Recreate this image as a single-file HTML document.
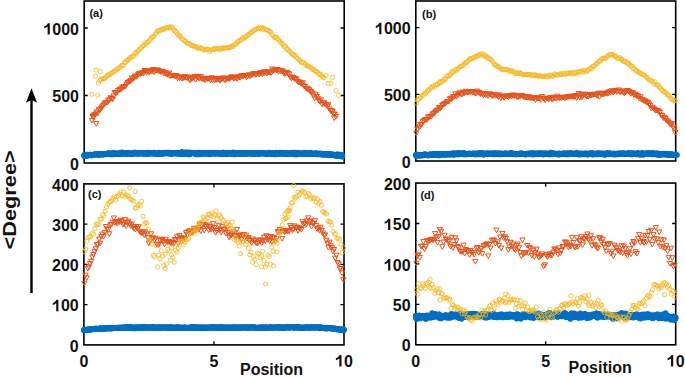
<!DOCTYPE html>
<html><head><meta charset="utf-8"><style>
html,body{margin:0;padding:0;background:#fff;}
body{width:685px;height:377px;overflow:hidden;position:relative;}
svg{position:absolute;left:0;top:0;}
text{font-family:"Liberation Sans",sans-serif;font-weight:bold;fill:#111;}
.tl{font-size:16px;}
.xl{font-size:16px;}
.yl{font-size:19px;}
</style></head><body>
<svg width="685" height="377" viewBox="0 0 685 377">
<defs><clipPath id="clipa"><rect x="83.2" y="0" width="262" height="164"/></clipPath><clipPath id="clipb"><rect x="414.8" y="0" width="261.9" height="162"/></clipPath><clipPath id="clipc"><rect x="82.9" y="182.9" width="262.1" height="163"/></clipPath><clipPath id="clipd"><rect x="414.8" y="182.05" width="261.9" height="163.75"/></clipPath></defs>
<rect x="84.2" y="1" width="260" height="162" fill="none" stroke="#000" stroke-width="1.6"/><path d="M84.2 95.5h3.6M344.2 95.5h-3.6" stroke="#000" stroke-width="1.3"/><path d="M84.2 28h3.6M344.2 28h-3.6" stroke="#000" stroke-width="1.3"/><rect x="415.8" y="1" width="259.9" height="160" fill="none" stroke="#000" stroke-width="1.6"/><path d="M415.8 94.33h3.6M675.7 94.33h-3.6" stroke="#000" stroke-width="1.3"/><path d="M415.8 27.67h3.6M675.7 27.67h-3.6" stroke="#000" stroke-width="1.3"/><rect x="83.9" y="183.9" width="260.1" height="161" fill="none" stroke="#000" stroke-width="1.6"/><path d="M83.9 304.65h3.6M344 304.65h-3.6" stroke="#000" stroke-width="1.3"/><path d="M83.9 264.4h3.6M344 264.4h-3.6" stroke="#000" stroke-width="1.3"/><path d="M83.9 224.15h3.6M344 224.15h-3.6" stroke="#000" stroke-width="1.3"/><path d="M213.95 344.9v-3.6M213.95 183.9v3.6" stroke="#000" stroke-width="1.3"/><rect x="415.8" y="183.05" width="259.9" height="161.75" fill="none" stroke="#000" stroke-width="1.6"/><path d="M415.8 304.36h3.6M675.7 304.36h-3.6" stroke="#000" stroke-width="1.3"/><path d="M415.8 263.93h3.6M675.7 263.93h-3.6" stroke="#000" stroke-width="1.3"/><path d="M415.8 223.49h3.6M675.7 223.49h-3.6" stroke="#000" stroke-width="1.3"/><path d="M545.75 344.8v-3.6M545.75 183.05v3.6" stroke="#000" stroke-width="1.3"/>
<g><g fill="#006FC4"><circle cx="84.2" cy="155.43" r="2.8"/><circle cx="84.52" cy="154.86" r="2.8"/><circle cx="84.85" cy="154.88" r="2.8"/><circle cx="85.17" cy="155.55" r="2.8"/><circle cx="85.49" cy="155.43" r="2.8"/><circle cx="85.82" cy="155.49" r="2.8"/><circle cx="86.14" cy="155.01" r="2.8"/><circle cx="86.46" cy="155.23" r="2.8"/><circle cx="86.79" cy="154.87" r="2.8"/><circle cx="87.11" cy="155.89" r="2.8"/><circle cx="87.43" cy="154.47" r="2.8"/><circle cx="87.75" cy="155.11" r="2.8"/><circle cx="88.08" cy="154.76" r="2.8"/><circle cx="88.4" cy="155.07" r="2.8"/><circle cx="88.72" cy="155.14" r="2.8"/><circle cx="89.05" cy="154.78" r="2.8"/><circle cx="89.37" cy="154.61" r="2.8"/><circle cx="89.69" cy="155" r="2.8"/><circle cx="90.02" cy="154.95" r="2.8"/><circle cx="90.34" cy="154.59" r="2.8"/><circle cx="90.66" cy="155.2" r="2.8"/><circle cx="90.99" cy="155.43" r="2.8"/><circle cx="91.31" cy="154.64" r="2.8"/><circle cx="91.63" cy="155.04" r="2.8"/><circle cx="91.96" cy="155.53" r="2.8"/><circle cx="92.28" cy="155.05" r="2.8"/><circle cx="92.6" cy="154.89" r="2.8"/><circle cx="92.92" cy="155.16" r="2.8"/><circle cx="93.25" cy="155.26" r="2.8"/><circle cx="93.57" cy="154.61" r="2.8"/><circle cx="93.89" cy="154.24" r="2.8"/><circle cx="94.22" cy="154.68" r="2.8"/><circle cx="94.54" cy="154.86" r="2.8"/><circle cx="94.86" cy="154.38" r="2.8"/><circle cx="95.19" cy="154.22" r="2.8"/><circle cx="95.51" cy="154.61" r="2.8"/><circle cx="95.83" cy="154.24" r="2.8"/><circle cx="96.16" cy="154.02" r="2.8"/><circle cx="96.48" cy="154.5" r="2.8"/><circle cx="96.8" cy="154.72" r="2.8"/><circle cx="97.13" cy="154.22" r="2.8"/><circle cx="97.45" cy="154.25" r="2.8"/><circle cx="97.77" cy="153.89" r="2.8"/><circle cx="98.09" cy="154.84" r="2.8"/><circle cx="98.42" cy="154.58" r="2.8"/><circle cx="98.74" cy="154.64" r="2.8"/><circle cx="99.06" cy="154.98" r="2.8"/><circle cx="99.39" cy="154.22" r="2.8"/><circle cx="99.71" cy="154.04" r="2.8"/><circle cx="100.03" cy="154.54" r="2.8"/><circle cx="100.36" cy="153.67" r="2.8"/><circle cx="100.68" cy="153.88" r="2.8"/><circle cx="101" cy="153.95" r="2.8"/><circle cx="101.33" cy="154.03" r="2.8"/><circle cx="101.65" cy="153.79" r="2.8"/><circle cx="101.97" cy="154.7" r="2.8"/><circle cx="102.3" cy="153.9" r="2.8"/><circle cx="102.62" cy="153.89" r="2.8"/><circle cx="102.94" cy="154.84" r="2.8"/><circle cx="103.26" cy="153.97" r="2.8"/><circle cx="103.59" cy="154.2" r="2.8"/><circle cx="103.91" cy="153.76" r="2.8"/><circle cx="104.23" cy="154.25" r="2.8"/><circle cx="104.56" cy="154.06" r="2.8"/><circle cx="104.88" cy="153.9" r="2.8"/><circle cx="105.2" cy="154.38" r="2.8"/><circle cx="105.53" cy="153.77" r="2.8"/><circle cx="105.85" cy="154.04" r="2.8"/><circle cx="106.17" cy="153.79" r="2.8"/><circle cx="106.5" cy="154.19" r="2.8"/><circle cx="106.82" cy="153.52" r="2.8"/><circle cx="107.14" cy="153.7" r="2.8"/><circle cx="107.47" cy="154.01" r="2.8"/><circle cx="107.79" cy="153.66" r="2.8"/><circle cx="108.11" cy="153.4" r="2.8"/><circle cx="108.43" cy="153.17" r="2.8"/><circle cx="108.76" cy="154.52" r="2.8"/><circle cx="109.08" cy="153.51" r="2.8"/><circle cx="109.4" cy="153.66" r="2.8"/><circle cx="109.73" cy="153.88" r="2.8"/><circle cx="110.05" cy="154.23" r="2.8"/><circle cx="110.37" cy="153.31" r="2.8"/><circle cx="110.7" cy="154.32" r="2.8"/><circle cx="111.02" cy="153.56" r="2.8"/><circle cx="111.34" cy="153.26" r="2.8"/><circle cx="111.67" cy="154.42" r="2.8"/><circle cx="111.99" cy="153.89" r="2.8"/><circle cx="112.31" cy="154.28" r="2.8"/><circle cx="112.64" cy="153.65" r="2.8"/><circle cx="112.96" cy="153.12" r="2.8"/><circle cx="113.28" cy="152.9" r="2.8"/><circle cx="113.6" cy="154.43" r="2.8"/><circle cx="113.93" cy="153.94" r="2.8"/><circle cx="114.25" cy="153.41" r="2.8"/><circle cx="114.57" cy="153.04" r="2.8"/><circle cx="114.9" cy="153.5" r="2.8"/><circle cx="115.22" cy="153.97" r="2.8"/><circle cx="115.54" cy="153.53" r="2.8"/><circle cx="115.87" cy="153.65" r="2.8"/><circle cx="116.19" cy="153.72" r="2.8"/><circle cx="116.51" cy="153.92" r="2.8"/><circle cx="116.84" cy="153.46" r="2.8"/><circle cx="117.16" cy="153.48" r="2.8"/><circle cx="117.48" cy="153.63" r="2.8"/><circle cx="117.81" cy="153.67" r="2.8"/><circle cx="118.13" cy="154.09" r="2.8"/><circle cx="118.45" cy="153.76" r="2.8"/><circle cx="118.77" cy="153.06" r="2.8"/><circle cx="119.1" cy="153.62" r="2.8"/><circle cx="119.42" cy="154.12" r="2.8"/><circle cx="119.74" cy="152.98" r="2.8"/><circle cx="120.07" cy="153.3" r="2.8"/><circle cx="120.39" cy="152.65" r="2.8"/><circle cx="120.71" cy="153.47" r="2.8"/><circle cx="121.04" cy="153.67" r="2.8"/><circle cx="121.36" cy="154.06" r="2.8"/><circle cx="121.68" cy="152.93" r="2.8"/><circle cx="122.01" cy="152.41" r="2.8"/><circle cx="122.33" cy="153.77" r="2.8"/><circle cx="122.65" cy="153.69" r="2.8"/><circle cx="122.98" cy="153.18" r="2.8"/><circle cx="123.3" cy="153.75" r="2.8"/><circle cx="123.62" cy="153.52" r="2.8"/><circle cx="123.94" cy="153.55" r="2.8"/><circle cx="124.27" cy="153.33" r="2.8"/><circle cx="124.59" cy="152.97" r="2.8"/><circle cx="124.91" cy="153.4" r="2.8"/><circle cx="125.24" cy="153.04" r="2.8"/><circle cx="125.56" cy="153.58" r="2.8"/><circle cx="125.88" cy="153.27" r="2.8"/><circle cx="126.21" cy="154.27" r="2.8"/><circle cx="126.53" cy="153.99" r="2.8"/><circle cx="126.85" cy="153.08" r="2.8"/><circle cx="127.18" cy="153.64" r="2.8"/><circle cx="127.5" cy="153.17" r="2.8"/><circle cx="127.82" cy="153.18" r="2.8"/><circle cx="128.15" cy="152.86" r="2.8"/><circle cx="128.47" cy="153.07" r="2.8"/><circle cx="128.79" cy="152.98" r="2.8"/><circle cx="129.11" cy="153.44" r="2.8"/><circle cx="129.44" cy="153.68" r="2.8"/><circle cx="129.76" cy="153.69" r="2.8"/><circle cx="130.08" cy="153.59" r="2.8"/><circle cx="130.41" cy="153.85" r="2.8"/><circle cx="130.73" cy="153.61" r="2.8"/><circle cx="131.05" cy="153.43" r="2.8"/><circle cx="131.38" cy="153.28" r="2.8"/><circle cx="131.7" cy="153.52" r="2.8"/><circle cx="132.02" cy="154.16" r="2.8"/><circle cx="132.35" cy="153.41" r="2.8"/><circle cx="132.67" cy="153.29" r="2.8"/><circle cx="132.99" cy="152.94" r="2.8"/><circle cx="133.32" cy="153.15" r="2.8"/><circle cx="133.64" cy="153.64" r="2.8"/><circle cx="133.96" cy="153.67" r="2.8"/><circle cx="134.28" cy="152.56" r="2.8"/><circle cx="134.61" cy="153.07" r="2.8"/><circle cx="134.93" cy="152.63" r="2.8"/><circle cx="135.25" cy="152.51" r="2.8"/><circle cx="135.58" cy="153.7" r="2.8"/><circle cx="135.9" cy="153.22" r="2.8"/><circle cx="136.22" cy="153.18" r="2.8"/><circle cx="136.55" cy="153.14" r="2.8"/><circle cx="136.87" cy="153.15" r="2.8"/><circle cx="137.19" cy="153.28" r="2.8"/><circle cx="137.52" cy="153.29" r="2.8"/><circle cx="137.84" cy="153.97" r="2.8"/><circle cx="138.16" cy="153.43" r="2.8"/><circle cx="138.49" cy="153.66" r="2.8"/><circle cx="138.81" cy="153.31" r="2.8"/><circle cx="139.13" cy="153.55" r="2.8"/><circle cx="139.46" cy="153.11" r="2.8"/><circle cx="139.78" cy="153.03" r="2.8"/><circle cx="140.1" cy="153.23" r="2.8"/><circle cx="140.42" cy="153.23" r="2.8"/><circle cx="140.75" cy="153.32" r="2.8"/><circle cx="141.07" cy="153.53" r="2.8"/><circle cx="141.39" cy="153.42" r="2.8"/><circle cx="141.72" cy="153.55" r="2.8"/><circle cx="142.04" cy="153.19" r="2.8"/><circle cx="142.36" cy="153.34" r="2.8"/><circle cx="142.69" cy="153.11" r="2.8"/><circle cx="143.01" cy="153.88" r="2.8"/><circle cx="143.33" cy="152.99" r="2.8"/><circle cx="143.66" cy="153.65" r="2.8"/><circle cx="143.98" cy="153.64" r="2.8"/><circle cx="144.3" cy="153.42" r="2.8"/><circle cx="144.63" cy="153.57" r="2.8"/><circle cx="144.95" cy="153.22" r="2.8"/><circle cx="145.27" cy="153.57" r="2.8"/><circle cx="145.59" cy="153.77" r="2.8"/><circle cx="145.92" cy="153.68" r="2.8"/><circle cx="146.24" cy="152.8" r="2.8"/><circle cx="146.56" cy="153.32" r="2.8"/><circle cx="146.89" cy="153.81" r="2.8"/><circle cx="147.21" cy="153.33" r="2.8"/><circle cx="147.53" cy="153.96" r="2.8"/><circle cx="147.86" cy="152.6" r="2.8"/><circle cx="148.18" cy="153.95" r="2.8"/><circle cx="148.5" cy="153.13" r="2.8"/><circle cx="148.83" cy="153.11" r="2.8"/><circle cx="149.15" cy="153.91" r="2.8"/><circle cx="149.47" cy="153.2" r="2.8"/><circle cx="149.8" cy="152.92" r="2.8"/><circle cx="150.12" cy="153.13" r="2.8"/><circle cx="150.44" cy="153.21" r="2.8"/><circle cx="150.76" cy="152.94" r="2.8"/><circle cx="151.09" cy="153.25" r="2.8"/><circle cx="151.41" cy="153.18" r="2.8"/><circle cx="151.73" cy="153.37" r="2.8"/><circle cx="152.06" cy="153.06" r="2.8"/><circle cx="152.38" cy="153.7" r="2.8"/><circle cx="152.7" cy="152.99" r="2.8"/><circle cx="153.03" cy="153.52" r="2.8"/><circle cx="153.35" cy="153.75" r="2.8"/><circle cx="153.67" cy="153.16" r="2.8"/><circle cx="154" cy="152.62" r="2.8"/><circle cx="154.32" cy="152.92" r="2.8"/><circle cx="154.64" cy="153.52" r="2.8"/><circle cx="154.97" cy="153.02" r="2.8"/><circle cx="155.29" cy="153.49" r="2.8"/><circle cx="155.61" cy="153.35" r="2.8"/><circle cx="155.93" cy="153.27" r="2.8"/><circle cx="156.26" cy="154.24" r="2.8"/><circle cx="156.58" cy="153.22" r="2.8"/><circle cx="156.9" cy="153.72" r="2.8"/><circle cx="157.23" cy="153.58" r="2.8"/><circle cx="157.55" cy="153.89" r="2.8"/><circle cx="157.87" cy="153.91" r="2.8"/><circle cx="158.2" cy="153.68" r="2.8"/><circle cx="158.52" cy="152.96" r="2.8"/><circle cx="158.84" cy="152.62" r="2.8"/><circle cx="159.17" cy="153.3" r="2.8"/><circle cx="159.49" cy="152.85" r="2.8"/><circle cx="159.81" cy="153.4" r="2.8"/><circle cx="160.14" cy="154.06" r="2.8"/><circle cx="160.46" cy="153.23" r="2.8"/><circle cx="160.78" cy="153.1" r="2.8"/><circle cx="161.1" cy="153.46" r="2.8"/><circle cx="161.43" cy="153.16" r="2.8"/><circle cx="161.75" cy="153.05" r="2.8"/><circle cx="162.07" cy="153.63" r="2.8"/><circle cx="162.4" cy="153.88" r="2.8"/><circle cx="162.72" cy="153.37" r="2.8"/><circle cx="163.04" cy="153.37" r="2.8"/><circle cx="163.37" cy="153.43" r="2.8"/><circle cx="163.69" cy="152.88" r="2.8"/><circle cx="164.01" cy="152.59" r="2.8"/><circle cx="164.34" cy="153.45" r="2.8"/><circle cx="164.66" cy="153" r="2.8"/><circle cx="164.98" cy="152.91" r="2.8"/><circle cx="165.31" cy="153" r="2.8"/><circle cx="165.63" cy="152.86" r="2.8"/><circle cx="165.95" cy="153.45" r="2.8"/><circle cx="166.27" cy="152.99" r="2.8"/><circle cx="166.6" cy="152.47" r="2.8"/><circle cx="166.92" cy="152.97" r="2.8"/><circle cx="167.24" cy="153.54" r="2.8"/><circle cx="167.57" cy="153.05" r="2.8"/><circle cx="167.89" cy="152.78" r="2.8"/><circle cx="168.21" cy="153.15" r="2.8"/><circle cx="168.54" cy="153.52" r="2.8"/><circle cx="168.86" cy="152.67" r="2.8"/><circle cx="169.18" cy="153.8" r="2.8"/><circle cx="169.51" cy="153.1" r="2.8"/><circle cx="169.83" cy="153.31" r="2.8"/><circle cx="170.15" cy="153.78" r="2.8"/><circle cx="170.48" cy="152.81" r="2.8"/><circle cx="170.8" cy="153.16" r="2.8"/><circle cx="171.12" cy="153.78" r="2.8"/><circle cx="171.44" cy="153.06" r="2.8"/><circle cx="171.77" cy="153.48" r="2.8"/><circle cx="172.09" cy="154.08" r="2.8"/><circle cx="172.41" cy="153.59" r="2.8"/><circle cx="172.74" cy="153.2" r="2.8"/><circle cx="173.06" cy="153.05" r="2.8"/><circle cx="173.38" cy="153.24" r="2.8"/><circle cx="173.71" cy="153.29" r="2.8"/><circle cx="174.03" cy="153.12" r="2.8"/><circle cx="174.35" cy="153.4" r="2.8"/><circle cx="174.68" cy="152.84" r="2.8"/><circle cx="175" cy="153.25" r="2.8"/><circle cx="175.32" cy="153.2" r="2.8"/><circle cx="175.65" cy="153.1" r="2.8"/><circle cx="175.97" cy="153.74" r="2.8"/><circle cx="176.29" cy="153.6" r="2.8"/><circle cx="176.61" cy="152.7" r="2.8"/><circle cx="176.94" cy="153.18" r="2.8"/><circle cx="177.26" cy="153.43" r="2.8"/><circle cx="177.58" cy="153.18" r="2.8"/><circle cx="177.91" cy="153.52" r="2.8"/><circle cx="178.23" cy="153.21" r="2.8"/><circle cx="178.55" cy="153.59" r="2.8"/><circle cx="178.88" cy="153.21" r="2.8"/><circle cx="179.2" cy="153.96" r="2.8"/><circle cx="179.52" cy="152.79" r="2.8"/><circle cx="179.85" cy="153.53" r="2.8"/><circle cx="180.17" cy="153.97" r="2.8"/><circle cx="180.49" cy="153.42" r="2.8"/><circle cx="180.82" cy="153.48" r="2.8"/><circle cx="181.14" cy="153.27" r="2.8"/><circle cx="181.46" cy="153.79" r="2.8"/><circle cx="181.78" cy="153.17" r="2.8"/><circle cx="182.11" cy="151.86" r="2.8"/><circle cx="182.43" cy="153.85" r="2.8"/><circle cx="182.75" cy="153.2" r="2.8"/><circle cx="183.08" cy="153.46" r="2.8"/><circle cx="183.4" cy="153.26" r="2.8"/><circle cx="183.72" cy="154.07" r="2.8"/><circle cx="184.05" cy="153.8" r="2.8"/><circle cx="184.37" cy="153.15" r="2.8"/><circle cx="184.69" cy="153.35" r="2.8"/><circle cx="185.02" cy="152.68" r="2.8"/><circle cx="185.34" cy="153.63" r="2.8"/><circle cx="185.66" cy="153.27" r="2.8"/><circle cx="185.99" cy="152.16" r="2.8"/><circle cx="186.31" cy="153.65" r="2.8"/><circle cx="186.63" cy="153.71" r="2.8"/><circle cx="186.95" cy="153.36" r="2.8"/><circle cx="187.28" cy="153.36" r="2.8"/><circle cx="187.6" cy="153" r="2.8"/><circle cx="187.92" cy="153.29" r="2.8"/><circle cx="188.25" cy="153.65" r="2.8"/><circle cx="188.57" cy="153.26" r="2.8"/><circle cx="188.89" cy="152.28" r="2.8"/><circle cx="189.22" cy="152.84" r="2.8"/><circle cx="189.54" cy="154.48" r="2.8"/><circle cx="189.86" cy="153.41" r="2.8"/><circle cx="190.19" cy="153.71" r="2.8"/><circle cx="190.51" cy="153.1" r="2.8"/><circle cx="190.83" cy="153.42" r="2.8"/><circle cx="191.16" cy="152.57" r="2.8"/><circle cx="191.48" cy="152.98" r="2.8"/><circle cx="191.8" cy="153" r="2.8"/><circle cx="192.13" cy="153.28" r="2.8"/><circle cx="192.45" cy="153.37" r="2.8"/><circle cx="192.77" cy="153.22" r="2.8"/><circle cx="193.09" cy="152.84" r="2.8"/><circle cx="193.42" cy="153.14" r="2.8"/><circle cx="193.74" cy="153.5" r="2.8"/><circle cx="194.06" cy="152.85" r="2.8"/><circle cx="194.39" cy="153.29" r="2.8"/><circle cx="194.71" cy="153.4" r="2.8"/><circle cx="195.03" cy="153.69" r="2.8"/><circle cx="195.36" cy="153.6" r="2.8"/><circle cx="195.68" cy="153.62" r="2.8"/><circle cx="196" cy="154.5" r="2.8"/><circle cx="196.33" cy="152.96" r="2.8"/><circle cx="196.65" cy="153.14" r="2.8"/><circle cx="196.97" cy="153.46" r="2.8"/><circle cx="197.3" cy="152.95" r="2.8"/><circle cx="197.62" cy="153.19" r="2.8"/><circle cx="197.94" cy="153.22" r="2.8"/><circle cx="198.26" cy="154.38" r="2.8"/><circle cx="198.59" cy="153.47" r="2.8"/><circle cx="198.91" cy="153.16" r="2.8"/><circle cx="199.23" cy="152.72" r="2.8"/><circle cx="199.56" cy="152.63" r="2.8"/><circle cx="199.88" cy="152.8" r="2.8"/><circle cx="200.2" cy="153.85" r="2.8"/><circle cx="200.53" cy="154.27" r="2.8"/><circle cx="200.85" cy="153.15" r="2.8"/><circle cx="201.17" cy="153.37" r="2.8"/><circle cx="201.5" cy="152.99" r="2.8"/><circle cx="201.82" cy="153.43" r="2.8"/><circle cx="202.14" cy="153.29" r="2.8"/><circle cx="202.47" cy="153.99" r="2.8"/><circle cx="202.79" cy="153.2" r="2.8"/><circle cx="203.11" cy="153.57" r="2.8"/><circle cx="203.43" cy="153.25" r="2.8"/><circle cx="203.76" cy="153.2" r="2.8"/><circle cx="204.08" cy="153.44" r="2.8"/><circle cx="204.4" cy="153.26" r="2.8"/><circle cx="204.73" cy="153.4" r="2.8"/><circle cx="205.05" cy="153.08" r="2.8"/><circle cx="205.37" cy="153.19" r="2.8"/><circle cx="205.7" cy="153.61" r="2.8"/><circle cx="206.02" cy="153.63" r="2.8"/><circle cx="206.34" cy="152.69" r="2.8"/><circle cx="206.67" cy="153.44" r="2.8"/><circle cx="206.99" cy="152.99" r="2.8"/><circle cx="207.31" cy="153.24" r="2.8"/><circle cx="207.64" cy="153.63" r="2.8"/><circle cx="207.96" cy="153.7" r="2.8"/><circle cx="208.28" cy="153.35" r="2.8"/><circle cx="208.6" cy="153.3" r="2.8"/><circle cx="208.93" cy="153.15" r="2.8"/><circle cx="209.25" cy="153.92" r="2.8"/><circle cx="209.57" cy="153.64" r="2.8"/><circle cx="209.9" cy="153.44" r="2.8"/><circle cx="210.22" cy="152.76" r="2.8"/><circle cx="210.54" cy="154.36" r="2.8"/><circle cx="210.87" cy="153.23" r="2.8"/><circle cx="211.19" cy="153.63" r="2.8"/><circle cx="211.51" cy="153.23" r="2.8"/><circle cx="211.84" cy="153.61" r="2.8"/><circle cx="212.16" cy="153.26" r="2.8"/><circle cx="212.48" cy="152.78" r="2.8"/><circle cx="212.81" cy="153.27" r="2.8"/><circle cx="213.13" cy="153.24" r="2.8"/><circle cx="213.45" cy="153.26" r="2.8"/><circle cx="213.77" cy="153.72" r="2.8"/><circle cx="214.1" cy="153.19" r="2.8"/><circle cx="214.42" cy="153.5" r="2.8"/><circle cx="214.74" cy="153.74" r="2.8"/><circle cx="215.07" cy="153.43" r="2.8"/><circle cx="215.39" cy="153.51" r="2.8"/><circle cx="215.71" cy="153.11" r="2.8"/><circle cx="216.04" cy="153.43" r="2.8"/><circle cx="216.36" cy="153.63" r="2.8"/><circle cx="216.68" cy="152.82" r="2.8"/><circle cx="217.01" cy="153.01" r="2.8"/><circle cx="217.33" cy="152.9" r="2.8"/><circle cx="217.65" cy="153.16" r="2.8"/><circle cx="217.98" cy="153.45" r="2.8"/><circle cx="218.3" cy="153.58" r="2.8"/><circle cx="218.62" cy="153.52" r="2.8"/><circle cx="218.94" cy="153.03" r="2.8"/><circle cx="219.27" cy="153.36" r="2.8"/><circle cx="219.59" cy="154.01" r="2.8"/><circle cx="219.91" cy="153.42" r="2.8"/><circle cx="220.24" cy="153.98" r="2.8"/><circle cx="220.56" cy="153.34" r="2.8"/><circle cx="220.88" cy="153.89" r="2.8"/><circle cx="221.21" cy="153.92" r="2.8"/><circle cx="221.53" cy="153.36" r="2.8"/><circle cx="221.85" cy="153.44" r="2.8"/><circle cx="222.18" cy="154.08" r="2.8"/><circle cx="222.5" cy="153.1" r="2.8"/><circle cx="222.82" cy="152.53" r="2.8"/><circle cx="223.15" cy="154" r="2.8"/><circle cx="223.47" cy="152.67" r="2.8"/><circle cx="223.79" cy="153.68" r="2.8"/><circle cx="224.11" cy="153.6" r="2.8"/><circle cx="224.44" cy="153.47" r="2.8"/><circle cx="224.76" cy="153.99" r="2.8"/><circle cx="225.08" cy="152.87" r="2.8"/><circle cx="225.41" cy="153.2" r="2.8"/><circle cx="225.73" cy="153.7" r="2.8"/><circle cx="226.05" cy="153.51" r="2.8"/><circle cx="226.38" cy="154.01" r="2.8"/><circle cx="226.7" cy="153.54" r="2.8"/><circle cx="227.02" cy="153.02" r="2.8"/><circle cx="227.35" cy="154.09" r="2.8"/><circle cx="227.67" cy="153.57" r="2.8"/><circle cx="227.99" cy="153.34" r="2.8"/><circle cx="228.32" cy="152.97" r="2.8"/><circle cx="228.64" cy="152.85" r="2.8"/><circle cx="228.96" cy="153.58" r="2.8"/><circle cx="229.28" cy="153.7" r="2.8"/><circle cx="229.61" cy="153.21" r="2.8"/><circle cx="229.93" cy="153.54" r="2.8"/><circle cx="230.25" cy="153.52" r="2.8"/><circle cx="230.58" cy="152.96" r="2.8"/><circle cx="230.9" cy="152.71" r="2.8"/><circle cx="231.22" cy="153.29" r="2.8"/><circle cx="231.55" cy="153.47" r="2.8"/><circle cx="231.87" cy="153.16" r="2.8"/><circle cx="232.19" cy="154.16" r="2.8"/><circle cx="232.52" cy="153.4" r="2.8"/><circle cx="232.84" cy="153.82" r="2.8"/><circle cx="233.16" cy="152.42" r="2.8"/><circle cx="233.49" cy="153.1" r="2.8"/><circle cx="233.81" cy="153.33" r="2.8"/><circle cx="234.13" cy="153.47" r="2.8"/><circle cx="234.45" cy="154.41" r="2.8"/><circle cx="234.78" cy="153.1" r="2.8"/><circle cx="235.1" cy="152.73" r="2.8"/><circle cx="235.42" cy="153.68" r="2.8"/><circle cx="235.75" cy="153.11" r="2.8"/><circle cx="236.07" cy="153.09" r="2.8"/><circle cx="236.39" cy="154.01" r="2.8"/><circle cx="236.72" cy="153.01" r="2.8"/><circle cx="237.04" cy="152.84" r="2.8"/><circle cx="237.36" cy="153.29" r="2.8"/><circle cx="237.69" cy="153.41" r="2.8"/><circle cx="238.01" cy="153.06" r="2.8"/><circle cx="238.33" cy="154.01" r="2.8"/><circle cx="238.66" cy="153.35" r="2.8"/><circle cx="238.98" cy="152.96" r="2.8"/><circle cx="239.3" cy="153.89" r="2.8"/><circle cx="239.63" cy="152.98" r="2.8"/><circle cx="239.95" cy="153.55" r="2.8"/><circle cx="240.27" cy="154.22" r="2.8"/><circle cx="240.59" cy="153.42" r="2.8"/><circle cx="240.92" cy="153.77" r="2.8"/><circle cx="241.24" cy="153.25" r="2.8"/><circle cx="241.56" cy="153.85" r="2.8"/><circle cx="241.89" cy="152.95" r="2.8"/><circle cx="242.21" cy="153.68" r="2.8"/><circle cx="242.53" cy="153.23" r="2.8"/><circle cx="242.86" cy="153.62" r="2.8"/><circle cx="243.18" cy="153.51" r="2.8"/><circle cx="243.5" cy="152.89" r="2.8"/><circle cx="243.83" cy="153.29" r="2.8"/><circle cx="244.15" cy="153.54" r="2.8"/><circle cx="244.47" cy="153.88" r="2.8"/><circle cx="244.8" cy="152.91" r="2.8"/><circle cx="245.12" cy="153.08" r="2.8"/><circle cx="245.44" cy="153.51" r="2.8"/><circle cx="245.76" cy="153.28" r="2.8"/><circle cx="246.09" cy="153.79" r="2.8"/><circle cx="246.41" cy="153.78" r="2.8"/><circle cx="246.73" cy="153.71" r="2.8"/><circle cx="247.06" cy="153.23" r="2.8"/><circle cx="247.38" cy="153.25" r="2.8"/><circle cx="247.7" cy="153.67" r="2.8"/><circle cx="248.03" cy="153.07" r="2.8"/><circle cx="248.35" cy="153.05" r="2.8"/><circle cx="248.67" cy="153.3" r="2.8"/><circle cx="249" cy="152.95" r="2.8"/><circle cx="249.32" cy="153.49" r="2.8"/><circle cx="249.64" cy="153.41" r="2.8"/><circle cx="249.97" cy="153.18" r="2.8"/><circle cx="250.29" cy="153.38" r="2.8"/><circle cx="250.61" cy="153.05" r="2.8"/><circle cx="250.93" cy="153.87" r="2.8"/><circle cx="251.26" cy="152.79" r="2.8"/><circle cx="251.58" cy="153.68" r="2.8"/><circle cx="251.9" cy="153.43" r="2.8"/><circle cx="252.23" cy="153.92" r="2.8"/><circle cx="252.55" cy="153.12" r="2.8"/><circle cx="252.87" cy="152.85" r="2.8"/><circle cx="253.2" cy="152.93" r="2.8"/><circle cx="253.52" cy="153.03" r="2.8"/><circle cx="253.84" cy="153.99" r="2.8"/><circle cx="254.17" cy="153.68" r="2.8"/><circle cx="254.49" cy="153.55" r="2.8"/><circle cx="254.81" cy="153.74" r="2.8"/><circle cx="255.14" cy="152.91" r="2.8"/><circle cx="255.46" cy="153.29" r="2.8"/><circle cx="255.78" cy="153.37" r="2.8"/><circle cx="256.1" cy="153.16" r="2.8"/><circle cx="256.43" cy="153.75" r="2.8"/><circle cx="256.75" cy="153.73" r="2.8"/><circle cx="257.07" cy="153.72" r="2.8"/><circle cx="257.4" cy="153.16" r="2.8"/><circle cx="257.72" cy="153.22" r="2.8"/><circle cx="258.04" cy="153.12" r="2.8"/><circle cx="258.37" cy="152.92" r="2.8"/><circle cx="258.69" cy="153.91" r="2.8"/><circle cx="259.01" cy="153.58" r="2.8"/><circle cx="259.34" cy="153.3" r="2.8"/><circle cx="259.66" cy="153.9" r="2.8"/><circle cx="259.98" cy="153.57" r="2.8"/><circle cx="260.31" cy="152.94" r="2.8"/><circle cx="260.63" cy="152.91" r="2.8"/><circle cx="260.95" cy="152.92" r="2.8"/><circle cx="261.27" cy="153.34" r="2.8"/><circle cx="261.6" cy="153.44" r="2.8"/><circle cx="261.92" cy="152.92" r="2.8"/><circle cx="262.24" cy="153.5" r="2.8"/><circle cx="262.57" cy="153.22" r="2.8"/><circle cx="262.89" cy="152.82" r="2.8"/><circle cx="263.21" cy="153.5" r="2.8"/><circle cx="263.54" cy="153.6" r="2.8"/><circle cx="263.86" cy="153.35" r="2.8"/><circle cx="264.18" cy="153.11" r="2.8"/><circle cx="264.51" cy="153.15" r="2.8"/><circle cx="264.83" cy="153.29" r="2.8"/><circle cx="265.15" cy="153.12" r="2.8"/><circle cx="265.48" cy="154" r="2.8"/><circle cx="265.8" cy="153.7" r="2.8"/><circle cx="266.12" cy="153.28" r="2.8"/><circle cx="266.44" cy="153.72" r="2.8"/><circle cx="266.77" cy="153.89" r="2.8"/><circle cx="267.09" cy="153.84" r="2.8"/><circle cx="267.41" cy="153.73" r="2.8"/><circle cx="267.74" cy="153.43" r="2.8"/><circle cx="268.06" cy="153.77" r="2.8"/><circle cx="268.38" cy="153.26" r="2.8"/><circle cx="268.71" cy="152.67" r="2.8"/><circle cx="269.03" cy="153.42" r="2.8"/><circle cx="269.35" cy="152.85" r="2.8"/><circle cx="269.68" cy="153.25" r="2.8"/><circle cx="270" cy="153.82" r="2.8"/><circle cx="270.32" cy="153.47" r="2.8"/><circle cx="270.65" cy="153.77" r="2.8"/><circle cx="270.97" cy="153.06" r="2.8"/><circle cx="271.29" cy="153.84" r="2.8"/><circle cx="271.61" cy="152.84" r="2.8"/><circle cx="271.94" cy="153.14" r="2.8"/><circle cx="272.26" cy="154.2" r="2.8"/><circle cx="272.58" cy="153.06" r="2.8"/><circle cx="272.91" cy="152.75" r="2.8"/><circle cx="273.23" cy="153.7" r="2.8"/><circle cx="273.55" cy="152.99" r="2.8"/><circle cx="273.88" cy="154.12" r="2.8"/><circle cx="274.2" cy="153.29" r="2.8"/><circle cx="274.52" cy="154.06" r="2.8"/><circle cx="274.85" cy="153.2" r="2.8"/><circle cx="275.17" cy="154.12" r="2.8"/><circle cx="275.49" cy="154.46" r="2.8"/><circle cx="275.82" cy="153.24" r="2.8"/><circle cx="276.14" cy="152.47" r="2.8"/><circle cx="276.46" cy="153.64" r="2.8"/><circle cx="276.78" cy="153.07" r="2.8"/><circle cx="277.11" cy="153.36" r="2.8"/><circle cx="277.43" cy="153.54" r="2.8"/><circle cx="277.75" cy="153.16" r="2.8"/><circle cx="278.08" cy="152.74" r="2.8"/><circle cx="278.4" cy="153.91" r="2.8"/><circle cx="278.72" cy="153.18" r="2.8"/><circle cx="279.05" cy="153.27" r="2.8"/><circle cx="279.37" cy="153.99" r="2.8"/><circle cx="279.69" cy="152.76" r="2.8"/><circle cx="280.02" cy="152.63" r="2.8"/><circle cx="280.34" cy="153.81" r="2.8"/><circle cx="280.66" cy="152.72" r="2.8"/><circle cx="280.99" cy="153.4" r="2.8"/><circle cx="281.31" cy="153.49" r="2.8"/><circle cx="281.63" cy="152.82" r="2.8"/><circle cx="281.95" cy="153.34" r="2.8"/><circle cx="282.28" cy="153.3" r="2.8"/><circle cx="282.6" cy="152.82" r="2.8"/><circle cx="282.92" cy="152.91" r="2.8"/><circle cx="283.25" cy="153.07" r="2.8"/><circle cx="283.57" cy="154" r="2.8"/><circle cx="283.89" cy="154.08" r="2.8"/><circle cx="284.22" cy="152.98" r="2.8"/><circle cx="284.54" cy="153.82" r="2.8"/><circle cx="284.86" cy="153.38" r="2.8"/><circle cx="285.19" cy="153.88" r="2.8"/><circle cx="285.51" cy="153.52" r="2.8"/><circle cx="285.83" cy="153.97" r="2.8"/><circle cx="286.16" cy="152.79" r="2.8"/><circle cx="286.48" cy="153.87" r="2.8"/><circle cx="286.8" cy="153.5" r="2.8"/><circle cx="287.12" cy="153.53" r="2.8"/><circle cx="287.45" cy="152.97" r="2.8"/><circle cx="287.77" cy="154.03" r="2.8"/><circle cx="288.09" cy="153.47" r="2.8"/><circle cx="288.42" cy="153.55" r="2.8"/><circle cx="288.74" cy="153.25" r="2.8"/><circle cx="289.06" cy="153.28" r="2.8"/><circle cx="289.39" cy="153.66" r="2.8"/><circle cx="289.71" cy="153.37" r="2.8"/><circle cx="290.03" cy="153.62" r="2.8"/><circle cx="290.36" cy="153.28" r="2.8"/><circle cx="290.68" cy="153.52" r="2.8"/><circle cx="291" cy="153.74" r="2.8"/><circle cx="291.33" cy="153.49" r="2.8"/><circle cx="291.65" cy="153.33" r="2.8"/><circle cx="291.97" cy="152.56" r="2.8"/><circle cx="292.3" cy="153.68" r="2.8"/><circle cx="292.62" cy="153.36" r="2.8"/><circle cx="292.94" cy="152.89" r="2.8"/><circle cx="293.26" cy="154.33" r="2.8"/><circle cx="293.59" cy="154.2" r="2.8"/><circle cx="293.91" cy="153.97" r="2.8"/><circle cx="294.23" cy="153.54" r="2.8"/><circle cx="294.56" cy="152.51" r="2.8"/><circle cx="294.88" cy="153.34" r="2.8"/><circle cx="295.2" cy="153.01" r="2.8"/><circle cx="295.53" cy="153.59" r="2.8"/><circle cx="295.85" cy="154.5" r="2.8"/><circle cx="296.17" cy="154.44" r="2.8"/><circle cx="296.5" cy="153.09" r="2.8"/><circle cx="296.82" cy="153.43" r="2.8"/><circle cx="297.14" cy="154.03" r="2.8"/><circle cx="297.47" cy="153.06" r="2.8"/><circle cx="297.79" cy="154.13" r="2.8"/><circle cx="298.11" cy="153.05" r="2.8"/><circle cx="298.43" cy="152.93" r="2.8"/><circle cx="298.76" cy="153.83" r="2.8"/><circle cx="299.08" cy="153.97" r="2.8"/><circle cx="299.4" cy="153.18" r="2.8"/><circle cx="299.73" cy="153.97" r="2.8"/><circle cx="300.05" cy="153.17" r="2.8"/><circle cx="300.37" cy="154.01" r="2.8"/><circle cx="300.7" cy="153.2" r="2.8"/><circle cx="301.02" cy="153.49" r="2.8"/><circle cx="301.34" cy="153.71" r="2.8"/><circle cx="301.67" cy="153.89" r="2.8"/><circle cx="301.99" cy="153.44" r="2.8"/><circle cx="302.31" cy="154.3" r="2.8"/><circle cx="302.64" cy="153.65" r="2.8"/><circle cx="302.96" cy="153.7" r="2.8"/><circle cx="303.28" cy="153.27" r="2.8"/><circle cx="303.6" cy="154.05" r="2.8"/><circle cx="303.93" cy="152.85" r="2.8"/><circle cx="304.25" cy="153.67" r="2.8"/><circle cx="304.57" cy="154.01" r="2.8"/><circle cx="304.9" cy="152.99" r="2.8"/><circle cx="305.22" cy="152.88" r="2.8"/><circle cx="305.54" cy="153.64" r="2.8"/><circle cx="305.87" cy="153.93" r="2.8"/><circle cx="306.19" cy="153.58" r="2.8"/><circle cx="306.51" cy="153.87" r="2.8"/><circle cx="306.84" cy="153.73" r="2.8"/><circle cx="307.16" cy="152.98" r="2.8"/><circle cx="307.48" cy="153.47" r="2.8"/><circle cx="307.81" cy="153.58" r="2.8"/><circle cx="308.13" cy="153.5" r="2.8"/><circle cx="308.45" cy="153.68" r="2.8"/><circle cx="308.77" cy="153.33" r="2.8"/><circle cx="309.1" cy="153.32" r="2.8"/><circle cx="309.42" cy="153.84" r="2.8"/><circle cx="309.74" cy="153.65" r="2.8"/><circle cx="310.07" cy="152.73" r="2.8"/><circle cx="310.39" cy="153.55" r="2.8"/><circle cx="310.71" cy="153.8" r="2.8"/><circle cx="311.04" cy="152.91" r="2.8"/><circle cx="311.36" cy="153.75" r="2.8"/><circle cx="311.68" cy="154.2" r="2.8"/><circle cx="312.01" cy="153.5" r="2.8"/><circle cx="312.33" cy="154.15" r="2.8"/><circle cx="312.65" cy="153.99" r="2.8"/><circle cx="312.98" cy="153.67" r="2.8"/><circle cx="313.3" cy="153.86" r="2.8"/><circle cx="313.62" cy="154.13" r="2.8"/><circle cx="313.94" cy="154.06" r="2.8"/><circle cx="314.27" cy="154.08" r="2.8"/><circle cx="314.59" cy="153.38" r="2.8"/><circle cx="314.91" cy="154.16" r="2.8"/><circle cx="315.24" cy="154.11" r="2.8"/><circle cx="315.56" cy="153.06" r="2.8"/><circle cx="315.88" cy="154.12" r="2.8"/><circle cx="316.21" cy="153.3" r="2.8"/><circle cx="316.53" cy="153.38" r="2.8"/><circle cx="316.85" cy="153.99" r="2.8"/><circle cx="317.18" cy="154.51" r="2.8"/><circle cx="317.5" cy="153.77" r="2.8"/><circle cx="317.82" cy="153.69" r="2.8"/><circle cx="318.15" cy="153.58" r="2.8"/><circle cx="318.47" cy="153.95" r="2.8"/><circle cx="318.79" cy="153.5" r="2.8"/><circle cx="319.11" cy="153.44" r="2.8"/><circle cx="319.44" cy="154.44" r="2.8"/><circle cx="319.76" cy="153.44" r="2.8"/><circle cx="320.08" cy="153.96" r="2.8"/><circle cx="320.41" cy="154.27" r="2.8"/><circle cx="320.73" cy="154.18" r="2.8"/><circle cx="321.05" cy="153.3" r="2.8"/><circle cx="321.38" cy="153.68" r="2.8"/><circle cx="321.7" cy="154.81" r="2.8"/><circle cx="322.02" cy="154.06" r="2.8"/><circle cx="322.35" cy="154.16" r="2.8"/><circle cx="322.67" cy="154.19" r="2.8"/><circle cx="322.99" cy="154.34" r="2.8"/><circle cx="323.32" cy="154.73" r="2.8"/><circle cx="323.64" cy="153.8" r="2.8"/><circle cx="323.96" cy="154.54" r="2.8"/><circle cx="324.28" cy="154.32" r="2.8"/><circle cx="324.61" cy="154.42" r="2.8"/><circle cx="324.93" cy="154.49" r="2.8"/><circle cx="325.25" cy="153.9" r="2.8"/><circle cx="325.58" cy="154.06" r="2.8"/><circle cx="325.9" cy="154.49" r="2.8"/><circle cx="326.22" cy="154.63" r="2.8"/><circle cx="326.55" cy="154.46" r="2.8"/><circle cx="326.87" cy="153.9" r="2.8"/><circle cx="327.19" cy="154.27" r="2.8"/><circle cx="327.52" cy="154.25" r="2.8"/><circle cx="327.84" cy="154.5" r="2.8"/><circle cx="328.16" cy="154.5" r="2.8"/><circle cx="328.49" cy="154.33" r="2.8"/><circle cx="328.81" cy="155.19" r="2.8"/><circle cx="329.13" cy="153.82" r="2.8"/><circle cx="329.45" cy="154.81" r="2.8"/><circle cx="329.78" cy="154.75" r="2.8"/><circle cx="330.1" cy="154" r="2.8"/><circle cx="330.42" cy="154.48" r="2.8"/><circle cx="330.75" cy="154.58" r="2.8"/><circle cx="331.07" cy="154.86" r="2.8"/><circle cx="331.39" cy="155.28" r="2.8"/><circle cx="331.72" cy="154.6" r="2.8"/><circle cx="332.04" cy="154.21" r="2.8"/><circle cx="332.36" cy="155.08" r="2.8"/><circle cx="332.69" cy="154.19" r="2.8"/><circle cx="333.01" cy="155.23" r="2.8"/><circle cx="333.33" cy="155.09" r="2.8"/><circle cx="333.66" cy="154.62" r="2.8"/><circle cx="333.98" cy="154.85" r="2.8"/><circle cx="334.3" cy="154.59" r="2.8"/><circle cx="334.62" cy="155.2" r="2.8"/><circle cx="334.95" cy="155.34" r="2.8"/><circle cx="335.27" cy="155.7" r="2.8"/><circle cx="335.59" cy="155.46" r="2.8"/><circle cx="335.92" cy="155.43" r="2.8"/><circle cx="336.24" cy="155.6" r="2.8"/><circle cx="336.56" cy="154.92" r="2.8"/><circle cx="336.89" cy="155.35" r="2.8"/><circle cx="337.21" cy="155.91" r="2.8"/><circle cx="337.53" cy="154.13" r="2.8"/><circle cx="337.86" cy="155.5" r="2.8"/><circle cx="338.18" cy="155.7" r="2.8"/><circle cx="338.5" cy="154.71" r="2.8"/><circle cx="338.83" cy="154.77" r="2.8"/><circle cx="339.15" cy="155.74" r="2.8"/><circle cx="339.47" cy="155.9" r="2.8"/><circle cx="339.79" cy="155.73" r="2.8"/><circle cx="340.12" cy="154.9" r="2.8"/><circle cx="340.44" cy="155.51" r="2.8"/><circle cx="340.76" cy="155.74" r="2.8"/><circle cx="341.09" cy="155.45" r="2.8"/><circle cx="341.41" cy="154.98" r="2.8"/><circle cx="341.73" cy="156.06" r="2.8"/><circle cx="342.06" cy="155.68" r="2.8"/><circle cx="342.38" cy="156.11" r="2.8"/><circle cx="84.2" cy="155.44" r="2.8"/><circle cx="84.72" cy="154.76" r="2.8"/><circle cx="85.24" cy="156.12" r="2.8"/><circle cx="85.76" cy="155.17" r="2.8"/><circle cx="86.8" cy="154.63" r="2.8"/><circle cx="84.98" cy="156.52" r="2.8"/><circle cx="84.2" cy="155.98" r="2.8"/><circle cx="341.6" cy="155.31" r="2.8"/><circle cx="342.12" cy="156.66" r="2.8"/><circle cx="340.56" cy="154.5" r="2.8"/><circle cx="342.38" cy="155.84" r="2.8"/><circle cx="341.6" cy="156.25" r="2.8"/><circle cx="341.08" cy="154.9" r="2.8"/></g><g fill="none" stroke="#E6531C" stroke-width="1.0" stroke-linejoin="miter"><path d="M89.92 114.5h5.2l-2.6 4.6z"/><path d="M90.98 113.42h5.2l-2.6 4.6z"/><path d="M92.05 112.62h5.2l-2.6 4.6z"/><path d="M93.11 112h5.2l-2.6 4.6z"/><path d="M94.17 109.89h5.2l-2.6 4.6z"/><path d="M95.23 111.01h5.2l-2.6 4.6z"/><path d="M96.3 107.63h5.2l-2.6 4.6z"/><path d="M97.36 107.75h5.2l-2.6 4.6z"/><path d="M98.42 106.44h5.2l-2.6 4.6z"/><path d="M99.48 104.86h5.2l-2.6 4.6z"/><path d="M100.55 103.63h5.2l-2.6 4.6z"/><path d="M101.61 101.9h5.2l-2.6 4.6z"/><path d="M102.67 100.87h5.2l-2.6 4.6z"/><path d="M103.74 100.33h5.2l-2.6 4.6z"/><path d="M104.8 100.47h5.2l-2.6 4.6z"/><path d="M105.86 98.13h5.2l-2.6 4.6z"/><path d="M106.92 97.91h5.2l-2.6 4.6z"/><path d="M107.99 95.76h5.2l-2.6 4.6z"/><path d="M109.05 96.53h5.2l-2.6 4.6z"/><path d="M110.11 97.08h5.2l-2.6 4.6z"/><path d="M111.17 94h5.2l-2.6 4.6z"/><path d="M112.24 90.62h5.2l-2.6 4.6z"/><path d="M113.3 91.03h5.2l-2.6 4.6z"/><path d="M114.36 90.54h5.2l-2.6 4.6z"/><path d="M115.42 88.52h5.2l-2.6 4.6z"/><path d="M116.49 87.9h5.2l-2.6 4.6z"/><path d="M117.55 87.09h5.2l-2.6 4.6z"/><path d="M118.61 87.09h5.2l-2.6 4.6z"/><path d="M119.68 85.72h5.2l-2.6 4.6z"/><path d="M120.74 84.76h5.2l-2.6 4.6z"/><path d="M121.8 84.65h5.2l-2.6 4.6z"/><path d="M122.86 84.21h5.2l-2.6 4.6z"/><path d="M123.93 82.25h5.2l-2.6 4.6z"/><path d="M124.99 80.69h5.2l-2.6 4.6z"/><path d="M126.05 80.14h5.2l-2.6 4.6z"/><path d="M127.11 79.45h5.2l-2.6 4.6z"/><path d="M128.18 78.61h5.2l-2.6 4.6z"/><path d="M129.24 75.96h5.2l-2.6 4.6z"/><path d="M130.3 77.17h5.2l-2.6 4.6z"/><path d="M131.37 75.66h5.2l-2.6 4.6z"/><path d="M132.43 74.02h5.2l-2.6 4.6z"/><path d="M133.49 74.89h5.2l-2.6 4.6z"/><path d="M134.55 74.02h5.2l-2.6 4.6z"/><path d="M135.62 72.65h5.2l-2.6 4.6z"/><path d="M136.68 71.4h5.2l-2.6 4.6z"/><path d="M137.74 71.91h5.2l-2.6 4.6z"/><path d="M138.8 71.18h5.2l-2.6 4.6z"/><path d="M139.87 70.73h5.2l-2.6 4.6z"/><path d="M140.93 71.18h5.2l-2.6 4.6z"/><path d="M141.99 68.48h5.2l-2.6 4.6z"/><path d="M143.06 69.51h5.2l-2.6 4.6z"/><path d="M144.12 70.63h5.2l-2.6 4.6z"/><path d="M145.18 69.07h5.2l-2.6 4.6z"/><path d="M146.24 70.29h5.2l-2.6 4.6z"/><path d="M147.31 69.48h5.2l-2.6 4.6z"/><path d="M148.37 68.41h5.2l-2.6 4.6z"/><path d="M149.43 69.13h5.2l-2.6 4.6z"/><path d="M150.49 67.55h5.2l-2.6 4.6z"/><path d="M151.56 69.94h5.2l-2.6 4.6z"/><path d="M152.62 68.59h5.2l-2.6 4.6z"/><path d="M153.68 68.49h5.2l-2.6 4.6z"/><path d="M154.75 67.87h5.2l-2.6 4.6z"/><path d="M155.81 68.5h5.2l-2.6 4.6z"/><path d="M156.87 69.27h5.2l-2.6 4.6z"/><path d="M157.93 69.57h5.2l-2.6 4.6z"/><path d="M159 69.86h5.2l-2.6 4.6z"/><path d="M160.06 69.23h5.2l-2.6 4.6z"/><path d="M161.12 71.25h5.2l-2.6 4.6z"/><path d="M162.18 70.67h5.2l-2.6 4.6z"/><path d="M163.25 71.65h5.2l-2.6 4.6z"/><path d="M164.31 71.8h5.2l-2.6 4.6z"/><path d="M165.37 72.69h5.2l-2.6 4.6z"/><path d="M166.43 71.03h5.2l-2.6 4.6z"/><path d="M167.5 73.93h5.2l-2.6 4.6z"/><path d="M168.56 73.41h5.2l-2.6 4.6z"/><path d="M169.62 73.56h5.2l-2.6 4.6z"/><path d="M170.69 73.44h5.2l-2.6 4.6z"/><path d="M171.75 73.74h5.2l-2.6 4.6z"/><path d="M172.81 73.93h5.2l-2.6 4.6z"/><path d="M173.87 73.62h5.2l-2.6 4.6z"/><path d="M174.94 75.97h5.2l-2.6 4.6z"/><path d="M176 74.81h5.2l-2.6 4.6z"/><path d="M177.06 76.07h5.2l-2.6 4.6z"/><path d="M178.12 74.95h5.2l-2.6 4.6z"/><path d="M179.19 76.36h5.2l-2.6 4.6z"/><path d="M180.25 76.34h5.2l-2.6 4.6z"/><path d="M181.31 75.72h5.2l-2.6 4.6z"/><path d="M182.38 74.61h5.2l-2.6 4.6z"/><path d="M183.44 75.49h5.2l-2.6 4.6z"/><path d="M184.5 75.91h5.2l-2.6 4.6z"/><path d="M185.56 75.01h5.2l-2.6 4.6z"/><path d="M186.63 77.1h5.2l-2.6 4.6z"/><path d="M187.69 78.14h5.2l-2.6 4.6z"/><path d="M188.75 76.71h5.2l-2.6 4.6z"/><path d="M189.81 76.61h5.2l-2.6 4.6z"/><path d="M190.88 75.32h5.2l-2.6 4.6z"/><path d="M191.94 74.56h5.2l-2.6 4.6z"/><path d="M193 77.64h5.2l-2.6 4.6z"/><path d="M194.07 74.33h5.2l-2.6 4.6z"/><path d="M195.13 75.16h5.2l-2.6 4.6z"/><path d="M196.19 75.83h5.2l-2.6 4.6z"/><path d="M197.25 76.28h5.2l-2.6 4.6z"/><path d="M198.32 74.51h5.2l-2.6 4.6z"/><path d="M199.38 76.6h5.2l-2.6 4.6z"/><path d="M200.44 77.12h5.2l-2.6 4.6z"/><path d="M201.5 76.61h5.2l-2.6 4.6z"/><path d="M202.57 77.97h5.2l-2.6 4.6z"/><path d="M203.63 76.39h5.2l-2.6 4.6z"/><path d="M204.69 76.93h5.2l-2.6 4.6z"/><path d="M205.76 76.58h5.2l-2.6 4.6z"/><path d="M206.82 76.58h5.2l-2.6 4.6z"/><path d="M207.88 77.86h5.2l-2.6 4.6z"/><path d="M208.94 75.81h5.2l-2.6 4.6z"/><path d="M210.01 77.89h5.2l-2.6 4.6z"/><path d="M211.07 76.23h5.2l-2.6 4.6z"/><path d="M212.13 78.34h5.2l-2.6 4.6z"/><path d="M213.19 76.55h5.2l-2.6 4.6z"/><path d="M214.26 77.53h5.2l-2.6 4.6z"/><path d="M215.32 76.7h5.2l-2.6 4.6z"/><path d="M216.38 77.25h5.2l-2.6 4.6z"/><path d="M217.44 78.52h5.2l-2.6 4.6z"/><path d="M218.51 77.52h5.2l-2.6 4.6z"/><path d="M219.57 76.41h5.2l-2.6 4.6z"/><path d="M220.63 75.86h5.2l-2.6 4.6z"/><path d="M221.7 77.63h5.2l-2.6 4.6z"/><path d="M222.76 78.14h5.2l-2.6 4.6z"/><path d="M223.82 76.97h5.2l-2.6 4.6z"/><path d="M224.88 76.32h5.2l-2.6 4.6z"/><path d="M225.95 76.63h5.2l-2.6 4.6z"/><path d="M227.01 76.71h5.2l-2.6 4.6z"/><path d="M228.07 75.19h5.2l-2.6 4.6z"/><path d="M229.13 75.02h5.2l-2.6 4.6z"/><path d="M230.2 75.15h5.2l-2.6 4.6z"/><path d="M231.26 76.56h5.2l-2.6 4.6z"/><path d="M232.32 75.6h5.2l-2.6 4.6z"/><path d="M233.39 75.77h5.2l-2.6 4.6z"/><path d="M234.45 76.79h5.2l-2.6 4.6z"/><path d="M235.51 74.69h5.2l-2.6 4.6z"/><path d="M236.57 75.32h5.2l-2.6 4.6z"/><path d="M237.64 75.61h5.2l-2.6 4.6z"/><path d="M238.7 73.76h5.2l-2.6 4.6z"/><path d="M239.76 74.15h5.2l-2.6 4.6z"/><path d="M240.82 73.89h5.2l-2.6 4.6z"/><path d="M241.89 73.4h5.2l-2.6 4.6z"/><path d="M242.95 73.65h5.2l-2.6 4.6z"/><path d="M244.01 75.2h5.2l-2.6 4.6z"/><path d="M245.08 74.25h5.2l-2.6 4.6z"/><path d="M246.14 72.85h5.2l-2.6 4.6z"/><path d="M247.2 74.22h5.2l-2.6 4.6z"/><path d="M248.26 73.34h5.2l-2.6 4.6z"/><path d="M249.33 72.84h5.2l-2.6 4.6z"/><path d="M250.39 71.74h5.2l-2.6 4.6z"/><path d="M251.45 71.68h5.2l-2.6 4.6z"/><path d="M252.51 71.85h5.2l-2.6 4.6z"/><path d="M253.58 72.62h5.2l-2.6 4.6z"/><path d="M254.64 71.5h5.2l-2.6 4.6z"/><path d="M255.7 71.68h5.2l-2.6 4.6z"/><path d="M256.77 72.12h5.2l-2.6 4.6z"/><path d="M257.83 70.63h5.2l-2.6 4.6z"/><path d="M258.89 71.17h5.2l-2.6 4.6z"/><path d="M259.95 71.97h5.2l-2.6 4.6z"/><path d="M261.02 69.91h5.2l-2.6 4.6z"/><path d="M262.08 70.95h5.2l-2.6 4.6z"/><path d="M263.14 69.92h5.2l-2.6 4.6z"/><path d="M264.2 71.48h5.2l-2.6 4.6z"/><path d="M265.27 69.87h5.2l-2.6 4.6z"/><path d="M266.33 70.41h5.2l-2.6 4.6z"/><path d="M267.39 70.22h5.2l-2.6 4.6z"/><path d="M268.45 70.83h5.2l-2.6 4.6z"/><path d="M269.52 67.06h5.2l-2.6 4.6z"/><path d="M270.58 68.86h5.2l-2.6 4.6z"/><path d="M271.64 68.31h5.2l-2.6 4.6z"/><path d="M272.71 67.33h5.2l-2.6 4.6z"/><path d="M273.77 68.2h5.2l-2.6 4.6z"/><path d="M274.83 67.51h5.2l-2.6 4.6z"/><path d="M275.89 69.46h5.2l-2.6 4.6z"/><path d="M276.96 68.4h5.2l-2.6 4.6z"/><path d="M278.02 69.24h5.2l-2.6 4.6z"/><path d="M279.08 68.74h5.2l-2.6 4.6z"/><path d="M280.14 69.33h5.2l-2.6 4.6z"/><path d="M281.21 71.01h5.2l-2.6 4.6z"/><path d="M282.27 71.73h5.2l-2.6 4.6z"/><path d="M283.33 71.3h5.2l-2.6 4.6z"/><path d="M284.4 70.37h5.2l-2.6 4.6z"/><path d="M285.46 71.36h5.2l-2.6 4.6z"/><path d="M286.52 72.09h5.2l-2.6 4.6z"/><path d="M287.58 74.94h5.2l-2.6 4.6z"/><path d="M288.65 76.24h5.2l-2.6 4.6z"/><path d="M289.71 75.15h5.2l-2.6 4.6z"/><path d="M290.77 75.61h5.2l-2.6 4.6z"/><path d="M291.83 76.57h5.2l-2.6 4.6z"/><path d="M292.9 76.53h5.2l-2.6 4.6z"/><path d="M293.96 77.84h5.2l-2.6 4.6z"/><path d="M295.02 79.58h5.2l-2.6 4.6z"/><path d="M296.09 80.17h5.2l-2.6 4.6z"/><path d="M297.15 80.12h5.2l-2.6 4.6z"/><path d="M298.21 81.03h5.2l-2.6 4.6z"/><path d="M299.27 82.01h5.2l-2.6 4.6z"/><path d="M300.34 80.81h5.2l-2.6 4.6z"/><path d="M301.4 83.93h5.2l-2.6 4.6z"/><path d="M302.46 84.53h5.2l-2.6 4.6z"/><path d="M303.52 86.46h5.2l-2.6 4.6z"/><path d="M304.59 86.85h5.2l-2.6 4.6z"/><path d="M305.65 87.03h5.2l-2.6 4.6z"/><path d="M306.71 87.95h5.2l-2.6 4.6z"/><path d="M307.78 89.54h5.2l-2.6 4.6z"/><path d="M308.84 90.01h5.2l-2.6 4.6z"/><path d="M309.9 91.27h5.2l-2.6 4.6z"/><path d="M310.96 93.93h5.2l-2.6 4.6z"/><path d="M312.03 96.13h5.2l-2.6 4.6z"/><path d="M313.09 92.2h5.2l-2.6 4.6z"/><path d="M314.15 94.46h5.2l-2.6 4.6z"/><path d="M315.21 96.21h5.2l-2.6 4.6z"/><path d="M316.28 98.66h5.2l-2.6 4.6z"/><path d="M317.34 99.22h5.2l-2.6 4.6z"/><path d="M318.4 97.83h5.2l-2.6 4.6z"/><path d="M319.46 102.32h5.2l-2.6 4.6z"/><path d="M320.53 101.01h5.2l-2.6 4.6z"/><path d="M321.59 100.82h5.2l-2.6 4.6z"/><path d="M322.65 102.31h5.2l-2.6 4.6z"/><path d="M323.72 102.62h5.2l-2.6 4.6z"/><path d="M324.78 104.25h5.2l-2.6 4.6z"/><path d="M325.84 102.89h5.2l-2.6 4.6z"/><path d="M326.9 106.97h5.2l-2.6 4.6z"/><path d="M327.97 108.75h5.2l-2.6 4.6z"/><path d="M329.03 108.79h5.2l-2.6 4.6z"/><path d="M330.09 109.26h5.2l-2.6 4.6z"/><path d="M331.15 112.05h5.2l-2.6 4.6z"/><path d="M332.22 112.18h5.2l-2.6 4.6z"/><path d="M333.28 114.51h5.2l-2.6 4.6z"/><path d="M93.56 121.61h5.2l-2.6 4.6z"/><path d="M331.72 115.93h5.2l-2.6 4.6z"/><path d="M89.4 118.37h5.2l-2.6 4.6z"/><path d="M90.96 115.4h5.2l-2.6 4.6z"/></g><g fill="none" stroke="#F2B71E" stroke-width="0.8"><circle cx="98.5" cy="83.02" r="2.1"/><circle cx="99.63" cy="80.55" r="2.1"/><circle cx="100.77" cy="79.55" r="2.1"/><circle cx="101.9" cy="78.68" r="2.1"/><circle cx="103.03" cy="78.98" r="2.1"/><circle cx="104.16" cy="78.55" r="2.1"/><circle cx="105.3" cy="77.82" r="2.1"/><circle cx="106.43" cy="76.5" r="2.1"/><circle cx="107.56" cy="75.27" r="2.1"/><circle cx="108.69" cy="74.57" r="2.1"/><circle cx="109.83" cy="75.01" r="2.1"/><circle cx="110.96" cy="73.29" r="2.1"/><circle cx="112.09" cy="72.67" r="2.1"/><circle cx="113.23" cy="71.89" r="2.1"/><circle cx="114.36" cy="71.23" r="2.1"/><circle cx="115.49" cy="70.61" r="2.1"/><circle cx="116.62" cy="69.39" r="2.1"/><circle cx="117.76" cy="68.95" r="2.1"/><circle cx="118.89" cy="68.05" r="2.1"/><circle cx="120.02" cy="67.55" r="2.1"/><circle cx="121.16" cy="65.84" r="2.1"/><circle cx="122.29" cy="65.1" r="2.1"/><circle cx="123.42" cy="65.26" r="2.1"/><circle cx="124.55" cy="62.62" r="2.1"/><circle cx="125.69" cy="62.08" r="2.1"/><circle cx="126.82" cy="60.38" r="2.1"/><circle cx="127.95" cy="60.06" r="2.1"/><circle cx="129.08" cy="59.04" r="2.1"/><circle cx="130.22" cy="57.87" r="2.1"/><circle cx="131.35" cy="57.03" r="2.1"/><circle cx="132.48" cy="56.31" r="2.1"/><circle cx="133.62" cy="56.15" r="2.1"/><circle cx="134.75" cy="52.96" r="2.1"/><circle cx="135.88" cy="54" r="2.1"/><circle cx="137.01" cy="52.22" r="2.1"/><circle cx="138.15" cy="50.58" r="2.1"/><circle cx="139.28" cy="49.71" r="2.1"/><circle cx="140.41" cy="48.56" r="2.1"/><circle cx="141.55" cy="47.4" r="2.1"/><circle cx="142.68" cy="46.06" r="2.1"/><circle cx="143.81" cy="45.62" r="2.1"/><circle cx="144.94" cy="43" r="2.1"/><circle cx="146.08" cy="44.27" r="2.1"/><circle cx="147.21" cy="42.37" r="2.1"/><circle cx="148.34" cy="41.58" r="2.1"/><circle cx="149.47" cy="40.55" r="2.1"/><circle cx="150.61" cy="38.9" r="2.1"/><circle cx="151.74" cy="37.04" r="2.1"/><circle cx="152.87" cy="37.24" r="2.1"/><circle cx="154.01" cy="36.14" r="2.1"/><circle cx="155.14" cy="34.17" r="2.1"/><circle cx="156.27" cy="33.17" r="2.1"/><circle cx="157.4" cy="31.21" r="2.1"/><circle cx="158.54" cy="30.68" r="2.1"/><circle cx="159.67" cy="30.35" r="2.1"/><circle cx="160.8" cy="30.16" r="2.1"/><circle cx="161.93" cy="29.29" r="2.1"/><circle cx="163.07" cy="29.02" r="2.1"/><circle cx="164.2" cy="29.24" r="2.1"/><circle cx="165.33" cy="27.9" r="2.1"/><circle cx="166.47" cy="27.69" r="2.1"/><circle cx="167.6" cy="27.77" r="2.1"/><circle cx="168.73" cy="27.93" r="2.1"/><circle cx="169.86" cy="26.69" r="2.1"/><circle cx="171" cy="27.27" r="2.1"/><circle cx="172.13" cy="27.1" r="2.1"/><circle cx="173.26" cy="28.84" r="2.1"/><circle cx="174.4" cy="30.48" r="2.1"/><circle cx="175.53" cy="31.42" r="2.1"/><circle cx="176.66" cy="32.5" r="2.1"/><circle cx="177.79" cy="34.25" r="2.1"/><circle cx="178.93" cy="35.53" r="2.1"/><circle cx="180.06" cy="35.84" r="2.1"/><circle cx="181.19" cy="37.25" r="2.1"/><circle cx="182.32" cy="39.04" r="2.1"/><circle cx="183.46" cy="39.7" r="2.1"/><circle cx="184.59" cy="40.85" r="2.1"/><circle cx="185.72" cy="41.35" r="2.1"/><circle cx="186.86" cy="43.17" r="2.1"/><circle cx="187.99" cy="43.36" r="2.1"/><circle cx="189.12" cy="43.39" r="2.1"/><circle cx="190.25" cy="44.35" r="2.1"/><circle cx="191.39" cy="45.49" r="2.1"/><circle cx="192.52" cy="45.87" r="2.1"/><circle cx="193.65" cy="45.98" r="2.1"/><circle cx="194.78" cy="46.32" r="2.1"/><circle cx="195.92" cy="46.67" r="2.1"/><circle cx="197.05" cy="47.58" r="2.1"/><circle cx="198.18" cy="48.58" r="2.1"/><circle cx="199.32" cy="47.21" r="2.1"/><circle cx="200.45" cy="48.19" r="2.1"/><circle cx="201.58" cy="48.42" r="2.1"/><circle cx="202.71" cy="48.77" r="2.1"/><circle cx="203.85" cy="49.88" r="2.1"/><circle cx="204.98" cy="49.66" r="2.1"/><circle cx="206.11" cy="49.39" r="2.1"/><circle cx="207.25" cy="48.99" r="2.1"/><circle cx="208.38" cy="49.66" r="2.1"/><circle cx="209.51" cy="51.67" r="2.1"/><circle cx="210.64" cy="50" r="2.1"/><circle cx="211.78" cy="49.72" r="2.1"/><circle cx="212.91" cy="49.22" r="2.1"/><circle cx="214.04" cy="49.5" r="2.1"/><circle cx="215.17" cy="48.24" r="2.1"/><circle cx="216.31" cy="48.7" r="2.1"/><circle cx="217.44" cy="48.56" r="2.1"/><circle cx="218.57" cy="48.63" r="2.1"/><circle cx="219.71" cy="49.85" r="2.1"/><circle cx="220.84" cy="48.32" r="2.1"/><circle cx="221.97" cy="48.28" r="2.1"/><circle cx="223.1" cy="48.75" r="2.1"/><circle cx="224.24" cy="47.87" r="2.1"/><circle cx="225.37" cy="47.77" r="2.1"/><circle cx="226.5" cy="48.09" r="2.1"/><circle cx="227.64" cy="47.68" r="2.1"/><circle cx="228.77" cy="47.56" r="2.1"/><circle cx="229.9" cy="47.05" r="2.1"/><circle cx="231.03" cy="47" r="2.1"/><circle cx="232.17" cy="45.61" r="2.1"/><circle cx="233.3" cy="46.3" r="2.1"/><circle cx="234.43" cy="44.51" r="2.1"/><circle cx="235.56" cy="44.56" r="2.1"/><circle cx="236.7" cy="43.03" r="2.1"/><circle cx="237.83" cy="41.62" r="2.1"/><circle cx="238.96" cy="41.12" r="2.1"/><circle cx="240.1" cy="40.41" r="2.1"/><circle cx="241.23" cy="39.52" r="2.1"/><circle cx="242.36" cy="37.82" r="2.1"/><circle cx="243.49" cy="38.66" r="2.1"/><circle cx="244.63" cy="36.67" r="2.1"/><circle cx="245.76" cy="37.34" r="2.1"/><circle cx="246.89" cy="35.92" r="2.1"/><circle cx="248.02" cy="34.73" r="2.1"/><circle cx="249.16" cy="34.45" r="2.1"/><circle cx="250.29" cy="32.92" r="2.1"/><circle cx="251.42" cy="31.71" r="2.1"/><circle cx="252.56" cy="31.99" r="2.1"/><circle cx="253.69" cy="30.42" r="2.1"/><circle cx="254.82" cy="29.71" r="2.1"/><circle cx="255.95" cy="29.77" r="2.1"/><circle cx="257.09" cy="28.32" r="2.1"/><circle cx="258.22" cy="28.56" r="2.1"/><circle cx="259.35" cy="27.12" r="2.1"/><circle cx="260.49" cy="28.7" r="2.1"/><circle cx="261.62" cy="27.53" r="2.1"/><circle cx="262.75" cy="29.28" r="2.1"/><circle cx="263.88" cy="28.17" r="2.1"/><circle cx="265.02" cy="29.41" r="2.1"/><circle cx="266.15" cy="29.85" r="2.1"/><circle cx="267.28" cy="30.03" r="2.1"/><circle cx="268.41" cy="30.78" r="2.1"/><circle cx="269.55" cy="31.39" r="2.1"/><circle cx="270.68" cy="32.09" r="2.1"/><circle cx="271.81" cy="34.27" r="2.1"/><circle cx="272.95" cy="35.72" r="2.1"/><circle cx="274.08" cy="37.5" r="2.1"/><circle cx="275.21" cy="37.02" r="2.1"/><circle cx="276.34" cy="37.28" r="2.1"/><circle cx="277.48" cy="38.64" r="2.1"/><circle cx="278.61" cy="39.92" r="2.1"/><circle cx="279.74" cy="41.33" r="2.1"/><circle cx="280.87" cy="42.63" r="2.1"/><circle cx="282.01" cy="43.54" r="2.1"/><circle cx="283.14" cy="44.25" r="2.1"/><circle cx="284.27" cy="46.69" r="2.1"/><circle cx="285.41" cy="46.29" r="2.1"/><circle cx="286.54" cy="48.75" r="2.1"/><circle cx="287.67" cy="49.08" r="2.1"/><circle cx="288.8" cy="50.49" r="2.1"/><circle cx="289.94" cy="51.45" r="2.1"/><circle cx="291.07" cy="52.99" r="2.1"/><circle cx="292.2" cy="54.18" r="2.1"/><circle cx="293.34" cy="54.74" r="2.1"/><circle cx="294.47" cy="56.2" r="2.1"/><circle cx="295.6" cy="54.95" r="2.1"/><circle cx="296.73" cy="57.61" r="2.1"/><circle cx="297.87" cy="58.67" r="2.1"/><circle cx="299" cy="59.51" r="2.1"/><circle cx="300.13" cy="60.74" r="2.1"/><circle cx="301.26" cy="62.49" r="2.1"/><circle cx="302.4" cy="62.03" r="2.1"/><circle cx="303.53" cy="62.49" r="2.1"/><circle cx="304.66" cy="64.39" r="2.1"/><circle cx="305.8" cy="64.28" r="2.1"/><circle cx="306.93" cy="65.82" r="2.1"/><circle cx="308.06" cy="65.91" r="2.1"/><circle cx="309.19" cy="66.47" r="2.1"/><circle cx="310.33" cy="67.19" r="2.1"/><circle cx="311.46" cy="68.01" r="2.1"/><circle cx="312.59" cy="69.49" r="2.1"/><circle cx="313.73" cy="69.31" r="2.1"/><circle cx="314.86" cy="70.9" r="2.1"/><circle cx="315.99" cy="71.2" r="2.1"/><circle cx="317.12" cy="71.77" r="2.1"/><circle cx="318.26" cy="73.17" r="2.1"/><circle cx="319.39" cy="74.55" r="2.1"/><circle cx="320.52" cy="74.18" r="2.1"/><circle cx="321.65" cy="76.02" r="2.1"/><circle cx="322.79" cy="76.66" r="2.1"/><circle cx="323.92" cy="77.58" r="2.1"/><circle cx="96.16" cy="70.15" r="2.1"/><circle cx="100.32" cy="71.5" r="2.1"/><circle cx="95.38" cy="76.22" r="2.1"/><circle cx="91.74" cy="94.31" r="2.1"/><circle cx="97.72" cy="95.12" r="2.1"/><circle cx="332.5" cy="77.3" r="2.1"/><circle cx="328.34" cy="83.38" r="2.1"/><circle cx="330.94" cy="83.38" r="2.1"/><circle cx="336.14" cy="90.67" r="2.1"/><circle cx="338.74" cy="95.39" r="2.1"/><circle cx="326" cy="75.55" r="2.1"/></g></g><g><g fill="#006FC4"><circle cx="415.8" cy="155.07" r="2.8"/><circle cx="416.13" cy="155.45" r="2.8"/><circle cx="416.45" cy="156.27" r="2.8"/><circle cx="416.78" cy="155.06" r="2.8"/><circle cx="417.1" cy="154.51" r="2.8"/><circle cx="417.43" cy="154.6" r="2.8"/><circle cx="417.75" cy="155.53" r="2.8"/><circle cx="418.08" cy="155.26" r="2.8"/><circle cx="418.4" cy="155.07" r="2.8"/><circle cx="418.73" cy="154.9" r="2.8"/><circle cx="419.05" cy="155.22" r="2.8"/><circle cx="419.38" cy="155.66" r="2.8"/><circle cx="419.7" cy="154.9" r="2.8"/><circle cx="420.03" cy="154.94" r="2.8"/><circle cx="420.35" cy="155.7" r="2.8"/><circle cx="420.68" cy="155.3" r="2.8"/><circle cx="421" cy="155.03" r="2.8"/><circle cx="421.33" cy="155.12" r="2.8"/><circle cx="421.66" cy="154.89" r="2.8"/><circle cx="421.98" cy="154.77" r="2.8"/><circle cx="422.31" cy="154.85" r="2.8"/><circle cx="422.63" cy="155.1" r="2.8"/><circle cx="422.96" cy="155.58" r="2.8"/><circle cx="423.28" cy="154.77" r="2.8"/><circle cx="423.61" cy="154.44" r="2.8"/><circle cx="423.93" cy="154.2" r="2.8"/><circle cx="424.26" cy="154.98" r="2.8"/><circle cx="424.58" cy="154.97" r="2.8"/><circle cx="424.91" cy="154.36" r="2.8"/><circle cx="425.23" cy="154.35" r="2.8"/><circle cx="425.56" cy="154.77" r="2.8"/><circle cx="425.88" cy="154.6" r="2.8"/><circle cx="426.21" cy="155.18" r="2.8"/><circle cx="426.53" cy="154.62" r="2.8"/><circle cx="426.86" cy="155.17" r="2.8"/><circle cx="427.18" cy="154.88" r="2.8"/><circle cx="427.51" cy="154.85" r="2.8"/><circle cx="427.84" cy="154.98" r="2.8"/><circle cx="428.16" cy="155.62" r="2.8"/><circle cx="428.49" cy="155.09" r="2.8"/><circle cx="428.81" cy="154.61" r="2.8"/><circle cx="429.14" cy="154.75" r="2.8"/><circle cx="429.46" cy="154.87" r="2.8"/><circle cx="429.79" cy="154.53" r="2.8"/><circle cx="430.11" cy="154.42" r="2.8"/><circle cx="430.44" cy="154.34" r="2.8"/><circle cx="430.76" cy="154.99" r="2.8"/><circle cx="431.09" cy="154.65" r="2.8"/><circle cx="431.41" cy="154.78" r="2.8"/><circle cx="431.74" cy="154.99" r="2.8"/><circle cx="432.06" cy="155.22" r="2.8"/><circle cx="432.39" cy="154.65" r="2.8"/><circle cx="432.71" cy="154.95" r="2.8"/><circle cx="433.04" cy="153.73" r="2.8"/><circle cx="433.37" cy="154.62" r="2.8"/><circle cx="433.69" cy="154.65" r="2.8"/><circle cx="434.02" cy="154.71" r="2.8"/><circle cx="434.34" cy="153.79" r="2.8"/><circle cx="434.67" cy="154.91" r="2.8"/><circle cx="434.99" cy="154.58" r="2.8"/><circle cx="435.32" cy="154.81" r="2.8"/><circle cx="435.64" cy="154.54" r="2.8"/><circle cx="435.97" cy="154.5" r="2.8"/><circle cx="436.29" cy="154.03" r="2.8"/><circle cx="436.62" cy="155.03" r="2.8"/><circle cx="436.94" cy="154.46" r="2.8"/><circle cx="437.27" cy="153.79" r="2.8"/><circle cx="437.59" cy="154.63" r="2.8"/><circle cx="437.92" cy="154.48" r="2.8"/><circle cx="438.24" cy="154.76" r="2.8"/><circle cx="438.57" cy="155.44" r="2.8"/><circle cx="438.89" cy="154.42" r="2.8"/><circle cx="439.22" cy="153.9" r="2.8"/><circle cx="439.55" cy="154.54" r="2.8"/><circle cx="439.87" cy="155.08" r="2.8"/><circle cx="440.2" cy="154.22" r="2.8"/><circle cx="440.52" cy="154.29" r="2.8"/><circle cx="440.85" cy="153.91" r="2.8"/><circle cx="441.17" cy="153.93" r="2.8"/><circle cx="441.5" cy="154.39" r="2.8"/><circle cx="441.82" cy="154.11" r="2.8"/><circle cx="442.15" cy="154.98" r="2.8"/><circle cx="442.47" cy="153.8" r="2.8"/><circle cx="442.8" cy="154.16" r="2.8"/><circle cx="443.12" cy="153.79" r="2.8"/><circle cx="443.45" cy="153.79" r="2.8"/><circle cx="443.77" cy="154.32" r="2.8"/><circle cx="444.1" cy="154.25" r="2.8"/><circle cx="444.42" cy="154.53" r="2.8"/><circle cx="444.75" cy="154.99" r="2.8"/><circle cx="445.08" cy="154.21" r="2.8"/><circle cx="445.4" cy="154.08" r="2.8"/><circle cx="445.73" cy="154.57" r="2.8"/><circle cx="446.05" cy="153.84" r="2.8"/><circle cx="446.38" cy="154.07" r="2.8"/><circle cx="446.7" cy="153.92" r="2.8"/><circle cx="447.03" cy="154.39" r="2.8"/><circle cx="447.35" cy="154.78" r="2.8"/><circle cx="447.68" cy="153.75" r="2.8"/><circle cx="448" cy="153.81" r="2.8"/><circle cx="448.33" cy="154.08" r="2.8"/><circle cx="448.65" cy="154.2" r="2.8"/><circle cx="448.98" cy="154.13" r="2.8"/><circle cx="449.3" cy="154.06" r="2.8"/><circle cx="449.63" cy="154.2" r="2.8"/><circle cx="449.95" cy="154.78" r="2.8"/><circle cx="450.28" cy="153.65" r="2.8"/><circle cx="450.61" cy="154.55" r="2.8"/><circle cx="450.93" cy="154.08" r="2.8"/><circle cx="451.26" cy="154.06" r="2.8"/><circle cx="451.58" cy="153.82" r="2.8"/><circle cx="451.91" cy="154.56" r="2.8"/><circle cx="452.23" cy="153.42" r="2.8"/><circle cx="452.56" cy="153.62" r="2.8"/><circle cx="452.88" cy="153.57" r="2.8"/><circle cx="453.21" cy="153.36" r="2.8"/><circle cx="453.53" cy="154.17" r="2.8"/><circle cx="453.86" cy="155.09" r="2.8"/><circle cx="454.18" cy="153.69" r="2.8"/><circle cx="454.51" cy="153.29" r="2.8"/><circle cx="454.83" cy="153.34" r="2.8"/><circle cx="455.16" cy="154.02" r="2.8"/><circle cx="455.48" cy="153.84" r="2.8"/><circle cx="455.81" cy="153.69" r="2.8"/><circle cx="456.13" cy="154.53" r="2.8"/><circle cx="456.46" cy="154.07" r="2.8"/><circle cx="456.79" cy="154.06" r="2.8"/><circle cx="457.11" cy="153.17" r="2.8"/><circle cx="457.44" cy="154.06" r="2.8"/><circle cx="457.76" cy="153.17" r="2.8"/><circle cx="458.09" cy="153.8" r="2.8"/><circle cx="458.41" cy="154.47" r="2.8"/><circle cx="458.74" cy="152.91" r="2.8"/><circle cx="459.06" cy="154.19" r="2.8"/><circle cx="459.39" cy="153.55" r="2.8"/><circle cx="459.71" cy="153.12" r="2.8"/><circle cx="460.04" cy="154.01" r="2.8"/><circle cx="460.36" cy="154.29" r="2.8"/><circle cx="460.69" cy="153.38" r="2.8"/><circle cx="461.01" cy="153.77" r="2.8"/><circle cx="461.34" cy="154.29" r="2.8"/><circle cx="461.66" cy="154.23" r="2.8"/><circle cx="461.99" cy="153.96" r="2.8"/><circle cx="462.32" cy="153.41" r="2.8"/><circle cx="462.64" cy="153.91" r="2.8"/><circle cx="462.97" cy="153.54" r="2.8"/><circle cx="463.29" cy="153.14" r="2.8"/><circle cx="463.62" cy="153.29" r="2.8"/><circle cx="463.94" cy="153.22" r="2.8"/><circle cx="464.27" cy="153.31" r="2.8"/><circle cx="464.59" cy="154.44" r="2.8"/><circle cx="464.92" cy="153.31" r="2.8"/><circle cx="465.24" cy="153.67" r="2.8"/><circle cx="465.57" cy="153.85" r="2.8"/><circle cx="465.89" cy="154.23" r="2.8"/><circle cx="466.22" cy="154.44" r="2.8"/><circle cx="466.54" cy="154.24" r="2.8"/><circle cx="466.87" cy="153.81" r="2.8"/><circle cx="467.19" cy="154.27" r="2.8"/><circle cx="467.52" cy="154.13" r="2.8"/><circle cx="467.85" cy="154.05" r="2.8"/><circle cx="468.17" cy="153.53" r="2.8"/><circle cx="468.5" cy="153.92" r="2.8"/><circle cx="468.82" cy="153.86" r="2.8"/><circle cx="469.15" cy="153.27" r="2.8"/><circle cx="469.47" cy="153.93" r="2.8"/><circle cx="469.8" cy="153.56" r="2.8"/><circle cx="470.12" cy="154.22" r="2.8"/><circle cx="470.45" cy="153.67" r="2.8"/><circle cx="470.77" cy="153.75" r="2.8"/><circle cx="471.1" cy="153.73" r="2.8"/><circle cx="471.42" cy="153.99" r="2.8"/><circle cx="471.75" cy="154.21" r="2.8"/><circle cx="472.07" cy="153.92" r="2.8"/><circle cx="472.4" cy="153.99" r="2.8"/><circle cx="472.72" cy="153.39" r="2.8"/><circle cx="473.05" cy="153.44" r="2.8"/><circle cx="473.37" cy="154.28" r="2.8"/><circle cx="473.7" cy="153.55" r="2.8"/><circle cx="474.03" cy="153.99" r="2.8"/><circle cx="474.35" cy="153.62" r="2.8"/><circle cx="474.68" cy="153.99" r="2.8"/><circle cx="475" cy="154.39" r="2.8"/><circle cx="475.33" cy="153.39" r="2.8"/><circle cx="475.65" cy="153.62" r="2.8"/><circle cx="475.98" cy="154.29" r="2.8"/><circle cx="476.3" cy="154.56" r="2.8"/><circle cx="476.63" cy="154.01" r="2.8"/><circle cx="476.95" cy="154.27" r="2.8"/><circle cx="477.28" cy="153.95" r="2.8"/><circle cx="477.6" cy="153.55" r="2.8"/><circle cx="477.93" cy="153.21" r="2.8"/><circle cx="478.25" cy="153.94" r="2.8"/><circle cx="478.58" cy="153.25" r="2.8"/><circle cx="478.9" cy="153.33" r="2.8"/><circle cx="479.23" cy="153.97" r="2.8"/><circle cx="479.56" cy="154.47" r="2.8"/><circle cx="479.88" cy="153.46" r="2.8"/><circle cx="480.21" cy="153.56" r="2.8"/><circle cx="480.53" cy="152.86" r="2.8"/><circle cx="480.86" cy="153.23" r="2.8"/><circle cx="481.18" cy="153.49" r="2.8"/><circle cx="481.51" cy="153.12" r="2.8"/><circle cx="481.83" cy="154.22" r="2.8"/><circle cx="482.16" cy="153.72" r="2.8"/><circle cx="482.48" cy="153.91" r="2.8"/><circle cx="482.81" cy="153.1" r="2.8"/><circle cx="483.13" cy="153.57" r="2.8"/><circle cx="483.46" cy="155.02" r="2.8"/><circle cx="483.78" cy="153.25" r="2.8"/><circle cx="484.11" cy="154.16" r="2.8"/><circle cx="484.43" cy="153.49" r="2.8"/><circle cx="484.76" cy="153.99" r="2.8"/><circle cx="485.08" cy="153.7" r="2.8"/><circle cx="485.41" cy="153.54" r="2.8"/><circle cx="485.74" cy="153.72" r="2.8"/><circle cx="486.06" cy="154.18" r="2.8"/><circle cx="486.39" cy="153.24" r="2.8"/><circle cx="486.71" cy="153.64" r="2.8"/><circle cx="487.04" cy="153.8" r="2.8"/><circle cx="487.36" cy="153.51" r="2.8"/><circle cx="487.69" cy="154.01" r="2.8"/><circle cx="488.01" cy="153.04" r="2.8"/><circle cx="488.34" cy="153.7" r="2.8"/><circle cx="488.66" cy="153.65" r="2.8"/><circle cx="488.99" cy="153.65" r="2.8"/><circle cx="489.31" cy="154.16" r="2.8"/><circle cx="489.64" cy="154.26" r="2.8"/><circle cx="489.96" cy="153.71" r="2.8"/><circle cx="490.29" cy="153.65" r="2.8"/><circle cx="490.61" cy="153.25" r="2.8"/><circle cx="490.94" cy="153.61" r="2.8"/><circle cx="491.27" cy="154.23" r="2.8"/><circle cx="491.59" cy="153.58" r="2.8"/><circle cx="491.92" cy="153.46" r="2.8"/><circle cx="492.24" cy="153.39" r="2.8"/><circle cx="492.57" cy="153.66" r="2.8"/><circle cx="492.89" cy="154.28" r="2.8"/><circle cx="493.22" cy="153.33" r="2.8"/><circle cx="493.54" cy="154.09" r="2.8"/><circle cx="493.87" cy="153.56" r="2.8"/><circle cx="494.19" cy="154.42" r="2.8"/><circle cx="494.52" cy="153.49" r="2.8"/><circle cx="494.84" cy="154.11" r="2.8"/><circle cx="495.17" cy="153.36" r="2.8"/><circle cx="495.49" cy="153.09" r="2.8"/><circle cx="495.82" cy="153.32" r="2.8"/><circle cx="496.14" cy="154.26" r="2.8"/><circle cx="496.47" cy="154.17" r="2.8"/><circle cx="496.8" cy="154.14" r="2.8"/><circle cx="497.12" cy="153.53" r="2.8"/><circle cx="497.45" cy="153.65" r="2.8"/><circle cx="497.77" cy="153.73" r="2.8"/><circle cx="498.1" cy="153.67" r="2.8"/><circle cx="498.42" cy="153.56" r="2.8"/><circle cx="498.75" cy="153.53" r="2.8"/><circle cx="499.07" cy="153.12" r="2.8"/><circle cx="499.4" cy="153.82" r="2.8"/><circle cx="499.72" cy="153.71" r="2.8"/><circle cx="500.05" cy="154.54" r="2.8"/><circle cx="500.37" cy="154.32" r="2.8"/><circle cx="500.7" cy="154.07" r="2.8"/><circle cx="501.02" cy="154.27" r="2.8"/><circle cx="501.35" cy="153.71" r="2.8"/><circle cx="501.67" cy="153.38" r="2.8"/><circle cx="502" cy="153.97" r="2.8"/><circle cx="502.32" cy="153.99" r="2.8"/><circle cx="502.65" cy="154" r="2.8"/><circle cx="502.98" cy="153.74" r="2.8"/><circle cx="503.3" cy="154.01" r="2.8"/><circle cx="503.63" cy="153.63" r="2.8"/><circle cx="503.95" cy="153.68" r="2.8"/><circle cx="504.28" cy="153.66" r="2.8"/><circle cx="504.6" cy="153.49" r="2.8"/><circle cx="504.93" cy="153.79" r="2.8"/><circle cx="505.25" cy="153.74" r="2.8"/><circle cx="505.58" cy="153.09" r="2.8"/><circle cx="505.9" cy="153.82" r="2.8"/><circle cx="506.23" cy="153.48" r="2.8"/><circle cx="506.55" cy="153.78" r="2.8"/><circle cx="506.88" cy="153.98" r="2.8"/><circle cx="507.2" cy="153.98" r="2.8"/><circle cx="507.53" cy="154.13" r="2.8"/><circle cx="507.85" cy="153.8" r="2.8"/><circle cx="508.18" cy="154.04" r="2.8"/><circle cx="508.51" cy="153.97" r="2.8"/><circle cx="508.83" cy="153.31" r="2.8"/><circle cx="509.16" cy="153.85" r="2.8"/><circle cx="509.48" cy="153.34" r="2.8"/><circle cx="509.81" cy="153.69" r="2.8"/><circle cx="510.13" cy="153.46" r="2.8"/><circle cx="510.46" cy="154.05" r="2.8"/><circle cx="510.78" cy="153.74" r="2.8"/><circle cx="511.11" cy="152.75" r="2.8"/><circle cx="511.43" cy="153.47" r="2.8"/><circle cx="511.76" cy="153.4" r="2.8"/><circle cx="512.08" cy="153.71" r="2.8"/><circle cx="512.41" cy="153.46" r="2.8"/><circle cx="512.73" cy="154.27" r="2.8"/><circle cx="513.06" cy="154.14" r="2.8"/><circle cx="513.38" cy="153.63" r="2.8"/><circle cx="513.71" cy="153.47" r="2.8"/><circle cx="514.04" cy="153.97" r="2.8"/><circle cx="514.36" cy="153.88" r="2.8"/><circle cx="514.69" cy="153.95" r="2.8"/><circle cx="515.01" cy="153.88" r="2.8"/><circle cx="515.34" cy="154.28" r="2.8"/><circle cx="515.66" cy="154.38" r="2.8"/><circle cx="515.99" cy="153.84" r="2.8"/><circle cx="516.31" cy="154.5" r="2.8"/><circle cx="516.64" cy="154.2" r="2.8"/><circle cx="516.96" cy="154.07" r="2.8"/><circle cx="517.29" cy="154.23" r="2.8"/><circle cx="517.61" cy="153.71" r="2.8"/><circle cx="517.94" cy="153.98" r="2.8"/><circle cx="518.26" cy="153.84" r="2.8"/><circle cx="518.59" cy="154.21" r="2.8"/><circle cx="518.91" cy="154.1" r="2.8"/><circle cx="519.24" cy="153.6" r="2.8"/><circle cx="519.56" cy="153.66" r="2.8"/><circle cx="519.89" cy="153.99" r="2.8"/><circle cx="520.22" cy="153.66" r="2.8"/><circle cx="520.54" cy="153.73" r="2.8"/><circle cx="520.87" cy="153.75" r="2.8"/><circle cx="521.19" cy="153.17" r="2.8"/><circle cx="521.52" cy="153.97" r="2.8"/><circle cx="521.84" cy="153.64" r="2.8"/><circle cx="522.17" cy="153.64" r="2.8"/><circle cx="522.49" cy="153.91" r="2.8"/><circle cx="522.82" cy="154.28" r="2.8"/><circle cx="523.14" cy="153.54" r="2.8"/><circle cx="523.47" cy="153.71" r="2.8"/><circle cx="523.79" cy="153.79" r="2.8"/><circle cx="524.12" cy="153.8" r="2.8"/><circle cx="524.44" cy="153.81" r="2.8"/><circle cx="524.77" cy="154.17" r="2.8"/><circle cx="525.09" cy="153.7" r="2.8"/><circle cx="525.42" cy="154.54" r="2.8"/><circle cx="525.75" cy="153.83" r="2.8"/><circle cx="526.07" cy="154.41" r="2.8"/><circle cx="526.4" cy="153.96" r="2.8"/><circle cx="526.72" cy="153.53" r="2.8"/><circle cx="527.05" cy="153.92" r="2.8"/><circle cx="527.37" cy="154.01" r="2.8"/><circle cx="527.7" cy="153.61" r="2.8"/><circle cx="528.02" cy="153.93" r="2.8"/><circle cx="528.35" cy="153.98" r="2.8"/><circle cx="528.67" cy="153.98" r="2.8"/><circle cx="529" cy="153.22" r="2.8"/><circle cx="529.32" cy="153.55" r="2.8"/><circle cx="529.65" cy="153.63" r="2.8"/><circle cx="529.97" cy="154.3" r="2.8"/><circle cx="530.3" cy="153.57" r="2.8"/><circle cx="530.62" cy="154.34" r="2.8"/><circle cx="530.95" cy="153.63" r="2.8"/><circle cx="531.27" cy="154.27" r="2.8"/><circle cx="531.6" cy="153.04" r="2.8"/><circle cx="531.93" cy="154.5" r="2.8"/><circle cx="532.25" cy="153.33" r="2.8"/><circle cx="532.58" cy="153.5" r="2.8"/><circle cx="532.9" cy="154.53" r="2.8"/><circle cx="533.23" cy="153.92" r="2.8"/><circle cx="533.55" cy="153.25" r="2.8"/><circle cx="533.88" cy="153.37" r="2.8"/><circle cx="534.2" cy="154.49" r="2.8"/><circle cx="534.53" cy="154.03" r="2.8"/><circle cx="534.85" cy="154.29" r="2.8"/><circle cx="535.18" cy="154.23" r="2.8"/><circle cx="535.5" cy="154.08" r="2.8"/><circle cx="535.83" cy="153.09" r="2.8"/><circle cx="536.15" cy="153.77" r="2.8"/><circle cx="536.48" cy="153.92" r="2.8"/><circle cx="536.8" cy="153.96" r="2.8"/><circle cx="537.13" cy="153.56" r="2.8"/><circle cx="537.46" cy="153.55" r="2.8"/><circle cx="537.78" cy="154.19" r="2.8"/><circle cx="538.11" cy="153.24" r="2.8"/><circle cx="538.43" cy="154.26" r="2.8"/><circle cx="538.76" cy="153.94" r="2.8"/><circle cx="539.08" cy="153.65" r="2.8"/><circle cx="539.41" cy="153.14" r="2.8"/><circle cx="539.73" cy="153.96" r="2.8"/><circle cx="540.06" cy="153.71" r="2.8"/><circle cx="540.38" cy="153.3" r="2.8"/><circle cx="540.71" cy="153.58" r="2.8"/><circle cx="541.03" cy="153.38" r="2.8"/><circle cx="541.36" cy="153.41" r="2.8"/><circle cx="541.68" cy="153.72" r="2.8"/><circle cx="542.01" cy="153.57" r="2.8"/><circle cx="542.33" cy="153.46" r="2.8"/><circle cx="542.66" cy="153.84" r="2.8"/><circle cx="542.99" cy="153.19" r="2.8"/><circle cx="543.31" cy="154.62" r="2.8"/><circle cx="543.64" cy="154.19" r="2.8"/><circle cx="543.96" cy="153.25" r="2.8"/><circle cx="544.29" cy="153.66" r="2.8"/><circle cx="544.61" cy="154.08" r="2.8"/><circle cx="544.94" cy="153.67" r="2.8"/><circle cx="545.26" cy="153.39" r="2.8"/><circle cx="545.59" cy="154.05" r="2.8"/><circle cx="545.91" cy="153.52" r="2.8"/><circle cx="546.24" cy="153.87" r="2.8"/><circle cx="546.56" cy="153.87" r="2.8"/><circle cx="546.89" cy="153.85" r="2.8"/><circle cx="547.21" cy="153.38" r="2.8"/><circle cx="547.54" cy="154.27" r="2.8"/><circle cx="547.86" cy="153.97" r="2.8"/><circle cx="548.19" cy="153.56" r="2.8"/><circle cx="548.51" cy="154.31" r="2.8"/><circle cx="548.84" cy="154.46" r="2.8"/><circle cx="549.17" cy="153.6" r="2.8"/><circle cx="549.49" cy="153.82" r="2.8"/><circle cx="549.82" cy="153.88" r="2.8"/><circle cx="550.14" cy="153.77" r="2.8"/><circle cx="550.47" cy="154.21" r="2.8"/><circle cx="550.79" cy="152.66" r="2.8"/><circle cx="551.12" cy="154.22" r="2.8"/><circle cx="551.44" cy="154" r="2.8"/><circle cx="551.77" cy="154.39" r="2.8"/><circle cx="552.09" cy="153.99" r="2.8"/><circle cx="552.42" cy="153.21" r="2.8"/><circle cx="552.74" cy="153.82" r="2.8"/><circle cx="553.07" cy="153.59" r="2.8"/><circle cx="553.39" cy="154.02" r="2.8"/><circle cx="553.72" cy="153.1" r="2.8"/><circle cx="554.04" cy="153.76" r="2.8"/><circle cx="554.37" cy="154.32" r="2.8"/><circle cx="554.7" cy="153.52" r="2.8"/><circle cx="555.02" cy="153.97" r="2.8"/><circle cx="555.35" cy="153.58" r="2.8"/><circle cx="555.67" cy="153.77" r="2.8"/><circle cx="556" cy="153.72" r="2.8"/><circle cx="556.32" cy="153.77" r="2.8"/><circle cx="556.65" cy="154.19" r="2.8"/><circle cx="556.97" cy="154.43" r="2.8"/><circle cx="557.3" cy="153.44" r="2.8"/><circle cx="557.62" cy="153.88" r="2.8"/><circle cx="557.95" cy="153.71" r="2.8"/><circle cx="558.27" cy="154.01" r="2.8"/><circle cx="558.6" cy="154.63" r="2.8"/><circle cx="558.92" cy="154.34" r="2.8"/><circle cx="559.25" cy="153.27" r="2.8"/><circle cx="559.57" cy="154.14" r="2.8"/><circle cx="559.9" cy="153.98" r="2.8"/><circle cx="560.23" cy="154.41" r="2.8"/><circle cx="560.55" cy="154.04" r="2.8"/><circle cx="560.88" cy="153.97" r="2.8"/><circle cx="561.2" cy="153.91" r="2.8"/><circle cx="561.53" cy="153.86" r="2.8"/><circle cx="561.85" cy="154.08" r="2.8"/><circle cx="562.18" cy="154.06" r="2.8"/><circle cx="562.5" cy="153.83" r="2.8"/><circle cx="562.83" cy="153.7" r="2.8"/><circle cx="563.15" cy="153.88" r="2.8"/><circle cx="563.48" cy="153.13" r="2.8"/><circle cx="563.8" cy="153.74" r="2.8"/><circle cx="564.13" cy="153.76" r="2.8"/><circle cx="564.45" cy="154.09" r="2.8"/><circle cx="564.78" cy="153.42" r="2.8"/><circle cx="565.1" cy="154.24" r="2.8"/><circle cx="565.43" cy="154.47" r="2.8"/><circle cx="565.75" cy="154.22" r="2.8"/><circle cx="566.08" cy="153.58" r="2.8"/><circle cx="566.41" cy="154.29" r="2.8"/><circle cx="566.73" cy="153.31" r="2.8"/><circle cx="567.06" cy="153.84" r="2.8"/><circle cx="567.38" cy="154.43" r="2.8"/><circle cx="567.71" cy="153.92" r="2.8"/><circle cx="568.03" cy="153.11" r="2.8"/><circle cx="568.36" cy="154.17" r="2.8"/><circle cx="568.68" cy="154.35" r="2.8"/><circle cx="569.01" cy="153.62" r="2.8"/><circle cx="569.33" cy="153.31" r="2.8"/><circle cx="569.66" cy="153.42" r="2.8"/><circle cx="569.98" cy="153.96" r="2.8"/><circle cx="570.31" cy="153.75" r="2.8"/><circle cx="570.63" cy="153.7" r="2.8"/><circle cx="570.96" cy="153.36" r="2.8"/><circle cx="571.28" cy="152.97" r="2.8"/><circle cx="571.61" cy="153.87" r="2.8"/><circle cx="571.94" cy="153.31" r="2.8"/><circle cx="572.26" cy="153.97" r="2.8"/><circle cx="572.59" cy="153.59" r="2.8"/><circle cx="572.91" cy="154.2" r="2.8"/><circle cx="573.24" cy="154.13" r="2.8"/><circle cx="573.56" cy="153.66" r="2.8"/><circle cx="573.89" cy="154.19" r="2.8"/><circle cx="574.21" cy="153.47" r="2.8"/><circle cx="574.54" cy="154.05" r="2.8"/><circle cx="574.86" cy="153.8" r="2.8"/><circle cx="575.19" cy="153.86" r="2.8"/><circle cx="575.51" cy="153.96" r="2.8"/><circle cx="575.84" cy="153.78" r="2.8"/><circle cx="576.16" cy="153.4" r="2.8"/><circle cx="576.49" cy="152.59" r="2.8"/><circle cx="576.81" cy="154.3" r="2.8"/><circle cx="577.14" cy="153.71" r="2.8"/><circle cx="577.46" cy="153.9" r="2.8"/><circle cx="577.79" cy="154.19" r="2.8"/><circle cx="578.12" cy="153.71" r="2.8"/><circle cx="578.44" cy="154.18" r="2.8"/><circle cx="578.77" cy="153.86" r="2.8"/><circle cx="579.09" cy="153.33" r="2.8"/><circle cx="579.42" cy="154.64" r="2.8"/><circle cx="579.74" cy="153.73" r="2.8"/><circle cx="580.07" cy="153.65" r="2.8"/><circle cx="580.39" cy="154.21" r="2.8"/><circle cx="580.72" cy="153.62" r="2.8"/><circle cx="581.04" cy="153.69" r="2.8"/><circle cx="581.37" cy="153.97" r="2.8"/><circle cx="581.69" cy="153.34" r="2.8"/><circle cx="582.02" cy="154.35" r="2.8"/><circle cx="582.34" cy="153.57" r="2.8"/><circle cx="582.67" cy="153.92" r="2.8"/><circle cx="582.99" cy="154.25" r="2.8"/><circle cx="583.32" cy="153.9" r="2.8"/><circle cx="583.65" cy="153.97" r="2.8"/><circle cx="583.97" cy="153.5" r="2.8"/><circle cx="584.3" cy="154.43" r="2.8"/><circle cx="584.62" cy="153.91" r="2.8"/><circle cx="584.95" cy="154.01" r="2.8"/><circle cx="585.27" cy="153.2" r="2.8"/><circle cx="585.6" cy="154.28" r="2.8"/><circle cx="585.92" cy="153.41" r="2.8"/><circle cx="586.25" cy="154.53" r="2.8"/><circle cx="586.57" cy="153.69" r="2.8"/><circle cx="586.9" cy="153.88" r="2.8"/><circle cx="587.22" cy="153.68" r="2.8"/><circle cx="587.55" cy="154.11" r="2.8"/><circle cx="587.87" cy="154.61" r="2.8"/><circle cx="588.2" cy="154.45" r="2.8"/><circle cx="588.52" cy="153.31" r="2.8"/><circle cx="588.85" cy="153.75" r="2.8"/><circle cx="589.18" cy="154.18" r="2.8"/><circle cx="589.5" cy="153.47" r="2.8"/><circle cx="589.83" cy="154.13" r="2.8"/><circle cx="590.15" cy="154.13" r="2.8"/><circle cx="590.48" cy="154.32" r="2.8"/><circle cx="590.8" cy="153.36" r="2.8"/><circle cx="591.13" cy="153.05" r="2.8"/><circle cx="591.45" cy="154.22" r="2.8"/><circle cx="591.78" cy="153.72" r="2.8"/><circle cx="592.1" cy="153.44" r="2.8"/><circle cx="592.43" cy="152.99" r="2.8"/><circle cx="592.75" cy="154.79" r="2.8"/><circle cx="593.08" cy="153.78" r="2.8"/><circle cx="593.4" cy="153.58" r="2.8"/><circle cx="593.73" cy="154.43" r="2.8"/><circle cx="594.05" cy="153.67" r="2.8"/><circle cx="594.38" cy="153.76" r="2.8"/><circle cx="594.7" cy="153.55" r="2.8"/><circle cx="595.03" cy="154.07" r="2.8"/><circle cx="595.36" cy="153.67" r="2.8"/><circle cx="595.68" cy="154.08" r="2.8"/><circle cx="596.01" cy="153.6" r="2.8"/><circle cx="596.33" cy="153.77" r="2.8"/><circle cx="596.66" cy="153.99" r="2.8"/><circle cx="596.98" cy="154.4" r="2.8"/><circle cx="597.31" cy="153.18" r="2.8"/><circle cx="597.63" cy="153.39" r="2.8"/><circle cx="597.96" cy="153.49" r="2.8"/><circle cx="598.28" cy="154.1" r="2.8"/><circle cx="598.61" cy="153.98" r="2.8"/><circle cx="598.93" cy="153.17" r="2.8"/><circle cx="599.26" cy="153.54" r="2.8"/><circle cx="599.58" cy="154.18" r="2.8"/><circle cx="599.91" cy="153.82" r="2.8"/><circle cx="600.23" cy="153.78" r="2.8"/><circle cx="600.56" cy="153.92" r="2.8"/><circle cx="600.89" cy="154.21" r="2.8"/><circle cx="601.21" cy="153.34" r="2.8"/><circle cx="601.54" cy="153.6" r="2.8"/><circle cx="601.86" cy="153.92" r="2.8"/><circle cx="602.19" cy="154.47" r="2.8"/><circle cx="602.51" cy="154.07" r="2.8"/><circle cx="602.84" cy="153.84" r="2.8"/><circle cx="603.16" cy="153.49" r="2.8"/><circle cx="603.49" cy="153.98" r="2.8"/><circle cx="603.81" cy="153.39" r="2.8"/><circle cx="604.14" cy="153.78" r="2.8"/><circle cx="604.46" cy="154.13" r="2.8"/><circle cx="604.79" cy="154.95" r="2.8"/><circle cx="605.11" cy="154.3" r="2.8"/><circle cx="605.44" cy="154.43" r="2.8"/><circle cx="605.76" cy="153.89" r="2.8"/><circle cx="606.09" cy="153.7" r="2.8"/><circle cx="606.42" cy="153.28" r="2.8"/><circle cx="606.74" cy="153.84" r="2.8"/><circle cx="607.07" cy="154.29" r="2.8"/><circle cx="607.39" cy="152.89" r="2.8"/><circle cx="607.72" cy="153.71" r="2.8"/><circle cx="608.04" cy="153.94" r="2.8"/><circle cx="608.37" cy="153.94" r="2.8"/><circle cx="608.69" cy="154.37" r="2.8"/><circle cx="609.02" cy="153.58" r="2.8"/><circle cx="609.34" cy="153.68" r="2.8"/><circle cx="609.67" cy="153.19" r="2.8"/><circle cx="609.99" cy="153.39" r="2.8"/><circle cx="610.32" cy="153.48" r="2.8"/><circle cx="610.64" cy="153.32" r="2.8"/><circle cx="610.97" cy="153.94" r="2.8"/><circle cx="611.29" cy="154" r="2.8"/><circle cx="611.62" cy="153.85" r="2.8"/><circle cx="611.94" cy="154.33" r="2.8"/><circle cx="612.27" cy="153.88" r="2.8"/><circle cx="612.6" cy="153.96" r="2.8"/><circle cx="612.92" cy="153.56" r="2.8"/><circle cx="613.25" cy="153.83" r="2.8"/><circle cx="613.57" cy="154.59" r="2.8"/><circle cx="613.9" cy="153.81" r="2.8"/><circle cx="614.22" cy="153.26" r="2.8"/><circle cx="614.55" cy="154.56" r="2.8"/><circle cx="614.87" cy="154.13" r="2.8"/><circle cx="615.2" cy="153.82" r="2.8"/><circle cx="615.52" cy="154.35" r="2.8"/><circle cx="615.85" cy="154.04" r="2.8"/><circle cx="616.17" cy="153.8" r="2.8"/><circle cx="616.5" cy="154.35" r="2.8"/><circle cx="616.82" cy="153.7" r="2.8"/><circle cx="617.15" cy="153.66" r="2.8"/><circle cx="617.47" cy="154.33" r="2.8"/><circle cx="617.8" cy="153.81" r="2.8"/><circle cx="618.13" cy="153.39" r="2.8"/><circle cx="618.45" cy="153.89" r="2.8"/><circle cx="618.78" cy="153.64" r="2.8"/><circle cx="619.1" cy="153.56" r="2.8"/><circle cx="619.43" cy="153.91" r="2.8"/><circle cx="619.75" cy="153.42" r="2.8"/><circle cx="620.08" cy="153.66" r="2.8"/><circle cx="620.4" cy="154.21" r="2.8"/><circle cx="620.73" cy="153.61" r="2.8"/><circle cx="621.05" cy="153.47" r="2.8"/><circle cx="621.38" cy="153.49" r="2.8"/><circle cx="621.7" cy="154.07" r="2.8"/><circle cx="622.03" cy="153.63" r="2.8"/><circle cx="622.35" cy="153.27" r="2.8"/><circle cx="622.68" cy="153.72" r="2.8"/><circle cx="623" cy="153.34" r="2.8"/><circle cx="623.33" cy="153.29" r="2.8"/><circle cx="623.65" cy="153.83" r="2.8"/><circle cx="623.98" cy="153.55" r="2.8"/><circle cx="624.31" cy="153.93" r="2.8"/><circle cx="624.63" cy="153.38" r="2.8"/><circle cx="624.96" cy="153.85" r="2.8"/><circle cx="625.28" cy="154.03" r="2.8"/><circle cx="625.61" cy="153.82" r="2.8"/><circle cx="625.93" cy="153.84" r="2.8"/><circle cx="626.26" cy="153.66" r="2.8"/><circle cx="626.58" cy="153.62" r="2.8"/><circle cx="626.91" cy="154.28" r="2.8"/><circle cx="627.23" cy="154.07" r="2.8"/><circle cx="627.56" cy="153.67" r="2.8"/><circle cx="627.88" cy="153.62" r="2.8"/><circle cx="628.21" cy="153.77" r="2.8"/><circle cx="628.53" cy="152.75" r="2.8"/><circle cx="628.86" cy="153.36" r="2.8"/><circle cx="629.18" cy="153.84" r="2.8"/><circle cx="629.51" cy="153.52" r="2.8"/><circle cx="629.84" cy="153.27" r="2.8"/><circle cx="630.16" cy="153.66" r="2.8"/><circle cx="630.49" cy="154.5" r="2.8"/><circle cx="630.81" cy="153.77" r="2.8"/><circle cx="631.14" cy="153.78" r="2.8"/><circle cx="631.46" cy="152.95" r="2.8"/><circle cx="631.79" cy="154.54" r="2.8"/><circle cx="632.11" cy="153.18" r="2.8"/><circle cx="632.44" cy="153.86" r="2.8"/><circle cx="632.76" cy="153.43" r="2.8"/><circle cx="633.09" cy="153.92" r="2.8"/><circle cx="633.41" cy="153.73" r="2.8"/><circle cx="633.74" cy="153.35" r="2.8"/><circle cx="634.06" cy="153.77" r="2.8"/><circle cx="634.39" cy="153.38" r="2.8"/><circle cx="634.71" cy="153.83" r="2.8"/><circle cx="635.04" cy="153.96" r="2.8"/><circle cx="635.37" cy="153.88" r="2.8"/><circle cx="635.69" cy="154" r="2.8"/><circle cx="636.02" cy="153.84" r="2.8"/><circle cx="636.34" cy="153.25" r="2.8"/><circle cx="636.67" cy="154.26" r="2.8"/><circle cx="636.99" cy="154.46" r="2.8"/><circle cx="637.32" cy="153.8" r="2.8"/><circle cx="637.64" cy="153.12" r="2.8"/><circle cx="637.97" cy="153.38" r="2.8"/><circle cx="638.29" cy="153.27" r="2.8"/><circle cx="638.62" cy="153.29" r="2.8"/><circle cx="638.94" cy="154.09" r="2.8"/><circle cx="639.27" cy="153.75" r="2.8"/><circle cx="639.59" cy="154.86" r="2.8"/><circle cx="639.92" cy="154.04" r="2.8"/><circle cx="640.24" cy="153.55" r="2.8"/><circle cx="640.57" cy="154.42" r="2.8"/><circle cx="640.89" cy="154.62" r="2.8"/><circle cx="641.22" cy="154.31" r="2.8"/><circle cx="641.55" cy="153.7" r="2.8"/><circle cx="641.87" cy="153.32" r="2.8"/><circle cx="642.2" cy="152.76" r="2.8"/><circle cx="642.52" cy="153.22" r="2.8"/><circle cx="642.85" cy="154.39" r="2.8"/><circle cx="643.17" cy="154.72" r="2.8"/><circle cx="643.5" cy="153.73" r="2.8"/><circle cx="643.82" cy="153.36" r="2.8"/><circle cx="644.15" cy="154.43" r="2.8"/><circle cx="644.47" cy="153.99" r="2.8"/><circle cx="644.8" cy="153.96" r="2.8"/><circle cx="645.12" cy="153.77" r="2.8"/><circle cx="645.45" cy="153.85" r="2.8"/><circle cx="645.77" cy="153.57" r="2.8"/><circle cx="646.1" cy="153.36" r="2.8"/><circle cx="646.42" cy="153.75" r="2.8"/><circle cx="646.75" cy="153.48" r="2.8"/><circle cx="647.08" cy="152.98" r="2.8"/><circle cx="647.4" cy="154.19" r="2.8"/><circle cx="647.73" cy="154.2" r="2.8"/><circle cx="648.05" cy="153.57" r="2.8"/><circle cx="648.38" cy="153.03" r="2.8"/><circle cx="648.7" cy="153.71" r="2.8"/><circle cx="649.03" cy="153.34" r="2.8"/><circle cx="649.35" cy="153.9" r="2.8"/><circle cx="649.68" cy="153.41" r="2.8"/><circle cx="650" cy="154.03" r="2.8"/><circle cx="650.33" cy="153.52" r="2.8"/><circle cx="650.65" cy="153.64" r="2.8"/><circle cx="650.98" cy="153.65" r="2.8"/><circle cx="651.3" cy="153.26" r="2.8"/><circle cx="651.63" cy="153.4" r="2.8"/><circle cx="651.95" cy="154.07" r="2.8"/><circle cx="652.28" cy="153.49" r="2.8"/><circle cx="652.61" cy="154.53" r="2.8"/><circle cx="652.93" cy="153.46" r="2.8"/><circle cx="653.26" cy="152.77" r="2.8"/><circle cx="653.58" cy="153.66" r="2.8"/><circle cx="653.91" cy="153.68" r="2.8"/><circle cx="654.23" cy="153.87" r="2.8"/><circle cx="654.56" cy="153.57" r="2.8"/><circle cx="654.88" cy="154.09" r="2.8"/><circle cx="655.21" cy="153.65" r="2.8"/><circle cx="655.53" cy="154.04" r="2.8"/><circle cx="655.86" cy="154.1" r="2.8"/><circle cx="656.18" cy="153.89" r="2.8"/><circle cx="656.51" cy="153.98" r="2.8"/><circle cx="656.83" cy="154.66" r="2.8"/><circle cx="657.16" cy="153.14" r="2.8"/><circle cx="657.48" cy="153.92" r="2.8"/><circle cx="657.81" cy="154.67" r="2.8"/><circle cx="658.13" cy="153.57" r="2.8"/><circle cx="658.46" cy="154.02" r="2.8"/><circle cx="658.79" cy="153.93" r="2.8"/><circle cx="659.11" cy="153.74" r="2.8"/><circle cx="659.44" cy="154.39" r="2.8"/><circle cx="659.76" cy="155.22" r="2.8"/><circle cx="660.09" cy="154.09" r="2.8"/><circle cx="660.41" cy="153.97" r="2.8"/><circle cx="660.74" cy="153.67" r="2.8"/><circle cx="661.06" cy="154.39" r="2.8"/><circle cx="661.39" cy="154.2" r="2.8"/><circle cx="661.71" cy="153.94" r="2.8"/><circle cx="662.04" cy="154.24" r="2.8"/><circle cx="662.36" cy="154.22" r="2.8"/><circle cx="662.69" cy="154.03" r="2.8"/><circle cx="663.01" cy="154.54" r="2.8"/><circle cx="663.34" cy="153.52" r="2.8"/><circle cx="663.66" cy="154.53" r="2.8"/><circle cx="663.99" cy="154.15" r="2.8"/><circle cx="664.32" cy="154.31" r="2.8"/><circle cx="664.64" cy="154.47" r="2.8"/><circle cx="664.97" cy="153.98" r="2.8"/><circle cx="665.29" cy="153.8" r="2.8"/><circle cx="665.62" cy="153.63" r="2.8"/><circle cx="665.94" cy="153.99" r="2.8"/><circle cx="666.27" cy="154.42" r="2.8"/><circle cx="666.59" cy="153.9" r="2.8"/><circle cx="666.92" cy="154.83" r="2.8"/><circle cx="667.24" cy="154.25" r="2.8"/><circle cx="667.57" cy="154.07" r="2.8"/><circle cx="667.89" cy="154.06" r="2.8"/><circle cx="668.22" cy="154.77" r="2.8"/><circle cx="668.54" cy="154.93" r="2.8"/><circle cx="668.87" cy="153.69" r="2.8"/><circle cx="669.19" cy="154.58" r="2.8"/><circle cx="669.52" cy="155.06" r="2.8"/><circle cx="669.84" cy="154.92" r="2.8"/><circle cx="670.17" cy="154.44" r="2.8"/><circle cx="670.5" cy="154" r="2.8"/><circle cx="670.82" cy="154.49" r="2.8"/><circle cx="671.15" cy="154.03" r="2.8"/><circle cx="671.47" cy="154.45" r="2.8"/><circle cx="671.8" cy="154.37" r="2.8"/><circle cx="672.12" cy="154.19" r="2.8"/><circle cx="672.45" cy="154.76" r="2.8"/><circle cx="672.77" cy="154.51" r="2.8"/><circle cx="673.1" cy="154.81" r="2.8"/><circle cx="673.42" cy="154.93" r="2.8"/><circle cx="673.75" cy="154.43" r="2.8"/><circle cx="674.07" cy="155.05" r="2.8"/><circle cx="674.4" cy="154.71" r="2.8"/><circle cx="674.72" cy="155.08" r="2.8"/><circle cx="675.05" cy="154.82" r="2.8"/><circle cx="675.37" cy="155.02" r="2.8"/><circle cx="675.7" cy="154.4" r="2.8"/><circle cx="415.8" cy="155.13" r="2.8"/><circle cx="416.32" cy="154.6" r="2.8"/><circle cx="416.84" cy="155.53" r="2.8"/><circle cx="674.4" cy="155.13" r="2.8"/><circle cx="674.92" cy="154.47" r="2.8"/><circle cx="675.7" cy="154.87" r="2.8"/><circle cx="677" cy="155" r="2.8"/></g><g fill="none" stroke="#E6531C" stroke-width="1.0" stroke-linejoin="miter"><path d="M413.72 131.24h5.2l-2.6 4.6z"/><path d="M414.8 127.2h5.2l-2.6 4.6z"/><path d="M415.89 122.76h5.2l-2.6 4.6z"/><path d="M416.97 125.06h5.2l-2.6 4.6z"/><path d="M418.05 122.3h5.2l-2.6 4.6z"/><path d="M419.14 122.56h5.2l-2.6 4.6z"/><path d="M420.22 119.71h5.2l-2.6 4.6z"/><path d="M421.3 118.68h5.2l-2.6 4.6z"/><path d="M422.38 117.85h5.2l-2.6 4.6z"/><path d="M423.47 117.48h5.2l-2.6 4.6z"/><path d="M424.55 117.73h5.2l-2.6 4.6z"/><path d="M425.63 114.75h5.2l-2.6 4.6z"/><path d="M426.72 114.94h5.2l-2.6 4.6z"/><path d="M427.8 114.42h5.2l-2.6 4.6z"/><path d="M428.88 114.13h5.2l-2.6 4.6z"/><path d="M429.97 111.93h5.2l-2.6 4.6z"/><path d="M431.05 111.68h5.2l-2.6 4.6z"/><path d="M432.13 110.68h5.2l-2.6 4.6z"/><path d="M433.22 109.19h5.2l-2.6 4.6z"/><path d="M434.3 108.22h5.2l-2.6 4.6z"/><path d="M435.38 108.09h5.2l-2.6 4.6z"/><path d="M436.46 105.47h5.2l-2.6 4.6z"/><path d="M437.55 106.32h5.2l-2.6 4.6z"/><path d="M438.63 105.45h5.2l-2.6 4.6z"/><path d="M439.71 103.35h5.2l-2.6 4.6z"/><path d="M440.8 102.57h5.2l-2.6 4.6z"/><path d="M441.88 101.72h5.2l-2.6 4.6z"/><path d="M442.96 101.2h5.2l-2.6 4.6z"/><path d="M444.05 99.94h5.2l-2.6 4.6z"/><path d="M445.13 99.53h5.2l-2.6 4.6z"/><path d="M446.21 99.5h5.2l-2.6 4.6z"/><path d="M447.3 96.7h5.2l-2.6 4.6z"/><path d="M448.38 97.35h5.2l-2.6 4.6z"/><path d="M449.46 96.1h5.2l-2.6 4.6z"/><path d="M450.55 94.7h5.2l-2.6 4.6z"/><path d="M451.63 94.64h5.2l-2.6 4.6z"/><path d="M452.71 91.84h5.2l-2.6 4.6z"/><path d="M453.79 94.53h5.2l-2.6 4.6z"/><path d="M454.88 93.38h5.2l-2.6 4.6z"/><path d="M455.96 92.19h5.2l-2.6 4.6z"/><path d="M457.04 90.83h5.2l-2.6 4.6z"/><path d="M458.13 91.77h5.2l-2.6 4.6z"/><path d="M459.21 92.38h5.2l-2.6 4.6z"/><path d="M460.29 89.98h5.2l-2.6 4.6z"/><path d="M461.38 91.29h5.2l-2.6 4.6z"/><path d="M462.46 90.37h5.2l-2.6 4.6z"/><path d="M463.54 89.29h5.2l-2.6 4.6z"/><path d="M464.63 90.49h5.2l-2.6 4.6z"/><path d="M465.71 90.28h5.2l-2.6 4.6z"/><path d="M466.79 89.5h5.2l-2.6 4.6z"/><path d="M467.87 90.02h5.2l-2.6 4.6z"/><path d="M468.96 89.59h5.2l-2.6 4.6z"/><path d="M470.04 90.54h5.2l-2.6 4.6z"/><path d="M471.12 89.9h5.2l-2.6 4.6z"/><path d="M472.21 90.91h5.2l-2.6 4.6z"/><path d="M473.29 91.51h5.2l-2.6 4.6z"/><path d="M474.37 89.09h5.2l-2.6 4.6z"/><path d="M475.46 90.36h5.2l-2.6 4.6z"/><path d="M476.54 90.21h5.2l-2.6 4.6z"/><path d="M477.62 91.95h5.2l-2.6 4.6z"/><path d="M478.71 91.43h5.2l-2.6 4.6z"/><path d="M479.79 91.79h5.2l-2.6 4.6z"/><path d="M480.87 92.99h5.2l-2.6 4.6z"/><path d="M481.95 91.64h5.2l-2.6 4.6z"/><path d="M483.04 92.78h5.2l-2.6 4.6z"/><path d="M484.12 92.49h5.2l-2.6 4.6z"/><path d="M485.2 93.68h5.2l-2.6 4.6z"/><path d="M486.29 91.8h5.2l-2.6 4.6z"/><path d="M487.37 92.11h5.2l-2.6 4.6z"/><path d="M488.45 92.54h5.2l-2.6 4.6z"/><path d="M489.54 93.71h5.2l-2.6 4.6z"/><path d="M490.62 93.54h5.2l-2.6 4.6z"/><path d="M491.7 92.29h5.2l-2.6 4.6z"/><path d="M492.79 93.66h5.2l-2.6 4.6z"/><path d="M493.87 93.4h5.2l-2.6 4.6z"/><path d="M494.95 93.67h5.2l-2.6 4.6z"/><path d="M496.04 94.85h5.2l-2.6 4.6z"/><path d="M497.12 92.9h5.2l-2.6 4.6z"/><path d="M498.2 95.88h5.2l-2.6 4.6z"/><path d="M499.28 94.27h5.2l-2.6 4.6z"/><path d="M500.37 94.53h5.2l-2.6 4.6z"/><path d="M501.45 95.75h5.2l-2.6 4.6z"/><path d="M502.53 94.18h5.2l-2.6 4.6z"/><path d="M503.62 94.02h5.2l-2.6 4.6z"/><path d="M504.7 94.39h5.2l-2.6 4.6z"/><path d="M505.78 95.08h5.2l-2.6 4.6z"/><path d="M506.87 94.05h5.2l-2.6 4.6z"/><path d="M507.95 93.51h5.2l-2.6 4.6z"/><path d="M509.03 94.22h5.2l-2.6 4.6z"/><path d="M510.12 93.01h5.2l-2.6 4.6z"/><path d="M511.2 93.69h5.2l-2.6 4.6z"/><path d="M512.28 93.75h5.2l-2.6 4.6z"/><path d="M513.36 93.25h5.2l-2.6 4.6z"/><path d="M514.45 94.88h5.2l-2.6 4.6z"/><path d="M515.53 94.81h5.2l-2.6 4.6z"/><path d="M516.61 94.02h5.2l-2.6 4.6z"/><path d="M517.7 94.09h5.2l-2.6 4.6z"/><path d="M518.78 93.41h5.2l-2.6 4.6z"/><path d="M519.86 93.81h5.2l-2.6 4.6z"/><path d="M520.95 94.7h5.2l-2.6 4.6z"/><path d="M522.03 94.77h5.2l-2.6 4.6z"/><path d="M523.11 95.27h5.2l-2.6 4.6z"/><path d="M524.2 95.45h5.2l-2.6 4.6z"/><path d="M525.28 95.63h5.2l-2.6 4.6z"/><path d="M526.36 94.65h5.2l-2.6 4.6z"/><path d="M527.45 95.86h5.2l-2.6 4.6z"/><path d="M528.53 95.88h5.2l-2.6 4.6z"/><path d="M529.61 95.58h5.2l-2.6 4.6z"/><path d="M530.69 96.22h5.2l-2.6 4.6z"/><path d="M531.78 96.1h5.2l-2.6 4.6z"/><path d="M532.86 97.74h5.2l-2.6 4.6z"/><path d="M533.94 95.77h5.2l-2.6 4.6z"/><path d="M535.03 96.39h5.2l-2.6 4.6z"/><path d="M536.11 96.06h5.2l-2.6 4.6z"/><path d="M537.19 96h5.2l-2.6 4.6z"/><path d="M538.28 97.85h5.2l-2.6 4.6z"/><path d="M539.36 94.51h5.2l-2.6 4.6z"/><path d="M540.44 96.38h5.2l-2.6 4.6z"/><path d="M541.53 96.43h5.2l-2.6 4.6z"/><path d="M542.61 98.07h5.2l-2.6 4.6z"/><path d="M543.69 96.21h5.2l-2.6 4.6z"/><path d="M544.77 96.44h5.2l-2.6 4.6z"/><path d="M545.86 97.11h5.2l-2.6 4.6z"/><path d="M546.94 96.52h5.2l-2.6 4.6z"/><path d="M548.02 95.59h5.2l-2.6 4.6z"/><path d="M549.11 96.78h5.2l-2.6 4.6z"/><path d="M550.19 97.14h5.2l-2.6 4.6z"/><path d="M551.27 95.25h5.2l-2.6 4.6z"/><path d="M552.36 96h5.2l-2.6 4.6z"/><path d="M553.44 96.25h5.2l-2.6 4.6z"/><path d="M554.52 94.17h5.2l-2.6 4.6z"/><path d="M555.61 95.79h5.2l-2.6 4.6z"/><path d="M556.69 95.96h5.2l-2.6 4.6z"/><path d="M557.77 95.51h5.2l-2.6 4.6z"/><path d="M558.85 95.95h5.2l-2.6 4.6z"/><path d="M559.94 95.36h5.2l-2.6 4.6z"/><path d="M561.02 95.32h5.2l-2.6 4.6z"/><path d="M562.1 95.86h5.2l-2.6 4.6z"/><path d="M563.19 95.45h5.2l-2.6 4.6z"/><path d="M564.27 94.9h5.2l-2.6 4.6z"/><path d="M565.35 94.75h5.2l-2.6 4.6z"/><path d="M566.44 94.5h5.2l-2.6 4.6z"/><path d="M567.52 94.23h5.2l-2.6 4.6z"/><path d="M568.6 94.56h5.2l-2.6 4.6z"/><path d="M569.69 94.25h5.2l-2.6 4.6z"/><path d="M570.77 94.87h5.2l-2.6 4.6z"/><path d="M571.85 94.67h5.2l-2.6 4.6z"/><path d="M572.94 93.53h5.2l-2.6 4.6z"/><path d="M574.02 95.84h5.2l-2.6 4.6z"/><path d="M575.1 93.87h5.2l-2.6 4.6z"/><path d="M576.18 91.54h5.2l-2.6 4.6z"/><path d="M577.27 95.45h5.2l-2.6 4.6z"/><path d="M578.35 92.67h5.2l-2.6 4.6z"/><path d="M579.43 95.18h5.2l-2.6 4.6z"/><path d="M580.52 93.39h5.2l-2.6 4.6z"/><path d="M581.6 92.28h5.2l-2.6 4.6z"/><path d="M582.68 92.29h5.2l-2.6 4.6z"/><path d="M583.77 94.11h5.2l-2.6 4.6z"/><path d="M584.85 94.34h5.2l-2.6 4.6z"/><path d="M585.93 94.36h5.2l-2.6 4.6z"/><path d="M587.02 92.55h5.2l-2.6 4.6z"/><path d="M588.1 93.35h5.2l-2.6 4.6z"/><path d="M589.18 92.94h5.2l-2.6 4.6z"/><path d="M590.26 92.65h5.2l-2.6 4.6z"/><path d="M591.35 92.44h5.2l-2.6 4.6z"/><path d="M592.43 92.25h5.2l-2.6 4.6z"/><path d="M593.51 92.49h5.2l-2.6 4.6z"/><path d="M594.6 93.79h5.2l-2.6 4.6z"/><path d="M595.68 91.25h5.2l-2.6 4.6z"/><path d="M596.76 94.52h5.2l-2.6 4.6z"/><path d="M597.85 91.2h5.2l-2.6 4.6z"/><path d="M598.93 92.45h5.2l-2.6 4.6z"/><path d="M600.01 91.9h5.2l-2.6 4.6z"/><path d="M601.1 91.93h5.2l-2.6 4.6z"/><path d="M602.18 91.59h5.2l-2.6 4.6z"/><path d="M603.26 91.09h5.2l-2.6 4.6z"/><path d="M604.35 91.07h5.2l-2.6 4.6z"/><path d="M605.43 91.5h5.2l-2.6 4.6z"/><path d="M606.51 89.72h5.2l-2.6 4.6z"/><path d="M607.59 90.64h5.2l-2.6 4.6z"/><path d="M608.68 88.87h5.2l-2.6 4.6z"/><path d="M609.76 89.85h5.2l-2.6 4.6z"/><path d="M610.84 90.06h5.2l-2.6 4.6z"/><path d="M611.93 88.92h5.2l-2.6 4.6z"/><path d="M613.01 88.38h5.2l-2.6 4.6z"/><path d="M614.09 89.83h5.2l-2.6 4.6z"/><path d="M615.18 89.32h5.2l-2.6 4.6z"/><path d="M616.26 87.96h5.2l-2.6 4.6z"/><path d="M617.34 89.9h5.2l-2.6 4.6z"/><path d="M618.43 89.78h5.2l-2.6 4.6z"/><path d="M619.51 88.97h5.2l-2.6 4.6z"/><path d="M620.59 90.07h5.2l-2.6 4.6z"/><path d="M621.67 91.08h5.2l-2.6 4.6z"/><path d="M622.76 90.44h5.2l-2.6 4.6z"/><path d="M623.84 88.81h5.2l-2.6 4.6z"/><path d="M624.92 88.58h5.2l-2.6 4.6z"/><path d="M626.01 89.13h5.2l-2.6 4.6z"/><path d="M627.09 89.84h5.2l-2.6 4.6z"/><path d="M628.17 91.68h5.2l-2.6 4.6z"/><path d="M629.26 90.69h5.2l-2.6 4.6z"/><path d="M630.34 90.86h5.2l-2.6 4.6z"/><path d="M631.42 92.88h5.2l-2.6 4.6z"/><path d="M632.51 92.11h5.2l-2.6 4.6z"/><path d="M633.59 93.7h5.2l-2.6 4.6z"/><path d="M634.67 93.8h5.2l-2.6 4.6z"/><path d="M635.75 94.2h5.2l-2.6 4.6z"/><path d="M636.84 96.43h5.2l-2.6 4.6z"/><path d="M637.92 94.86h5.2l-2.6 4.6z"/><path d="M639 97.5h5.2l-2.6 4.6z"/><path d="M640.09 97.69h5.2l-2.6 4.6z"/><path d="M641.17 98.79h5.2l-2.6 4.6z"/><path d="M642.25 98.81h5.2l-2.6 4.6z"/><path d="M643.34 99.62h5.2l-2.6 4.6z"/><path d="M644.42 100.74h5.2l-2.6 4.6z"/><path d="M645.5 100.41h5.2l-2.6 4.6z"/><path d="M646.59 102.1h5.2l-2.6 4.6z"/><path d="M647.67 103.56h5.2l-2.6 4.6z"/><path d="M648.75 106.46h5.2l-2.6 4.6z"/><path d="M649.84 105.3h5.2l-2.6 4.6z"/><path d="M650.92 106.22h5.2l-2.6 4.6z"/><path d="M652 107.6h5.2l-2.6 4.6z"/><path d="M653.08 108.5h5.2l-2.6 4.6z"/><path d="M654.17 108.25h5.2l-2.6 4.6z"/><path d="M655.25 108.81h5.2l-2.6 4.6z"/><path d="M656.33 109.04h5.2l-2.6 4.6z"/><path d="M657.42 110.56h5.2l-2.6 4.6z"/><path d="M658.5 113.12h5.2l-2.6 4.6z"/><path d="M659.58 113.45h5.2l-2.6 4.6z"/><path d="M660.67 115.84h5.2l-2.6 4.6z"/><path d="M661.75 115.26h5.2l-2.6 4.6z"/><path d="M662.83 116.65h5.2l-2.6 4.6z"/><path d="M663.92 118.53h5.2l-2.6 4.6z"/><path d="M665 119.22h5.2l-2.6 4.6z"/><path d="M666.08 120.43h5.2l-2.6 4.6z"/><path d="M667.16 122.01h5.2l-2.6 4.6z"/><path d="M668.25 121.86h5.2l-2.6 4.6z"/><path d="M669.33 121.85h5.2l-2.6 4.6z"/><path d="M670.41 125.1h5.2l-2.6 4.6z"/><path d="M671.5 126.67h5.2l-2.6 4.6z"/><path d="M672.58 130.5h5.2l-2.6 4.6z"/></g><g fill="none" stroke="#F2B71E" stroke-width="0.8"><circle cx="416.32" cy="103.22" r="2.1"/><circle cx="417.45" cy="99.38" r="2.1"/><circle cx="418.58" cy="99.62" r="2.1"/><circle cx="419.71" cy="98.05" r="2.1"/><circle cx="420.84" cy="97.25" r="2.1"/><circle cx="421.97" cy="95.71" r="2.1"/><circle cx="423.1" cy="94.98" r="2.1"/><circle cx="424.23" cy="93.48" r="2.1"/><circle cx="425.36" cy="93.59" r="2.1"/><circle cx="426.49" cy="91.95" r="2.1"/><circle cx="427.62" cy="90.12" r="2.1"/><circle cx="428.75" cy="90.62" r="2.1"/><circle cx="429.88" cy="89.46" r="2.1"/><circle cx="431.01" cy="87.29" r="2.1"/><circle cx="432.15" cy="86.92" r="2.1"/><circle cx="433.28" cy="85.6" r="2.1"/><circle cx="434.41" cy="86.92" r="2.1"/><circle cx="435.54" cy="84.82" r="2.1"/><circle cx="436.67" cy="85.01" r="2.1"/><circle cx="437.8" cy="84.42" r="2.1"/><circle cx="438.93" cy="82.67" r="2.1"/><circle cx="440.06" cy="81.55" r="2.1"/><circle cx="441.19" cy="82.49" r="2.1"/><circle cx="442.32" cy="81.49" r="2.1"/><circle cx="443.45" cy="80.3" r="2.1"/><circle cx="444.58" cy="79.14" r="2.1"/><circle cx="445.71" cy="78.98" r="2.1"/><circle cx="446.84" cy="75.94" r="2.1"/><circle cx="447.97" cy="76.06" r="2.1"/><circle cx="449.1" cy="75.75" r="2.1"/><circle cx="450.23" cy="74.97" r="2.1"/><circle cx="451.36" cy="72.37" r="2.1"/><circle cx="452.49" cy="71.53" r="2.1"/><circle cx="453.62" cy="72.28" r="2.1"/><circle cx="454.75" cy="70.88" r="2.1"/><circle cx="455.88" cy="69.44" r="2.1"/><circle cx="457.01" cy="70.02" r="2.1"/><circle cx="458.14" cy="68.77" r="2.1"/><circle cx="459.27" cy="66.71" r="2.1"/><circle cx="460.41" cy="67.03" r="2.1"/><circle cx="461.54" cy="65.97" r="2.1"/><circle cx="462.67" cy="65.61" r="2.1"/><circle cx="463.8" cy="64.35" r="2.1"/><circle cx="464.93" cy="62.57" r="2.1"/><circle cx="466.06" cy="62.57" r="2.1"/><circle cx="467.19" cy="61.95" r="2.1"/><circle cx="468.32" cy="60.77" r="2.1"/><circle cx="469.45" cy="58.71" r="2.1"/><circle cx="470.58" cy="59.06" r="2.1"/><circle cx="471.71" cy="58.89" r="2.1"/><circle cx="472.84" cy="57.85" r="2.1"/><circle cx="473.97" cy="57.06" r="2.1"/><circle cx="475.1" cy="56.65" r="2.1"/><circle cx="476.23" cy="57.2" r="2.1"/><circle cx="477.36" cy="55.5" r="2.1"/><circle cx="478.49" cy="55.41" r="2.1"/><circle cx="479.62" cy="54.36" r="2.1"/><circle cx="480.75" cy="55.29" r="2.1"/><circle cx="481.88" cy="53.43" r="2.1"/><circle cx="483.01" cy="54.66" r="2.1"/><circle cx="484.14" cy="56.15" r="2.1"/><circle cx="485.27" cy="55.07" r="2.1"/><circle cx="486.4" cy="56.94" r="2.1"/><circle cx="487.53" cy="57.16" r="2.1"/><circle cx="488.67" cy="58.34" r="2.1"/><circle cx="489.8" cy="58.67" r="2.1"/><circle cx="490.93" cy="59.74" r="2.1"/><circle cx="492.06" cy="60.81" r="2.1"/><circle cx="493.19" cy="62.14" r="2.1"/><circle cx="494.32" cy="64.48" r="2.1"/><circle cx="495.45" cy="65.4" r="2.1"/><circle cx="496.58" cy="65.14" r="2.1"/><circle cx="497.71" cy="66.71" r="2.1"/><circle cx="498.84" cy="66.73" r="2.1"/><circle cx="499.97" cy="67.83" r="2.1"/><circle cx="501.1" cy="69.14" r="2.1"/><circle cx="502.23" cy="69.25" r="2.1"/><circle cx="503.36" cy="69.64" r="2.1"/><circle cx="504.49" cy="69.83" r="2.1"/><circle cx="505.62" cy="69.75" r="2.1"/><circle cx="506.75" cy="69.55" r="2.1"/><circle cx="507.88" cy="69.48" r="2.1"/><circle cx="509.01" cy="71.21" r="2.1"/><circle cx="510.14" cy="71.3" r="2.1"/><circle cx="511.27" cy="70.35" r="2.1"/><circle cx="512.4" cy="71.09" r="2.1"/><circle cx="513.53" cy="71.82" r="2.1"/><circle cx="514.66" cy="73.72" r="2.1"/><circle cx="515.79" cy="73.24" r="2.1"/><circle cx="516.92" cy="72.87" r="2.1"/><circle cx="518.06" cy="73.52" r="2.1"/><circle cx="519.19" cy="72.12" r="2.1"/><circle cx="520.32" cy="73.44" r="2.1"/><circle cx="521.45" cy="73.49" r="2.1"/><circle cx="522.58" cy="74.49" r="2.1"/><circle cx="523.71" cy="74.62" r="2.1"/><circle cx="524.84" cy="74.56" r="2.1"/><circle cx="525.97" cy="74.7" r="2.1"/><circle cx="527.1" cy="74.62" r="2.1"/><circle cx="528.23" cy="74.42" r="2.1"/><circle cx="529.36" cy="74.67" r="2.1"/><circle cx="530.49" cy="74.37" r="2.1"/><circle cx="531.62" cy="75.96" r="2.1"/><circle cx="532.75" cy="75.18" r="2.1"/><circle cx="533.88" cy="75.32" r="2.1"/><circle cx="535.01" cy="74.64" r="2.1"/><circle cx="536.14" cy="75.81" r="2.1"/><circle cx="537.27" cy="75.55" r="2.1"/><circle cx="538.4" cy="76.32" r="2.1"/><circle cx="539.53" cy="75.65" r="2.1"/><circle cx="540.66" cy="75.74" r="2.1"/><circle cx="541.79" cy="76.44" r="2.1"/><circle cx="542.92" cy="76.4" r="2.1"/><circle cx="544.05" cy="76.23" r="2.1"/><circle cx="545.18" cy="75.94" r="2.1"/><circle cx="546.32" cy="77.08" r="2.1"/><circle cx="547.45" cy="75.95" r="2.1"/><circle cx="548.58" cy="76.74" r="2.1"/><circle cx="549.71" cy="75.18" r="2.1"/><circle cx="550.84" cy="75.24" r="2.1"/><circle cx="551.97" cy="76.16" r="2.1"/><circle cx="553.1" cy="76.09" r="2.1"/><circle cx="554.23" cy="74.01" r="2.1"/><circle cx="555.36" cy="74.91" r="2.1"/><circle cx="556.49" cy="74.74" r="2.1"/><circle cx="557.62" cy="75.14" r="2.1"/><circle cx="558.75" cy="74.75" r="2.1"/><circle cx="559.88" cy="73.98" r="2.1"/><circle cx="561.01" cy="73.93" r="2.1"/><circle cx="562.14" cy="74.66" r="2.1"/><circle cx="563.27" cy="73.27" r="2.1"/><circle cx="564.4" cy="73.69" r="2.1"/><circle cx="565.53" cy="74.32" r="2.1"/><circle cx="566.66" cy="72.99" r="2.1"/><circle cx="567.79" cy="73.56" r="2.1"/><circle cx="568.92" cy="72.84" r="2.1"/><circle cx="570.05" cy="73.51" r="2.1"/><circle cx="571.18" cy="72.82" r="2.1"/><circle cx="572.31" cy="73.88" r="2.1"/><circle cx="573.44" cy="72.53" r="2.1"/><circle cx="574.58" cy="73.54" r="2.1"/><circle cx="575.71" cy="72.37" r="2.1"/><circle cx="576.84" cy="73.87" r="2.1"/><circle cx="577.97" cy="72.23" r="2.1"/><circle cx="579.1" cy="71.63" r="2.1"/><circle cx="580.23" cy="71.64" r="2.1"/><circle cx="581.36" cy="71.08" r="2.1"/><circle cx="582.49" cy="72.32" r="2.1"/><circle cx="583.62" cy="70.59" r="2.1"/><circle cx="584.75" cy="70.44" r="2.1"/><circle cx="585.88" cy="72.01" r="2.1"/><circle cx="587.01" cy="71.12" r="2.1"/><circle cx="588.14" cy="70.22" r="2.1"/><circle cx="589.27" cy="69.1" r="2.1"/><circle cx="590.4" cy="68.19" r="2.1"/><circle cx="591.53" cy="69.01" r="2.1"/><circle cx="592.66" cy="66.37" r="2.1"/><circle cx="593.79" cy="66.1" r="2.1"/><circle cx="594.92" cy="65.73" r="2.1"/><circle cx="596.05" cy="63.62" r="2.1"/><circle cx="597.18" cy="63.47" r="2.1"/><circle cx="598.31" cy="61.65" r="2.1"/><circle cx="599.44" cy="61.09" r="2.1"/><circle cx="600.57" cy="60.68" r="2.1"/><circle cx="601.7" cy="58.85" r="2.1"/><circle cx="602.83" cy="58.14" r="2.1"/><circle cx="603.97" cy="58.3" r="2.1"/><circle cx="605.1" cy="58.46" r="2.1"/><circle cx="606.23" cy="57.31" r="2.1"/><circle cx="607.36" cy="56.1" r="2.1"/><circle cx="608.49" cy="56.11" r="2.1"/><circle cx="609.62" cy="54.39" r="2.1"/><circle cx="610.75" cy="54.79" r="2.1"/><circle cx="611.88" cy="54.32" r="2.1"/><circle cx="613.01" cy="54.62" r="2.1"/><circle cx="614.14" cy="55.95" r="2.1"/><circle cx="615.27" cy="56.03" r="2.1"/><circle cx="616.4" cy="56.9" r="2.1"/><circle cx="617.53" cy="58.46" r="2.1"/><circle cx="618.66" cy="58.66" r="2.1"/><circle cx="619.79" cy="57.68" r="2.1"/><circle cx="620.92" cy="59" r="2.1"/><circle cx="622.05" cy="59.54" r="2.1"/><circle cx="623.18" cy="61.1" r="2.1"/><circle cx="624.31" cy="61.32" r="2.1"/><circle cx="625.44" cy="61.28" r="2.1"/><circle cx="626.57" cy="62.49" r="2.1"/><circle cx="627.7" cy="63.65" r="2.1"/><circle cx="628.83" cy="63.2" r="2.1"/><circle cx="629.96" cy="65.04" r="2.1"/><circle cx="631.09" cy="66.13" r="2.1"/><circle cx="632.23" cy="66.14" r="2.1"/><circle cx="633.36" cy="68.8" r="2.1"/><circle cx="634.49" cy="68.33" r="2.1"/><circle cx="635.62" cy="70.25" r="2.1"/><circle cx="636.75" cy="70.97" r="2.1"/><circle cx="637.88" cy="71.8" r="2.1"/><circle cx="639.01" cy="72.12" r="2.1"/><circle cx="640.14" cy="72.94" r="2.1"/><circle cx="641.27" cy="73.63" r="2.1"/><circle cx="642.4" cy="74.5" r="2.1"/><circle cx="643.53" cy="74.58" r="2.1"/><circle cx="644.66" cy="75.22" r="2.1"/><circle cx="645.79" cy="76.62" r="2.1"/><circle cx="646.92" cy="77.39" r="2.1"/><circle cx="648.05" cy="78.87" r="2.1"/><circle cx="649.18" cy="80.1" r="2.1"/><circle cx="650.31" cy="79.86" r="2.1"/><circle cx="651.44" cy="80.99" r="2.1"/><circle cx="652.57" cy="81.28" r="2.1"/><circle cx="653.7" cy="83.7" r="2.1"/><circle cx="654.83" cy="81.76" r="2.1"/><circle cx="655.96" cy="84.94" r="2.1"/><circle cx="657.09" cy="84.94" r="2.1"/><circle cx="658.22" cy="85.15" r="2.1"/><circle cx="659.35" cy="87.37" r="2.1"/><circle cx="660.49" cy="87.66" r="2.1"/><circle cx="661.62" cy="89.42" r="2.1"/><circle cx="662.75" cy="90.33" r="2.1"/><circle cx="663.88" cy="91.89" r="2.1"/><circle cx="665.01" cy="91.92" r="2.1"/><circle cx="666.14" cy="93.06" r="2.1"/><circle cx="667.27" cy="94.69" r="2.1"/><circle cx="668.4" cy="94.99" r="2.1"/><circle cx="669.53" cy="96.18" r="2.1"/><circle cx="670.66" cy="98.21" r="2.1"/><circle cx="671.79" cy="99.12" r="2.1"/><circle cx="672.92" cy="99.92" r="2.1"/><circle cx="674.05" cy="100.8" r="2.1"/><circle cx="675.18" cy="100.51" r="2.1"/></g></g><g><g fill="#006FC4"><circle cx="83.9" cy="329.95" r="2.8"/><circle cx="84.23" cy="330.06" r="2.8"/><circle cx="84.55" cy="330" r="2.8"/><circle cx="84.88" cy="329.78" r="2.8"/><circle cx="85.2" cy="329.98" r="2.8"/><circle cx="85.53" cy="329.78" r="2.8"/><circle cx="85.85" cy="329.83" r="2.8"/><circle cx="86.18" cy="329.47" r="2.8"/><circle cx="86.5" cy="329.48" r="2.8"/><circle cx="86.83" cy="330.08" r="2.8"/><circle cx="87.16" cy="329.74" r="2.8"/><circle cx="87.48" cy="329.5" r="2.8"/><circle cx="87.81" cy="329.75" r="2.8"/><circle cx="88.13" cy="329.42" r="2.8"/><circle cx="88.46" cy="329.5" r="2.8"/><circle cx="88.78" cy="329.41" r="2.8"/><circle cx="89.11" cy="329.54" r="2.8"/><circle cx="89.43" cy="329.42" r="2.8"/><circle cx="89.76" cy="329.34" r="2.8"/><circle cx="90.09" cy="329.79" r="2.8"/><circle cx="90.41" cy="329.63" r="2.8"/><circle cx="90.74" cy="329.62" r="2.8"/><circle cx="91.06" cy="328.93" r="2.8"/><circle cx="91.39" cy="329.24" r="2.8"/><circle cx="91.71" cy="329.19" r="2.8"/><circle cx="92.04" cy="329.21" r="2.8"/><circle cx="92.36" cy="329.35" r="2.8"/><circle cx="92.69" cy="329.37" r="2.8"/><circle cx="93.01" cy="328.95" r="2.8"/><circle cx="93.34" cy="329.22" r="2.8"/><circle cx="93.67" cy="328.72" r="2.8"/><circle cx="93.99" cy="329.02" r="2.8"/><circle cx="94.32" cy="329.02" r="2.8"/><circle cx="94.64" cy="329.06" r="2.8"/><circle cx="94.97" cy="329" r="2.8"/><circle cx="95.29" cy="328.94" r="2.8"/><circle cx="95.62" cy="328.55" r="2.8"/><circle cx="95.94" cy="328.32" r="2.8"/><circle cx="96.27" cy="329.14" r="2.8"/><circle cx="96.6" cy="328.77" r="2.8"/><circle cx="96.92" cy="328.63" r="2.8"/><circle cx="97.25" cy="329" r="2.8"/><circle cx="97.57" cy="328.92" r="2.8"/><circle cx="97.9" cy="328.86" r="2.8"/><circle cx="98.22" cy="329.32" r="2.8"/><circle cx="98.55" cy="328.56" r="2.8"/><circle cx="98.87" cy="328.72" r="2.8"/><circle cx="99.2" cy="328.71" r="2.8"/><circle cx="99.53" cy="328.66" r="2.8"/><circle cx="99.85" cy="328.6" r="2.8"/><circle cx="100.18" cy="328.08" r="2.8"/><circle cx="100.5" cy="328.59" r="2.8"/><circle cx="100.83" cy="328.41" r="2.8"/><circle cx="101.15" cy="328.73" r="2.8"/><circle cx="101.48" cy="328.5" r="2.8"/><circle cx="101.8" cy="328.65" r="2.8"/><circle cx="102.13" cy="328.59" r="2.8"/><circle cx="102.46" cy="328.76" r="2.8"/><circle cx="102.78" cy="328.72" r="2.8"/><circle cx="103.11" cy="328.4" r="2.8"/><circle cx="103.43" cy="328.31" r="2.8"/><circle cx="103.76" cy="328.37" r="2.8"/><circle cx="104.08" cy="328.63" r="2.8"/><circle cx="104.41" cy="328.37" r="2.8"/><circle cx="104.73" cy="329.05" r="2.8"/><circle cx="105.06" cy="328.19" r="2.8"/><circle cx="105.39" cy="328.41" r="2.8"/><circle cx="105.71" cy="328.32" r="2.8"/><circle cx="106.04" cy="328.09" r="2.8"/><circle cx="106.36" cy="328.46" r="2.8"/><circle cx="106.69" cy="328.11" r="2.8"/><circle cx="107.01" cy="328.43" r="2.8"/><circle cx="107.34" cy="328.18" r="2.8"/><circle cx="107.66" cy="328.39" r="2.8"/><circle cx="107.99" cy="328.21" r="2.8"/><circle cx="108.31" cy="327.91" r="2.8"/><circle cx="108.64" cy="328.41" r="2.8"/><circle cx="108.97" cy="328.38" r="2.8"/><circle cx="109.29" cy="328.3" r="2.8"/><circle cx="109.62" cy="328.13" r="2.8"/><circle cx="109.94" cy="327.52" r="2.8"/><circle cx="110.27" cy="328.31" r="2.8"/><circle cx="110.59" cy="328.65" r="2.8"/><circle cx="110.92" cy="328.3" r="2.8"/><circle cx="111.24" cy="328.51" r="2.8"/><circle cx="111.57" cy="328.25" r="2.8"/><circle cx="111.9" cy="328.09" r="2.8"/><circle cx="112.22" cy="328.31" r="2.8"/><circle cx="112.55" cy="328.23" r="2.8"/><circle cx="112.87" cy="328.5" r="2.8"/><circle cx="113.2" cy="327.99" r="2.8"/><circle cx="113.52" cy="328.2" r="2.8"/><circle cx="113.85" cy="327.74" r="2.8"/><circle cx="114.17" cy="327.74" r="2.8"/><circle cx="114.5" cy="328.19" r="2.8"/><circle cx="114.83" cy="328.05" r="2.8"/><circle cx="115.15" cy="327.93" r="2.8"/><circle cx="115.48" cy="327.75" r="2.8"/><circle cx="115.8" cy="328.32" r="2.8"/><circle cx="116.13" cy="327.92" r="2.8"/><circle cx="116.45" cy="327.43" r="2.8"/><circle cx="116.78" cy="327.89" r="2.8"/><circle cx="117.1" cy="327.8" r="2.8"/><circle cx="117.43" cy="327.84" r="2.8"/><circle cx="117.76" cy="328.11" r="2.8"/><circle cx="118.08" cy="327.58" r="2.8"/><circle cx="118.41" cy="327.73" r="2.8"/><circle cx="118.73" cy="327.74" r="2.8"/><circle cx="119.06" cy="327.59" r="2.8"/><circle cx="119.38" cy="327.56" r="2.8"/><circle cx="119.71" cy="328.19" r="2.8"/><circle cx="120.03" cy="327.6" r="2.8"/><circle cx="120.36" cy="327.84" r="2.8"/><circle cx="120.69" cy="327.65" r="2.8"/><circle cx="121.01" cy="327.84" r="2.8"/><circle cx="121.34" cy="327.86" r="2.8"/><circle cx="121.66" cy="327.41" r="2.8"/><circle cx="121.99" cy="327.63" r="2.8"/><circle cx="122.31" cy="327.68" r="2.8"/><circle cx="122.64" cy="327.66" r="2.8"/><circle cx="122.96" cy="327.56" r="2.8"/><circle cx="123.29" cy="327.58" r="2.8"/><circle cx="123.61" cy="328.15" r="2.8"/><circle cx="123.94" cy="327.79" r="2.8"/><circle cx="124.27" cy="327.64" r="2.8"/><circle cx="124.59" cy="327.4" r="2.8"/><circle cx="124.92" cy="327.25" r="2.8"/><circle cx="125.24" cy="327.8" r="2.8"/><circle cx="125.57" cy="327.11" r="2.8"/><circle cx="125.89" cy="327.55" r="2.8"/><circle cx="126.22" cy="327.46" r="2.8"/><circle cx="126.54" cy="327.71" r="2.8"/><circle cx="126.87" cy="327.72" r="2.8"/><circle cx="127.2" cy="327.23" r="2.8"/><circle cx="127.52" cy="327.63" r="2.8"/><circle cx="127.85" cy="327.6" r="2.8"/><circle cx="128.17" cy="327.29" r="2.8"/><circle cx="128.5" cy="327.16" r="2.8"/><circle cx="128.82" cy="327.94" r="2.8"/><circle cx="129.15" cy="327.62" r="2.8"/><circle cx="129.47" cy="327.58" r="2.8"/><circle cx="129.8" cy="327.13" r="2.8"/><circle cx="130.13" cy="326.98" r="2.8"/><circle cx="130.45" cy="327.58" r="2.8"/><circle cx="130.78" cy="327.48" r="2.8"/><circle cx="131.1" cy="327.36" r="2.8"/><circle cx="131.43" cy="327.29" r="2.8"/><circle cx="131.75" cy="327.65" r="2.8"/><circle cx="132.08" cy="327.36" r="2.8"/><circle cx="132.4" cy="327.74" r="2.8"/><circle cx="132.73" cy="328.22" r="2.8"/><circle cx="133.06" cy="327.9" r="2.8"/><circle cx="133.38" cy="327.52" r="2.8"/><circle cx="133.71" cy="327.38" r="2.8"/><circle cx="134.03" cy="328.12" r="2.8"/><circle cx="134.36" cy="328.01" r="2.8"/><circle cx="134.68" cy="327.58" r="2.8"/><circle cx="135.01" cy="328.39" r="2.8"/><circle cx="135.33" cy="327.43" r="2.8"/><circle cx="135.66" cy="327.32" r="2.8"/><circle cx="135.99" cy="328.29" r="2.8"/><circle cx="136.31" cy="327.38" r="2.8"/><circle cx="136.64" cy="327.61" r="2.8"/><circle cx="136.96" cy="327.22" r="2.8"/><circle cx="137.29" cy="327.5" r="2.8"/><circle cx="137.61" cy="327.62" r="2.8"/><circle cx="137.94" cy="327.53" r="2.8"/><circle cx="138.26" cy="327.33" r="2.8"/><circle cx="138.59" cy="327.52" r="2.8"/><circle cx="138.91" cy="327.55" r="2.8"/><circle cx="139.24" cy="327.91" r="2.8"/><circle cx="139.57" cy="327.44" r="2.8"/><circle cx="139.89" cy="327.55" r="2.8"/><circle cx="140.22" cy="327.11" r="2.8"/><circle cx="140.54" cy="327.56" r="2.8"/><circle cx="140.87" cy="327.58" r="2.8"/><circle cx="141.19" cy="327.71" r="2.8"/><circle cx="141.52" cy="327.38" r="2.8"/><circle cx="141.84" cy="327.61" r="2.8"/><circle cx="142.17" cy="327.73" r="2.8"/><circle cx="142.5" cy="327.17" r="2.8"/><circle cx="142.82" cy="327.13" r="2.8"/><circle cx="143.15" cy="327.67" r="2.8"/><circle cx="143.47" cy="327.81" r="2.8"/><circle cx="143.8" cy="327.28" r="2.8"/><circle cx="144.12" cy="327.76" r="2.8"/><circle cx="144.45" cy="326.87" r="2.8"/><circle cx="144.77" cy="327.59" r="2.8"/><circle cx="145.1" cy="327.32" r="2.8"/><circle cx="145.43" cy="327.87" r="2.8"/><circle cx="145.75" cy="327.57" r="2.8"/><circle cx="146.08" cy="327.29" r="2.8"/><circle cx="146.4" cy="327.45" r="2.8"/><circle cx="146.73" cy="327.69" r="2.8"/><circle cx="147.05" cy="326.96" r="2.8"/><circle cx="147.38" cy="327.38" r="2.8"/><circle cx="147.7" cy="327.61" r="2.8"/><circle cx="148.03" cy="327.7" r="2.8"/><circle cx="148.36" cy="327.62" r="2.8"/><circle cx="148.68" cy="327.23" r="2.8"/><circle cx="149.01" cy="327.74" r="2.8"/><circle cx="149.33" cy="327.55" r="2.8"/><circle cx="149.66" cy="327.75" r="2.8"/><circle cx="149.98" cy="327.25" r="2.8"/><circle cx="150.31" cy="327.59" r="2.8"/><circle cx="150.63" cy="327.35" r="2.8"/><circle cx="150.96" cy="327.42" r="2.8"/><circle cx="151.29" cy="327.7" r="2.8"/><circle cx="151.61" cy="327.39" r="2.8"/><circle cx="151.94" cy="327.33" r="2.8"/><circle cx="152.26" cy="327.83" r="2.8"/><circle cx="152.59" cy="327.38" r="2.8"/><circle cx="152.91" cy="326.69" r="2.8"/><circle cx="153.24" cy="327.63" r="2.8"/><circle cx="153.56" cy="327.4" r="2.8"/><circle cx="153.89" cy="327.88" r="2.8"/><circle cx="154.21" cy="327.44" r="2.8"/><circle cx="154.54" cy="327.7" r="2.8"/><circle cx="154.87" cy="327.37" r="2.8"/><circle cx="155.19" cy="327.57" r="2.8"/><circle cx="155.52" cy="327.84" r="2.8"/><circle cx="155.84" cy="327.29" r="2.8"/><circle cx="156.17" cy="327.61" r="2.8"/><circle cx="156.49" cy="327.8" r="2.8"/><circle cx="156.82" cy="327.54" r="2.8"/><circle cx="157.14" cy="327.79" r="2.8"/><circle cx="157.47" cy="327.46" r="2.8"/><circle cx="157.8" cy="327.57" r="2.8"/><circle cx="158.12" cy="327.65" r="2.8"/><circle cx="158.45" cy="327.39" r="2.8"/><circle cx="158.77" cy="327.87" r="2.8"/><circle cx="159.1" cy="327.32" r="2.8"/><circle cx="159.42" cy="328.04" r="2.8"/><circle cx="159.75" cy="327.16" r="2.8"/><circle cx="160.07" cy="327.51" r="2.8"/><circle cx="160.4" cy="327.62" r="2.8"/><circle cx="160.73" cy="327.73" r="2.8"/><circle cx="161.05" cy="327.42" r="2.8"/><circle cx="161.38" cy="327.59" r="2.8"/><circle cx="161.7" cy="327.6" r="2.8"/><circle cx="162.03" cy="327.3" r="2.8"/><circle cx="162.35" cy="327.66" r="2.8"/><circle cx="162.68" cy="327.61" r="2.8"/><circle cx="163" cy="327.45" r="2.8"/><circle cx="163.33" cy="327.29" r="2.8"/><circle cx="163.66" cy="327.59" r="2.8"/><circle cx="163.98" cy="327.52" r="2.8"/><circle cx="164.31" cy="327.54" r="2.8"/><circle cx="164.63" cy="327.37" r="2.8"/><circle cx="164.96" cy="327.19" r="2.8"/><circle cx="165.28" cy="327.78" r="2.8"/><circle cx="165.61" cy="327.59" r="2.8"/><circle cx="165.93" cy="327.57" r="2.8"/><circle cx="166.26" cy="327.41" r="2.8"/><circle cx="166.59" cy="327.19" r="2.8"/><circle cx="166.91" cy="327.56" r="2.8"/><circle cx="167.24" cy="327.5" r="2.8"/><circle cx="167.56" cy="327.28" r="2.8"/><circle cx="167.89" cy="327.86" r="2.8"/><circle cx="168.21" cy="327.74" r="2.8"/><circle cx="168.54" cy="327.67" r="2.8"/><circle cx="168.86" cy="327.56" r="2.8"/><circle cx="169.19" cy="327.5" r="2.8"/><circle cx="169.51" cy="327.68" r="2.8"/><circle cx="169.84" cy="327.13" r="2.8"/><circle cx="170.17" cy="327.73" r="2.8"/><circle cx="170.49" cy="327.6" r="2.8"/><circle cx="170.82" cy="327.29" r="2.8"/><circle cx="171.14" cy="327.37" r="2.8"/><circle cx="171.47" cy="327.56" r="2.8"/><circle cx="171.79" cy="327.46" r="2.8"/><circle cx="172.12" cy="327.36" r="2.8"/><circle cx="172.44" cy="327.56" r="2.8"/><circle cx="172.77" cy="327.4" r="2.8"/><circle cx="173.1" cy="327.78" r="2.8"/><circle cx="173.42" cy="327.54" r="2.8"/><circle cx="173.75" cy="327.96" r="2.8"/><circle cx="174.07" cy="327.78" r="2.8"/><circle cx="174.4" cy="327.84" r="2.8"/><circle cx="174.72" cy="327.25" r="2.8"/><circle cx="175.05" cy="327.67" r="2.8"/><circle cx="175.37" cy="327.49" r="2.8"/><circle cx="175.7" cy="327.78" r="2.8"/><circle cx="176.03" cy="327.61" r="2.8"/><circle cx="176.35" cy="327.63" r="2.8"/><circle cx="176.68" cy="327.77" r="2.8"/><circle cx="177" cy="327.35" r="2.8"/><circle cx="177.33" cy="327.97" r="2.8"/><circle cx="177.65" cy="327.41" r="2.8"/><circle cx="177.98" cy="326.91" r="2.8"/><circle cx="178.3" cy="327.76" r="2.8"/><circle cx="178.63" cy="327.55" r="2.8"/><circle cx="178.96" cy="327.94" r="2.8"/><circle cx="179.28" cy="327.57" r="2.8"/><circle cx="179.61" cy="327.99" r="2.8"/><circle cx="179.93" cy="327.41" r="2.8"/><circle cx="180.26" cy="327.69" r="2.8"/><circle cx="180.58" cy="328.02" r="2.8"/><circle cx="180.91" cy="327.88" r="2.8"/><circle cx="181.23" cy="327.96" r="2.8"/><circle cx="181.56" cy="327.64" r="2.8"/><circle cx="181.89" cy="327.36" r="2.8"/><circle cx="182.21" cy="327.67" r="2.8"/><circle cx="182.54" cy="327.86" r="2.8"/><circle cx="182.86" cy="327.78" r="2.8"/><circle cx="183.19" cy="327.54" r="2.8"/><circle cx="183.51" cy="328.17" r="2.8"/><circle cx="183.84" cy="327.43" r="2.8"/><circle cx="184.16" cy="327.47" r="2.8"/><circle cx="184.49" cy="328.18" r="2.8"/><circle cx="184.81" cy="327.29" r="2.8"/><circle cx="185.14" cy="327.98" r="2.8"/><circle cx="185.47" cy="327.63" r="2.8"/><circle cx="185.79" cy="327.29" r="2.8"/><circle cx="186.12" cy="327.98" r="2.8"/><circle cx="186.44" cy="328.03" r="2.8"/><circle cx="186.77" cy="327.86" r="2.8"/><circle cx="187.09" cy="327.85" r="2.8"/><circle cx="187.42" cy="327.62" r="2.8"/><circle cx="187.74" cy="327.71" r="2.8"/><circle cx="188.07" cy="327.7" r="2.8"/><circle cx="188.4" cy="327.7" r="2.8"/><circle cx="188.72" cy="327.63" r="2.8"/><circle cx="189.05" cy="327.79" r="2.8"/><circle cx="189.37" cy="327.5" r="2.8"/><circle cx="189.7" cy="327.58" r="2.8"/><circle cx="190.02" cy="327.83" r="2.8"/><circle cx="190.35" cy="327.13" r="2.8"/><circle cx="190.67" cy="327.9" r="2.8"/><circle cx="191" cy="327.4" r="2.8"/><circle cx="191.33" cy="327.77" r="2.8"/><circle cx="191.65" cy="327.49" r="2.8"/><circle cx="191.98" cy="327.45" r="2.8"/><circle cx="192.3" cy="327.37" r="2.8"/><circle cx="192.63" cy="327.23" r="2.8"/><circle cx="192.95" cy="327.79" r="2.8"/><circle cx="193.28" cy="326.88" r="2.8"/><circle cx="193.6" cy="327.48" r="2.8"/><circle cx="193.93" cy="327.78" r="2.8"/><circle cx="194.26" cy="327.91" r="2.8"/><circle cx="194.58" cy="327" r="2.8"/><circle cx="194.91" cy="327.17" r="2.8"/><circle cx="195.23" cy="327.58" r="2.8"/><circle cx="195.56" cy="327.39" r="2.8"/><circle cx="195.88" cy="327.25" r="2.8"/><circle cx="196.21" cy="327.55" r="2.8"/><circle cx="196.53" cy="327.68" r="2.8"/><circle cx="196.86" cy="327.58" r="2.8"/><circle cx="197.19" cy="327.37" r="2.8"/><circle cx="197.51" cy="327.57" r="2.8"/><circle cx="197.84" cy="327.88" r="2.8"/><circle cx="198.16" cy="327.39" r="2.8"/><circle cx="198.49" cy="328" r="2.8"/><circle cx="198.81" cy="327.76" r="2.8"/><circle cx="199.14" cy="327.27" r="2.8"/><circle cx="199.46" cy="327.52" r="2.8"/><circle cx="199.79" cy="327.52" r="2.8"/><circle cx="200.11" cy="327.55" r="2.8"/><circle cx="200.44" cy="327.32" r="2.8"/><circle cx="200.77" cy="327.59" r="2.8"/><circle cx="201.09" cy="328.06" r="2.8"/><circle cx="201.42" cy="327.51" r="2.8"/><circle cx="201.74" cy="328.33" r="2.8"/><circle cx="202.07" cy="328.08" r="2.8"/><circle cx="202.39" cy="327.18" r="2.8"/><circle cx="202.72" cy="327.32" r="2.8"/><circle cx="203.04" cy="327.69" r="2.8"/><circle cx="203.37" cy="327.59" r="2.8"/><circle cx="203.7" cy="327.55" r="2.8"/><circle cx="204.02" cy="327.33" r="2.8"/><circle cx="204.35" cy="327.77" r="2.8"/><circle cx="204.67" cy="327.79" r="2.8"/><circle cx="205" cy="327.73" r="2.8"/><circle cx="205.32" cy="327.54" r="2.8"/><circle cx="205.65" cy="327.51" r="2.8"/><circle cx="205.97" cy="327.67" r="2.8"/><circle cx="206.3" cy="327.39" r="2.8"/><circle cx="206.63" cy="327.83" r="2.8"/><circle cx="206.95" cy="327.59" r="2.8"/><circle cx="207.28" cy="327.75" r="2.8"/><circle cx="207.6" cy="327.82" r="2.8"/><circle cx="207.93" cy="327.27" r="2.8"/><circle cx="208.25" cy="327.65" r="2.8"/><circle cx="208.58" cy="327.82" r="2.8"/><circle cx="208.9" cy="327.57" r="2.8"/><circle cx="209.23" cy="327.82" r="2.8"/><circle cx="209.56" cy="327.43" r="2.8"/><circle cx="209.88" cy="327.37" r="2.8"/><circle cx="210.21" cy="327.32" r="2.8"/><circle cx="210.53" cy="327.84" r="2.8"/><circle cx="210.86" cy="327.61" r="2.8"/><circle cx="211.18" cy="327.12" r="2.8"/><circle cx="211.51" cy="327.63" r="2.8"/><circle cx="211.83" cy="327.26" r="2.8"/><circle cx="212.16" cy="327.2" r="2.8"/><circle cx="212.49" cy="327.92" r="2.8"/><circle cx="212.81" cy="327.28" r="2.8"/><circle cx="213.14" cy="327.39" r="2.8"/><circle cx="213.46" cy="327.36" r="2.8"/><circle cx="213.79" cy="327.16" r="2.8"/><circle cx="214.11" cy="327.46" r="2.8"/><circle cx="214.44" cy="327.55" r="2.8"/><circle cx="214.76" cy="327.42" r="2.8"/><circle cx="215.09" cy="327.66" r="2.8"/><circle cx="215.41" cy="327.45" r="2.8"/><circle cx="215.74" cy="328.07" r="2.8"/><circle cx="216.07" cy="327.14" r="2.8"/><circle cx="216.39" cy="327.7" r="2.8"/><circle cx="216.72" cy="327.44" r="2.8"/><circle cx="217.04" cy="327.49" r="2.8"/><circle cx="217.37" cy="327.54" r="2.8"/><circle cx="217.69" cy="327.54" r="2.8"/><circle cx="218.02" cy="327.55" r="2.8"/><circle cx="218.34" cy="327.97" r="2.8"/><circle cx="218.67" cy="327.7" r="2.8"/><circle cx="219" cy="327.27" r="2.8"/><circle cx="219.32" cy="327.82" r="2.8"/><circle cx="219.65" cy="327.82" r="2.8"/><circle cx="219.97" cy="327.04" r="2.8"/><circle cx="220.3" cy="327.26" r="2.8"/><circle cx="220.62" cy="327.18" r="2.8"/><circle cx="220.95" cy="327.56" r="2.8"/><circle cx="221.27" cy="327.49" r="2.8"/><circle cx="221.6" cy="327.37" r="2.8"/><circle cx="221.93" cy="327.42" r="2.8"/><circle cx="222.25" cy="327.58" r="2.8"/><circle cx="222.58" cy="327.92" r="2.8"/><circle cx="222.9" cy="327.74" r="2.8"/><circle cx="223.23" cy="327.93" r="2.8"/><circle cx="223.55" cy="327.17" r="2.8"/><circle cx="223.88" cy="327.66" r="2.8"/><circle cx="224.2" cy="327.6" r="2.8"/><circle cx="224.53" cy="327.49" r="2.8"/><circle cx="224.86" cy="327.55" r="2.8"/><circle cx="225.18" cy="327.43" r="2.8"/><circle cx="225.51" cy="327.71" r="2.8"/><circle cx="225.83" cy="327.93" r="2.8"/><circle cx="226.16" cy="327.12" r="2.8"/><circle cx="226.48" cy="327.73" r="2.8"/><circle cx="226.81" cy="327.67" r="2.8"/><circle cx="227.13" cy="327.75" r="2.8"/><circle cx="227.46" cy="327.69" r="2.8"/><circle cx="227.79" cy="327.55" r="2.8"/><circle cx="228.11" cy="327.37" r="2.8"/><circle cx="228.44" cy="327.81" r="2.8"/><circle cx="228.76" cy="327.48" r="2.8"/><circle cx="229.09" cy="327.72" r="2.8"/><circle cx="229.41" cy="327.26" r="2.8"/><circle cx="229.74" cy="327.86" r="2.8"/><circle cx="230.06" cy="327.53" r="2.8"/><circle cx="230.39" cy="327.38" r="2.8"/><circle cx="230.71" cy="327.89" r="2.8"/><circle cx="231.04" cy="327.52" r="2.8"/><circle cx="231.37" cy="327.51" r="2.8"/><circle cx="231.69" cy="327.75" r="2.8"/><circle cx="232.02" cy="327.6" r="2.8"/><circle cx="232.34" cy="327.31" r="2.8"/><circle cx="232.67" cy="327.49" r="2.8"/><circle cx="232.99" cy="327.65" r="2.8"/><circle cx="233.32" cy="327.6" r="2.8"/><circle cx="233.64" cy="327.44" r="2.8"/><circle cx="233.97" cy="327.24" r="2.8"/><circle cx="234.3" cy="327.35" r="2.8"/><circle cx="234.62" cy="327.37" r="2.8"/><circle cx="234.95" cy="327.16" r="2.8"/><circle cx="235.27" cy="327.92" r="2.8"/><circle cx="235.6" cy="327.9" r="2.8"/><circle cx="235.92" cy="328.1" r="2.8"/><circle cx="236.25" cy="327.34" r="2.8"/><circle cx="236.57" cy="328.1" r="2.8"/><circle cx="236.9" cy="327.55" r="2.8"/><circle cx="237.23" cy="327.36" r="2.8"/><circle cx="237.55" cy="327.88" r="2.8"/><circle cx="237.88" cy="327.7" r="2.8"/><circle cx="238.2" cy="327.61" r="2.8"/><circle cx="238.53" cy="327.36" r="2.8"/><circle cx="238.85" cy="327.91" r="2.8"/><circle cx="239.18" cy="327.46" r="2.8"/><circle cx="239.5" cy="327.37" r="2.8"/><circle cx="239.83" cy="327.51" r="2.8"/><circle cx="240.16" cy="327.5" r="2.8"/><circle cx="240.48" cy="327.23" r="2.8"/><circle cx="240.81" cy="327.48" r="2.8"/><circle cx="241.13" cy="327.54" r="2.8"/><circle cx="241.46" cy="327.62" r="2.8"/><circle cx="241.78" cy="327.38" r="2.8"/><circle cx="242.11" cy="327.61" r="2.8"/><circle cx="242.43" cy="327.38" r="2.8"/><circle cx="242.76" cy="327.51" r="2.8"/><circle cx="243.09" cy="327.26" r="2.8"/><circle cx="243.41" cy="327.73" r="2.8"/><circle cx="243.74" cy="327.52" r="2.8"/><circle cx="244.06" cy="327.45" r="2.8"/><circle cx="244.39" cy="327.43" r="2.8"/><circle cx="244.71" cy="327.26" r="2.8"/><circle cx="245.04" cy="327.44" r="2.8"/><circle cx="245.36" cy="327.31" r="2.8"/><circle cx="245.69" cy="327.05" r="2.8"/><circle cx="246.01" cy="327.32" r="2.8"/><circle cx="246.34" cy="327.79" r="2.8"/><circle cx="246.67" cy="327.87" r="2.8"/><circle cx="246.99" cy="327.37" r="2.8"/><circle cx="247.32" cy="327.62" r="2.8"/><circle cx="247.64" cy="327.46" r="2.8"/><circle cx="247.97" cy="327.57" r="2.8"/><circle cx="248.29" cy="327.21" r="2.8"/><circle cx="248.62" cy="327.23" r="2.8"/><circle cx="248.94" cy="327.8" r="2.8"/><circle cx="249.27" cy="327.46" r="2.8"/><circle cx="249.6" cy="327.6" r="2.8"/><circle cx="249.92" cy="327.84" r="2.8"/><circle cx="250.25" cy="327.36" r="2.8"/><circle cx="250.57" cy="327.56" r="2.8"/><circle cx="250.9" cy="327.41" r="2.8"/><circle cx="251.22" cy="326.92" r="2.8"/><circle cx="251.55" cy="327.2" r="2.8"/><circle cx="251.87" cy="327.25" r="2.8"/><circle cx="252.2" cy="327.62" r="2.8"/><circle cx="252.53" cy="327.8" r="2.8"/><circle cx="252.85" cy="327.21" r="2.8"/><circle cx="253.18" cy="327.59" r="2.8"/><circle cx="253.5" cy="327.5" r="2.8"/><circle cx="253.83" cy="327.61" r="2.8"/><circle cx="254.15" cy="327.49" r="2.8"/><circle cx="254.48" cy="326.93" r="2.8"/><circle cx="254.8" cy="327.59" r="2.8"/><circle cx="255.13" cy="327.58" r="2.8"/><circle cx="255.46" cy="327.46" r="2.8"/><circle cx="255.78" cy="327.44" r="2.8"/><circle cx="256.11" cy="327.8" r="2.8"/><circle cx="256.43" cy="327.94" r="2.8"/><circle cx="256.76" cy="327.65" r="2.8"/><circle cx="257.08" cy="327.56" r="2.8"/><circle cx="257.41" cy="327.7" r="2.8"/><circle cx="257.73" cy="327.75" r="2.8"/><circle cx="258.06" cy="327.74" r="2.8"/><circle cx="258.39" cy="327.6" r="2.8"/><circle cx="258.71" cy="327.54" r="2.8"/><circle cx="259.04" cy="327.9" r="2.8"/><circle cx="259.36" cy="327.64" r="2.8"/><circle cx="259.69" cy="327.42" r="2.8"/><circle cx="260.01" cy="327.54" r="2.8"/><circle cx="260.34" cy="327.84" r="2.8"/><circle cx="260.66" cy="327.59" r="2.8"/><circle cx="260.99" cy="327.51" r="2.8"/><circle cx="261.31" cy="327.32" r="2.8"/><circle cx="261.64" cy="327.9" r="2.8"/><circle cx="261.97" cy="327.34" r="2.8"/><circle cx="262.29" cy="327.62" r="2.8"/><circle cx="262.62" cy="327.46" r="2.8"/><circle cx="262.94" cy="327.34" r="2.8"/><circle cx="263.27" cy="327.71" r="2.8"/><circle cx="263.59" cy="327.7" r="2.8"/><circle cx="263.92" cy="327.53" r="2.8"/><circle cx="264.24" cy="327.33" r="2.8"/><circle cx="264.57" cy="327.63" r="2.8"/><circle cx="264.9" cy="327.84" r="2.8"/><circle cx="265.22" cy="327.67" r="2.8"/><circle cx="265.55" cy="327.41" r="2.8"/><circle cx="265.87" cy="327.22" r="2.8"/><circle cx="266.2" cy="327.62" r="2.8"/><circle cx="266.52" cy="327.58" r="2.8"/><circle cx="266.85" cy="327.54" r="2.8"/><circle cx="267.17" cy="327.53" r="2.8"/><circle cx="267.5" cy="327.73" r="2.8"/><circle cx="267.83" cy="327.6" r="2.8"/><circle cx="268.15" cy="327.45" r="2.8"/><circle cx="268.48" cy="327.47" r="2.8"/><circle cx="268.8" cy="327.49" r="2.8"/><circle cx="269.13" cy="327.74" r="2.8"/><circle cx="269.45" cy="327.63" r="2.8"/><circle cx="269.78" cy="327.67" r="2.8"/><circle cx="270.1" cy="327.24" r="2.8"/><circle cx="270.43" cy="327.14" r="2.8"/><circle cx="270.76" cy="327.41" r="2.8"/><circle cx="271.08" cy="327.11" r="2.8"/><circle cx="271.41" cy="327.56" r="2.8"/><circle cx="271.73" cy="327.56" r="2.8"/><circle cx="272.06" cy="327.8" r="2.8"/><circle cx="272.38" cy="327.43" r="2.8"/><circle cx="272.71" cy="327.6" r="2.8"/><circle cx="273.03" cy="327.47" r="2.8"/><circle cx="273.36" cy="327.37" r="2.8"/><circle cx="273.69" cy="327.54" r="2.8"/><circle cx="274.01" cy="327.76" r="2.8"/><circle cx="274.34" cy="327.5" r="2.8"/><circle cx="274.66" cy="327.5" r="2.8"/><circle cx="274.99" cy="327.48" r="2.8"/><circle cx="275.31" cy="327.32" r="2.8"/><circle cx="275.64" cy="327.53" r="2.8"/><circle cx="275.96" cy="327.55" r="2.8"/><circle cx="276.29" cy="327.06" r="2.8"/><circle cx="276.61" cy="327.22" r="2.8"/><circle cx="276.94" cy="327.5" r="2.8"/><circle cx="277.27" cy="327.7" r="2.8"/><circle cx="277.59" cy="327.58" r="2.8"/><circle cx="277.92" cy="327.38" r="2.8"/><circle cx="278.24" cy="327.27" r="2.8"/><circle cx="278.57" cy="326.9" r="2.8"/><circle cx="278.89" cy="327.53" r="2.8"/><circle cx="279.22" cy="327.43" r="2.8"/><circle cx="279.54" cy="327.56" r="2.8"/><circle cx="279.87" cy="327.45" r="2.8"/><circle cx="280.2" cy="327.56" r="2.8"/><circle cx="280.52" cy="327.72" r="2.8"/><circle cx="280.85" cy="327.22" r="2.8"/><circle cx="281.17" cy="327.43" r="2.8"/><circle cx="281.5" cy="327.16" r="2.8"/><circle cx="281.82" cy="327.58" r="2.8"/><circle cx="282.15" cy="327.4" r="2.8"/><circle cx="282.47" cy="327.3" r="2.8"/><circle cx="282.8" cy="327.91" r="2.8"/><circle cx="283.13" cy="327.78" r="2.8"/><circle cx="283.45" cy="327.28" r="2.8"/><circle cx="283.78" cy="327.43" r="2.8"/><circle cx="284.1" cy="327.9" r="2.8"/><circle cx="284.43" cy="327.63" r="2.8"/><circle cx="284.75" cy="327.71" r="2.8"/><circle cx="285.08" cy="327.57" r="2.8"/><circle cx="285.4" cy="327.08" r="2.8"/><circle cx="285.73" cy="327.59" r="2.8"/><circle cx="286.06" cy="326.97" r="2.8"/><circle cx="286.38" cy="327.51" r="2.8"/><circle cx="286.71" cy="327.62" r="2.8"/><circle cx="287.03" cy="327.07" r="2.8"/><circle cx="287.36" cy="327.22" r="2.8"/><circle cx="287.68" cy="327.12" r="2.8"/><circle cx="288.01" cy="326.98" r="2.8"/><circle cx="288.33" cy="327.19" r="2.8"/><circle cx="288.66" cy="327.15" r="2.8"/><circle cx="288.99" cy="327.85" r="2.8"/><circle cx="289.31" cy="327.64" r="2.8"/><circle cx="289.64" cy="327.33" r="2.8"/><circle cx="289.96" cy="327.39" r="2.8"/><circle cx="290.29" cy="327.27" r="2.8"/><circle cx="290.61" cy="327.55" r="2.8"/><circle cx="290.94" cy="327.17" r="2.8"/><circle cx="291.26" cy="326.95" r="2.8"/><circle cx="291.59" cy="327.29" r="2.8"/><circle cx="291.91" cy="327.23" r="2.8"/><circle cx="292.24" cy="327.31" r="2.8"/><circle cx="292.57" cy="327.21" r="2.8"/><circle cx="292.89" cy="327.38" r="2.8"/><circle cx="293.22" cy="327.55" r="2.8"/><circle cx="293.54" cy="327.38" r="2.8"/><circle cx="293.87" cy="327.4" r="2.8"/><circle cx="294.19" cy="327.79" r="2.8"/><circle cx="294.52" cy="327.37" r="2.8"/><circle cx="294.84" cy="327.42" r="2.8"/><circle cx="295.17" cy="327.37" r="2.8"/><circle cx="295.5" cy="327.55" r="2.8"/><circle cx="295.82" cy="327.31" r="2.8"/><circle cx="296.15" cy="327.27" r="2.8"/><circle cx="296.47" cy="327.59" r="2.8"/><circle cx="296.8" cy="327.34" r="2.8"/><circle cx="297.12" cy="327.23" r="2.8"/><circle cx="297.45" cy="327.24" r="2.8"/><circle cx="297.77" cy="327.64" r="2.8"/><circle cx="298.1" cy="327.66" r="2.8"/><circle cx="298.43" cy="327.41" r="2.8"/><circle cx="298.75" cy="327.67" r="2.8"/><circle cx="299.08" cy="326.82" r="2.8"/><circle cx="299.4" cy="327.61" r="2.8"/><circle cx="299.73" cy="327.61" r="2.8"/><circle cx="300.05" cy="327.27" r="2.8"/><circle cx="300.38" cy="327.53" r="2.8"/><circle cx="300.7" cy="327.98" r="2.8"/><circle cx="301.03" cy="327.46" r="2.8"/><circle cx="301.36" cy="327.66" r="2.8"/><circle cx="301.68" cy="327.55" r="2.8"/><circle cx="302.01" cy="327.81" r="2.8"/><circle cx="302.33" cy="327.64" r="2.8"/><circle cx="302.66" cy="327.46" r="2.8"/><circle cx="302.98" cy="327.44" r="2.8"/><circle cx="303.31" cy="327.69" r="2.8"/><circle cx="303.63" cy="327.6" r="2.8"/><circle cx="303.96" cy="327.63" r="2.8"/><circle cx="304.29" cy="327.39" r="2.8"/><circle cx="304.61" cy="327.46" r="2.8"/><circle cx="304.94" cy="327.72" r="2.8"/><circle cx="305.26" cy="327.27" r="2.8"/><circle cx="305.59" cy="327.59" r="2.8"/><circle cx="305.91" cy="327.33" r="2.8"/><circle cx="306.24" cy="327.64" r="2.8"/><circle cx="306.56" cy="327.35" r="2.8"/><circle cx="306.89" cy="327.45" r="2.8"/><circle cx="307.21" cy="327.41" r="2.8"/><circle cx="307.54" cy="327.3" r="2.8"/><circle cx="307.87" cy="327.32" r="2.8"/><circle cx="308.19" cy="327.38" r="2.8"/><circle cx="308.52" cy="327.38" r="2.8"/><circle cx="308.84" cy="327.73" r="2.8"/><circle cx="309.17" cy="327.44" r="2.8"/><circle cx="309.49" cy="327.94" r="2.8"/><circle cx="309.82" cy="327.96" r="2.8"/><circle cx="310.14" cy="327.49" r="2.8"/><circle cx="310.47" cy="327.47" r="2.8"/><circle cx="310.8" cy="327.06" r="2.8"/><circle cx="311.12" cy="327.26" r="2.8"/><circle cx="311.45" cy="327.15" r="2.8"/><circle cx="311.77" cy="327.49" r="2.8"/><circle cx="312.1" cy="327.31" r="2.8"/><circle cx="312.42" cy="327.14" r="2.8"/><circle cx="312.75" cy="327.29" r="2.8"/><circle cx="313.07" cy="327.33" r="2.8"/><circle cx="313.4" cy="327.39" r="2.8"/><circle cx="313.73" cy="327.63" r="2.8"/><circle cx="314.05" cy="327.62" r="2.8"/><circle cx="314.38" cy="327.75" r="2.8"/><circle cx="314.7" cy="327.31" r="2.8"/><circle cx="315.03" cy="327.47" r="2.8"/><circle cx="315.35" cy="327.57" r="2.8"/><circle cx="315.68" cy="327.32" r="2.8"/><circle cx="316" cy="327.54" r="2.8"/><circle cx="316.33" cy="327.15" r="2.8"/><circle cx="316.66" cy="326.95" r="2.8"/><circle cx="316.98" cy="327.29" r="2.8"/><circle cx="317.31" cy="327.56" r="2.8"/><circle cx="317.63" cy="327.76" r="2.8"/><circle cx="317.96" cy="326.92" r="2.8"/><circle cx="318.28" cy="327.31" r="2.8"/><circle cx="318.61" cy="327.73" r="2.8"/><circle cx="318.93" cy="327.21" r="2.8"/><circle cx="319.26" cy="327.89" r="2.8"/><circle cx="319.59" cy="327.63" r="2.8"/><circle cx="319.91" cy="327.6" r="2.8"/><circle cx="320.24" cy="327.66" r="2.8"/><circle cx="320.56" cy="327.87" r="2.8"/><circle cx="320.89" cy="327.05" r="2.8"/><circle cx="321.21" cy="327.74" r="2.8"/><circle cx="321.54" cy="327.58" r="2.8"/><circle cx="321.86" cy="327.69" r="2.8"/><circle cx="322.19" cy="328.1" r="2.8"/><circle cx="322.51" cy="327.88" r="2.8"/><circle cx="322.84" cy="327.72" r="2.8"/><circle cx="323.17" cy="327.57" r="2.8"/><circle cx="323.49" cy="327.9" r="2.8"/><circle cx="323.82" cy="327.76" r="2.8"/><circle cx="324.14" cy="327.95" r="2.8"/><circle cx="324.47" cy="327.76" r="2.8"/><circle cx="324.79" cy="328.51" r="2.8"/><circle cx="325.12" cy="327.8" r="2.8"/><circle cx="325.44" cy="328.12" r="2.8"/><circle cx="325.77" cy="328.14" r="2.8"/><circle cx="326.1" cy="328.7" r="2.8"/><circle cx="326.42" cy="328.3" r="2.8"/><circle cx="326.75" cy="327.93" r="2.8"/><circle cx="327.07" cy="327.54" r="2.8"/><circle cx="327.4" cy="328.29" r="2.8"/><circle cx="327.72" cy="328.31" r="2.8"/><circle cx="328.05" cy="328.06" r="2.8"/><circle cx="328.37" cy="328.13" r="2.8"/><circle cx="328.7" cy="328.36" r="2.8"/><circle cx="329.03" cy="328.29" r="2.8"/><circle cx="329.35" cy="328.36" r="2.8"/><circle cx="329.68" cy="328.15" r="2.8"/><circle cx="330" cy="328.13" r="2.8"/><circle cx="330.33" cy="327.93" r="2.8"/><circle cx="330.65" cy="328.15" r="2.8"/><circle cx="330.98" cy="328.24" r="2.8"/><circle cx="331.3" cy="328.39" r="2.8"/><circle cx="331.63" cy="328.22" r="2.8"/><circle cx="331.96" cy="328.71" r="2.8"/><circle cx="332.28" cy="327.98" r="2.8"/><circle cx="332.61" cy="328.46" r="2.8"/><circle cx="332.93" cy="328.21" r="2.8"/><circle cx="333.26" cy="328.76" r="2.8"/><circle cx="333.58" cy="328.35" r="2.8"/><circle cx="333.91" cy="328.53" r="2.8"/><circle cx="334.23" cy="328.69" r="2.8"/><circle cx="334.56" cy="328.83" r="2.8"/><circle cx="334.89" cy="328.91" r="2.8"/><circle cx="335.21" cy="328.29" r="2.8"/><circle cx="335.54" cy="328.46" r="2.8"/><circle cx="335.86" cy="328.75" r="2.8"/><circle cx="336.19" cy="328.75" r="2.8"/><circle cx="336.51" cy="329.02" r="2.8"/><circle cx="336.84" cy="329.34" r="2.8"/><circle cx="337.16" cy="329.38" r="2.8"/><circle cx="337.49" cy="329.15" r="2.8"/><circle cx="337.81" cy="329.09" r="2.8"/><circle cx="338.14" cy="329.38" r="2.8"/><circle cx="338.47" cy="328.96" r="2.8"/><circle cx="338.79" cy="329.08" r="2.8"/><circle cx="339.12" cy="329.21" r="2.8"/><circle cx="339.44" cy="329.73" r="2.8"/><circle cx="339.77" cy="329.4" r="2.8"/><circle cx="340.09" cy="329.41" r="2.8"/><circle cx="340.42" cy="329.76" r="2.8"/><circle cx="340.74" cy="330.03" r="2.8"/><circle cx="341.07" cy="329.09" r="2.8"/><circle cx="341.4" cy="329.46" r="2.8"/><circle cx="341.72" cy="329.75" r="2.8"/><circle cx="342.05" cy="329.32" r="2.8"/><circle cx="342.37" cy="329.49" r="2.8"/><circle cx="342.7" cy="329.7" r="2.8"/><circle cx="343.02" cy="329.8" r="2.8"/><circle cx="343.35" cy="329.72" r="2.8"/><circle cx="343.67" cy="329.6" r="2.8"/><circle cx="344" cy="329.99" r="2.8"/><circle cx="83.9" cy="330.41" r="2.8"/><circle cx="84.42" cy="329.2" r="2.8"/><circle cx="343.22" cy="330.41" r="2.8"/><circle cx="344" cy="329.6" r="2.8"/></g><g fill="none" stroke="#E6531C" stroke-width="1.0" stroke-linejoin="miter"><path d="M81.82 281.22h5.2l-2.6 4.6z"/><path d="M82.95 273.14h5.2l-2.6 4.6z"/><path d="M84.08 275.79h5.2l-2.6 4.6z"/><path d="M85.21 266.25h5.2l-2.6 4.6z"/><path d="M86.34 264.92h5.2l-2.6 4.6z"/><path d="M87.47 261.46h5.2l-2.6 4.6z"/><path d="M88.6 259.32h5.2l-2.6 4.6z"/><path d="M89.73 254.93h5.2l-2.6 4.6z"/><path d="M90.86 252.37h5.2l-2.6 4.6z"/><path d="M91.99 249.33h5.2l-2.6 4.6z"/><path d="M93.12 246.68h5.2l-2.6 4.6z"/><path d="M94.25 242.72h5.2l-2.6 4.6z"/><path d="M95.38 242.84h5.2l-2.6 4.6z"/><path d="M96.51 237.03h5.2l-2.6 4.6z"/><path d="M97.64 241.26h5.2l-2.6 4.6z"/><path d="M98.77 234.59h5.2l-2.6 4.6z"/><path d="M99.9 232.16h5.2l-2.6 4.6z"/><path d="M101.03 234.48h5.2l-2.6 4.6z"/><path d="M102.16 230.62h5.2l-2.6 4.6z"/><path d="M103.29 224.54h5.2l-2.6 4.6z"/><path d="M104.42 226.8h5.2l-2.6 4.6z"/><path d="M105.55 227.64h5.2l-2.6 4.6z"/><path d="M106.68 231.74h5.2l-2.6 4.6z"/><path d="M107.81 222.74h5.2l-2.6 4.6z"/><path d="M108.94 222.35h5.2l-2.6 4.6z"/><path d="M110.07 220.15h5.2l-2.6 4.6z"/><path d="M111.2 215.98h5.2l-2.6 4.6z"/><path d="M112.33 220.59h5.2l-2.6 4.6z"/><path d="M113.46 219.91h5.2l-2.6 4.6z"/><path d="M114.59 221.54h5.2l-2.6 4.6z"/><path d="M115.72 219.68h5.2l-2.6 4.6z"/><path d="M116.85 219.77h5.2l-2.6 4.6z"/><path d="M117.98 218.14h5.2l-2.6 4.6z"/><path d="M119.11 218.88h5.2l-2.6 4.6z"/><path d="M120.24 222.32h5.2l-2.6 4.6z"/><path d="M121.37 221.89h5.2l-2.6 4.6z"/><path d="M122.5 217.67h5.2l-2.6 4.6z"/><path d="M123.63 223.88h5.2l-2.6 4.6z"/><path d="M124.77 220.5h5.2l-2.6 4.6z"/><path d="M125.9 219.12h5.2l-2.6 4.6z"/><path d="M127.03 222.2h5.2l-2.6 4.6z"/><path d="M128.16 223.91h5.2l-2.6 4.6z"/><path d="M129.29 221.97h5.2l-2.6 4.6z"/><path d="M130.42 225h5.2l-2.6 4.6z"/><path d="M131.55 226.4h5.2l-2.6 4.6z"/><path d="M132.68 227.38h5.2l-2.6 4.6z"/><path d="M133.81 224.64h5.2l-2.6 4.6z"/><path d="M134.94 226.25h5.2l-2.6 4.6z"/><path d="M136.07 224.72h5.2l-2.6 4.6z"/><path d="M137.2 229.82h5.2l-2.6 4.6z"/><path d="M138.33 230.37h5.2l-2.6 4.6z"/><path d="M139.46 231.27h5.2l-2.6 4.6z"/><path d="M140.59 230.14h5.2l-2.6 4.6z"/><path d="M141.72 233.1h5.2l-2.6 4.6z"/><path d="M142.85 229.8h5.2l-2.6 4.6z"/><path d="M143.98 231.84h5.2l-2.6 4.6z"/><path d="M145.11 235.67h5.2l-2.6 4.6z"/><path d="M146.24 241.11h5.2l-2.6 4.6z"/><path d="M147.37 239.01h5.2l-2.6 4.6z"/><path d="M148.5 231.77h5.2l-2.6 4.6z"/><path d="M149.63 236.04h5.2l-2.6 4.6z"/><path d="M150.76 236.12h5.2l-2.6 4.6z"/><path d="M151.89 237.86h5.2l-2.6 4.6z"/><path d="M153.02 236.25h5.2l-2.6 4.6z"/><path d="M154.15 242.2h5.2l-2.6 4.6z"/><path d="M155.28 242.76h5.2l-2.6 4.6z"/><path d="M156.41 242.24h5.2l-2.6 4.6z"/><path d="M157.54 238.49h5.2l-2.6 4.6z"/><path d="M158.67 237.16h5.2l-2.6 4.6z"/><path d="M159.8 237.8h5.2l-2.6 4.6z"/><path d="M160.93 239.34h5.2l-2.6 4.6z"/><path d="M162.06 242.21h5.2l-2.6 4.6z"/><path d="M163.19 237.29h5.2l-2.6 4.6z"/><path d="M164.32 239.98h5.2l-2.6 4.6z"/><path d="M165.45 239.43h5.2l-2.6 4.6z"/><path d="M166.58 239.65h5.2l-2.6 4.6z"/><path d="M167.71 240.69h5.2l-2.6 4.6z"/><path d="M168.84 241.21h5.2l-2.6 4.6z"/><path d="M169.97 240.45h5.2l-2.6 4.6z"/><path d="M171.1 241.7h5.2l-2.6 4.6z"/><path d="M172.23 237.55h5.2l-2.6 4.6z"/><path d="M173.36 238.13h5.2l-2.6 4.6z"/><path d="M174.49 234.82h5.2l-2.6 4.6z"/><path d="M175.62 241.21h5.2l-2.6 4.6z"/><path d="M176.75 233.57h5.2l-2.6 4.6z"/><path d="M177.88 236.14h5.2l-2.6 4.6z"/><path d="M179.01 235.88h5.2l-2.6 4.6z"/><path d="M180.14 236.76h5.2l-2.6 4.6z"/><path d="M181.27 236.12h5.2l-2.6 4.6z"/><path d="M182.4 237.08h5.2l-2.6 4.6z"/><path d="M183.53 230.63h5.2l-2.6 4.6z"/><path d="M184.66 232.64h5.2l-2.6 4.6z"/><path d="M185.79 229.72h5.2l-2.6 4.6z"/><path d="M186.92 228.78h5.2l-2.6 4.6z"/><path d="M188.05 231.31h5.2l-2.6 4.6z"/><path d="M189.18 230.07h5.2l-2.6 4.6z"/><path d="M190.31 229.97h5.2l-2.6 4.6z"/><path d="M191.44 226.3h5.2l-2.6 4.6z"/><path d="M192.57 228.1h5.2l-2.6 4.6z"/><path d="M193.7 227.66h5.2l-2.6 4.6z"/><path d="M194.83 225.97h5.2l-2.6 4.6z"/><path d="M195.96 227.53h5.2l-2.6 4.6z"/><path d="M197.09 222.06h5.2l-2.6 4.6z"/><path d="M198.22 228.88h5.2l-2.6 4.6z"/><path d="M199.35 223.25h5.2l-2.6 4.6z"/><path d="M200.48 222.53h5.2l-2.6 4.6z"/><path d="M201.61 228.32h5.2l-2.6 4.6z"/><path d="M202.74 223.13h5.2l-2.6 4.6z"/><path d="M203.87 224.44h5.2l-2.6 4.6z"/><path d="M205 223.02h5.2l-2.6 4.6z"/><path d="M206.13 228.02h5.2l-2.6 4.6z"/><path d="M207.26 224.53h5.2l-2.6 4.6z"/><path d="M208.39 227.48h5.2l-2.6 4.6z"/><path d="M209.52 225.92h5.2l-2.6 4.6z"/><path d="M210.65 221.69h5.2l-2.6 4.6z"/><path d="M211.79 225.44h5.2l-2.6 4.6z"/><path d="M212.92 230.56h5.2l-2.6 4.6z"/><path d="M214.05 228.5h5.2l-2.6 4.6z"/><path d="M215.18 227.96h5.2l-2.6 4.6z"/><path d="M216.31 223.29h5.2l-2.6 4.6z"/><path d="M217.44 227.97h5.2l-2.6 4.6z"/><path d="M218.57 230.59h5.2l-2.6 4.6z"/><path d="M219.7 224.67h5.2l-2.6 4.6z"/><path d="M220.83 227.31h5.2l-2.6 4.6z"/><path d="M221.96 227.63h5.2l-2.6 4.6z"/><path d="M223.09 230.92h5.2l-2.6 4.6z"/><path d="M224.22 226.09h5.2l-2.6 4.6z"/><path d="M225.35 230.37h5.2l-2.6 4.6z"/><path d="M226.48 235.27h5.2l-2.6 4.6z"/><path d="M227.61 233.57h5.2l-2.6 4.6z"/><path d="M228.74 233.18h5.2l-2.6 4.6z"/><path d="M229.87 231.85h5.2l-2.6 4.6z"/><path d="M231 229.93h5.2l-2.6 4.6z"/><path d="M232.13 233.85h5.2l-2.6 4.6z"/><path d="M233.26 233.87h5.2l-2.6 4.6z"/><path d="M234.39 227.41h5.2l-2.6 4.6z"/><path d="M235.52 232.89h5.2l-2.6 4.6z"/><path d="M236.65 234.73h5.2l-2.6 4.6z"/><path d="M237.78 233.73h5.2l-2.6 4.6z"/><path d="M238.91 237.19h5.2l-2.6 4.6z"/><path d="M240.04 233.24h5.2l-2.6 4.6z"/><path d="M241.17 232.55h5.2l-2.6 4.6z"/><path d="M242.3 236.66h5.2l-2.6 4.6z"/><path d="M243.43 233.19h5.2l-2.6 4.6z"/><path d="M244.56 236.63h5.2l-2.6 4.6z"/><path d="M245.69 235.55h5.2l-2.6 4.6z"/><path d="M246.82 238.35h5.2l-2.6 4.6z"/><path d="M247.95 238.81h5.2l-2.6 4.6z"/><path d="M249.08 240.82h5.2l-2.6 4.6z"/><path d="M250.21 236.98h5.2l-2.6 4.6z"/><path d="M251.34 238.52h5.2l-2.6 4.6z"/><path d="M252.47 238.71h5.2l-2.6 4.6z"/><path d="M253.6 241.04h5.2l-2.6 4.6z"/><path d="M254.73 241.34h5.2l-2.6 4.6z"/><path d="M255.86 240.26h5.2l-2.6 4.6z"/><path d="M256.99 237.81h5.2l-2.6 4.6z"/><path d="M258.12 238.43h5.2l-2.6 4.6z"/><path d="M259.25 241.02h5.2l-2.6 4.6z"/><path d="M260.38 238.87h5.2l-2.6 4.6z"/><path d="M261.51 235.08h5.2l-2.6 4.6z"/><path d="M262.64 238.75h5.2l-2.6 4.6z"/><path d="M263.77 233.81h5.2l-2.6 4.6z"/><path d="M264.9 237.32h5.2l-2.6 4.6z"/><path d="M266.03 234.84h5.2l-2.6 4.6z"/><path d="M267.16 239.01h5.2l-2.6 4.6z"/><path d="M268.29 234.58h5.2l-2.6 4.6z"/><path d="M269.42 239.79h5.2l-2.6 4.6z"/><path d="M270.55 235.44h5.2l-2.6 4.6z"/><path d="M271.68 235.94h5.2l-2.6 4.6z"/><path d="M272.81 239.05h5.2l-2.6 4.6z"/><path d="M273.94 236.62h5.2l-2.6 4.6z"/><path d="M275.07 229.69h5.2l-2.6 4.6z"/><path d="M276.2 230.34h5.2l-2.6 4.6z"/><path d="M277.33 227.5h5.2l-2.6 4.6z"/><path d="M278.46 229.56h5.2l-2.6 4.6z"/><path d="M279.59 236.58h5.2l-2.6 4.6z"/><path d="M280.72 228.5h5.2l-2.6 4.6z"/><path d="M281.85 230.02h5.2l-2.6 4.6z"/><path d="M282.98 229.4h5.2l-2.6 4.6z"/><path d="M284.11 228.8h5.2l-2.6 4.6z"/><path d="M285.24 229.11h5.2l-2.6 4.6z"/><path d="M286.37 229.11h5.2l-2.6 4.6z"/><path d="M287.5 223.64h5.2l-2.6 4.6z"/><path d="M288.63 225.46h5.2l-2.6 4.6z"/><path d="M289.76 228.01h5.2l-2.6 4.6z"/><path d="M290.89 227.34h5.2l-2.6 4.6z"/><path d="M292.02 223.87h5.2l-2.6 4.6z"/><path d="M293.15 225.19h5.2l-2.6 4.6z"/><path d="M294.28 225.54h5.2l-2.6 4.6z"/><path d="M295.41 228.63h5.2l-2.6 4.6z"/><path d="M296.54 225.78h5.2l-2.6 4.6z"/><path d="M297.67 226.53h5.2l-2.6 4.6z"/><path d="M298.8 227.48h5.2l-2.6 4.6z"/><path d="M299.94 219.75h5.2l-2.6 4.6z"/><path d="M301.07 221.76h5.2l-2.6 4.6z"/><path d="M302.2 221.35h5.2l-2.6 4.6z"/><path d="M303.33 222.85h5.2l-2.6 4.6z"/><path d="M304.46 218.89h5.2l-2.6 4.6z"/><path d="M305.59 215.84h5.2l-2.6 4.6z"/><path d="M306.72 219.66h5.2l-2.6 4.6z"/><path d="M307.85 219.01h5.2l-2.6 4.6z"/><path d="M308.98 224.44h5.2l-2.6 4.6z"/><path d="M310.11 221.19h5.2l-2.6 4.6z"/><path d="M311.24 221.27h5.2l-2.6 4.6z"/><path d="M312.37 218.71h5.2l-2.6 4.6z"/><path d="M313.5 223.51h5.2l-2.6 4.6z"/><path d="M314.63 227.03h5.2l-2.6 4.6z"/><path d="M315.76 226.14h5.2l-2.6 4.6z"/><path d="M316.89 228.25h5.2l-2.6 4.6z"/><path d="M318.02 225.17h5.2l-2.6 4.6z"/><path d="M319.15 228.61h5.2l-2.6 4.6z"/><path d="M320.28 230.95h5.2l-2.6 4.6z"/><path d="M321.41 232.89h5.2l-2.6 4.6z"/><path d="M322.54 233.07h5.2l-2.6 4.6z"/><path d="M323.67 238.23h5.2l-2.6 4.6z"/><path d="M324.8 241.21h5.2l-2.6 4.6z"/><path d="M325.93 245.48h5.2l-2.6 4.6z"/><path d="M327.06 240.09h5.2l-2.6 4.6z"/><path d="M328.19 243.85h5.2l-2.6 4.6z"/><path d="M329.32 245.64h5.2l-2.6 4.6z"/><path d="M330.45 249.21h5.2l-2.6 4.6z"/><path d="M331.58 247.42h5.2l-2.6 4.6z"/><path d="M332.71 256.14h5.2l-2.6 4.6z"/><path d="M333.84 253.2h5.2l-2.6 4.6z"/><path d="M334.97 260.47h5.2l-2.6 4.6z"/><path d="M336.1 261.86h5.2l-2.6 4.6z"/><path d="M337.23 266.57h5.2l-2.6 4.6z"/><path d="M338.36 266.33h5.2l-2.6 4.6z"/><path d="M339.49 270.99h5.2l-2.6 4.6z"/><path d="M340.62 277.65h5.2l-2.6 4.6z"/></g><g fill="none" stroke="#F2B71E" stroke-width="0.8"><circle cx="84.42" cy="251.53" r="2.1"/><circle cx="85.72" cy="249.12" r="2.1"/><circle cx="87.02" cy="241.15" r="2.1"/><circle cx="88.33" cy="237.48" r="2.1"/><circle cx="89.63" cy="236.81" r="2.1"/><circle cx="90.93" cy="236.63" r="2.1"/><circle cx="92.23" cy="233.26" r="2.1"/><circle cx="93.53" cy="234.07" r="2.1"/><circle cx="94.83" cy="228.66" r="2.1"/><circle cx="96.14" cy="224.1" r="2.1"/><circle cx="97.44" cy="223.97" r="2.1"/><circle cx="98.74" cy="224.68" r="2.1"/><circle cx="100.04" cy="219.23" r="2.1"/><circle cx="101.34" cy="219.02" r="2.1"/><circle cx="102.65" cy="214.41" r="2.1"/><circle cx="103.95" cy="215.83" r="2.1"/><circle cx="105.25" cy="211.28" r="2.1"/><circle cx="106.55" cy="206.93" r="2.1"/><circle cx="107.85" cy="204.34" r="2.1"/><circle cx="109.15" cy="202.09" r="2.1"/><circle cx="110.46" cy="201.68" r="2.1"/><circle cx="111.76" cy="200.6" r="2.1"/><circle cx="113.06" cy="198.15" r="2.1"/><circle cx="114.36" cy="196.25" r="2.1"/><circle cx="115.66" cy="199.93" r="2.1"/><circle cx="116.97" cy="196.51" r="2.1"/><circle cx="118.27" cy="195.57" r="2.1"/><circle cx="119.57" cy="194.13" r="2.1"/><circle cx="120.87" cy="191.71" r="2.1"/><circle cx="122.17" cy="195.87" r="2.1"/><circle cx="123.47" cy="192.13" r="2.1"/><circle cx="124.78" cy="196.68" r="2.1"/><circle cx="126.08" cy="194.78" r="2.1"/><circle cx="127.38" cy="195.49" r="2.1"/><circle cx="128.68" cy="196.28" r="2.1"/><circle cx="129.98" cy="198.56" r="2.1"/><circle cx="131.29" cy="199.61" r="2.1"/><circle cx="132.59" cy="200.27" r="2.1"/><circle cx="133.89" cy="201.19" r="2.1"/><circle cx="135.19" cy="207.89" r="2.1"/><circle cx="136.49" cy="207.73" r="2.1"/><circle cx="137.79" cy="205.39" r="2.1"/><circle cx="139.1" cy="204.34" r="2.1"/><circle cx="140.4" cy="205.93" r="2.1"/><circle cx="141.7" cy="201.2" r="2.1"/><circle cx="143" cy="216.41" r="2.1"/><circle cx="144.3" cy="223.86" r="2.1"/><circle cx="145.61" cy="222.58" r="2.1"/><circle cx="146.91" cy="223.29" r="2.1"/><circle cx="148.21" cy="229.24" r="2.1"/><circle cx="149.51" cy="239.89" r="2.1"/><circle cx="150.81" cy="239.56" r="2.1"/><circle cx="152.11" cy="244.02" r="2.1"/><circle cx="153.42" cy="255.36" r="2.1"/><circle cx="154.72" cy="256.55" r="2.1"/><circle cx="156.02" cy="245.36" r="2.1"/><circle cx="157.32" cy="266.9" r="2.1"/><circle cx="158.62" cy="255.23" r="2.1"/><circle cx="159.93" cy="258.76" r="2.1"/><circle cx="161.23" cy="250.65" r="2.1"/><circle cx="162.53" cy="256.14" r="2.1"/><circle cx="163.83" cy="265.53" r="2.1"/><circle cx="165.13" cy="254.08" r="2.1"/><circle cx="166.43" cy="263.97" r="2.1"/><circle cx="167.74" cy="249.34" r="2.1"/><circle cx="169.04" cy="250.89" r="2.1"/><circle cx="170.34" cy="260.3" r="2.1"/><circle cx="171.64" cy="254.87" r="2.1"/><circle cx="172.94" cy="257.17" r="2.1"/><circle cx="174.24" cy="262.24" r="2.1"/><circle cx="175.55" cy="250.22" r="2.1"/><circle cx="176.85" cy="252.21" r="2.1"/><circle cx="178.15" cy="247.76" r="2.1"/><circle cx="179.45" cy="244.72" r="2.1"/><circle cx="180.75" cy="241.26" r="2.1"/><circle cx="182.06" cy="241.43" r="2.1"/><circle cx="183.36" cy="244.57" r="2.1"/><circle cx="184.66" cy="242.18" r="2.1"/><circle cx="185.96" cy="239.43" r="2.1"/><circle cx="187.26" cy="239.57" r="2.1"/><circle cx="188.56" cy="238.43" r="2.1"/><circle cx="189.87" cy="232.38" r="2.1"/><circle cx="191.17" cy="234.09" r="2.1"/><circle cx="192.47" cy="229.63" r="2.1"/><circle cx="193.77" cy="233.04" r="2.1"/><circle cx="195.07" cy="229.78" r="2.1"/><circle cx="196.38" cy="228.7" r="2.1"/><circle cx="197.68" cy="226.77" r="2.1"/><circle cx="198.98" cy="224.74" r="2.1"/><circle cx="200.28" cy="222.58" r="2.1"/><circle cx="201.58" cy="222.03" r="2.1"/><circle cx="202.88" cy="216.85" r="2.1"/><circle cx="204.19" cy="217.91" r="2.1"/><circle cx="205.49" cy="219.46" r="2.1"/><circle cx="206.79" cy="218.05" r="2.1"/><circle cx="208.09" cy="214.7" r="2.1"/><circle cx="209.39" cy="214.25" r="2.1"/><circle cx="210.7" cy="215.98" r="2.1"/><circle cx="212" cy="213.01" r="2.1"/><circle cx="213.3" cy="216.79" r="2.1"/><circle cx="214.6" cy="214.82" r="2.1"/><circle cx="215.9" cy="210.79" r="2.1"/><circle cx="217.2" cy="218.9" r="2.1"/><circle cx="218.51" cy="215.8" r="2.1"/><circle cx="219.81" cy="214.76" r="2.1"/><circle cx="221.11" cy="217.55" r="2.1"/><circle cx="222.41" cy="219.51" r="2.1"/><circle cx="223.71" cy="220.71" r="2.1"/><circle cx="225.02" cy="223.97" r="2.1"/><circle cx="226.32" cy="224.1" r="2.1"/><circle cx="227.62" cy="222.39" r="2.1"/><circle cx="228.92" cy="225.06" r="2.1"/><circle cx="230.22" cy="225.58" r="2.1"/><circle cx="231.52" cy="228.71" r="2.1"/><circle cx="232.83" cy="230.01" r="2.1"/><circle cx="234.13" cy="239.63" r="2.1"/><circle cx="235.43" cy="237.57" r="2.1"/><circle cx="236.73" cy="240.49" r="2.1"/><circle cx="238.03" cy="242.09" r="2.1"/><circle cx="239.34" cy="246.07" r="2.1"/><circle cx="240.64" cy="253.66" r="2.1"/><circle cx="241.94" cy="241.3" r="2.1"/><circle cx="243.24" cy="241.68" r="2.1"/><circle cx="244.54" cy="235.37" r="2.1"/><circle cx="245.84" cy="244.66" r="2.1"/><circle cx="247.15" cy="241.45" r="2.1"/><circle cx="248.45" cy="248.2" r="2.1"/><circle cx="249.75" cy="254.76" r="2.1"/><circle cx="251.05" cy="252.07" r="2.1"/><circle cx="252.35" cy="262.17" r="2.1"/><circle cx="253.66" cy="256.74" r="2.1"/><circle cx="254.96" cy="259.5" r="2.1"/><circle cx="256.26" cy="264.69" r="2.1"/><circle cx="257.56" cy="253.27" r="2.1"/><circle cx="258.86" cy="254.1" r="2.1"/><circle cx="260.16" cy="257.82" r="2.1"/><circle cx="261.47" cy="255.95" r="2.1"/><circle cx="262.77" cy="251.27" r="2.1"/><circle cx="264.07" cy="260.4" r="2.1"/><circle cx="265.37" cy="266.64" r="2.1"/><circle cx="266.67" cy="264.26" r="2.1"/><circle cx="267.97" cy="255.12" r="2.1"/><circle cx="269.28" cy="256.59" r="2.1"/><circle cx="270.58" cy="264.25" r="2.1"/><circle cx="271.88" cy="247.21" r="2.1"/><circle cx="273.18" cy="251.57" r="2.1"/><circle cx="274.48" cy="242.12" r="2.1"/><circle cx="275.79" cy="240.76" r="2.1"/><circle cx="277.09" cy="243.45" r="2.1"/><circle cx="278.39" cy="234.72" r="2.1"/><circle cx="279.69" cy="233.08" r="2.1"/><circle cx="280.99" cy="230.35" r="2.1"/><circle cx="282.29" cy="225.09" r="2.1"/><circle cx="283.6" cy="219.41" r="2.1"/><circle cx="284.9" cy="214" r="2.1"/><circle cx="286.2" cy="217.91" r="2.1"/><circle cx="287.5" cy="210.74" r="2.1"/><circle cx="288.8" cy="209.93" r="2.1"/><circle cx="290.11" cy="207.94" r="2.1"/><circle cx="291.41" cy="202.5" r="2.1"/><circle cx="292.71" cy="203.01" r="2.1"/><circle cx="294.01" cy="197.09" r="2.1"/><circle cx="295.31" cy="198.04" r="2.1"/><circle cx="296.61" cy="196.75" r="2.1"/><circle cx="297.92" cy="191.83" r="2.1"/><circle cx="299.22" cy="195.01" r="2.1"/><circle cx="300.52" cy="193.21" r="2.1"/><circle cx="301.82" cy="191.03" r="2.1"/><circle cx="303.12" cy="191.29" r="2.1"/><circle cx="304.43" cy="192.47" r="2.1"/><circle cx="305.73" cy="196.52" r="2.1"/><circle cx="307.03" cy="195.98" r="2.1"/><circle cx="308.33" cy="193.52" r="2.1"/><circle cx="309.63" cy="194.7" r="2.1"/><circle cx="310.93" cy="199.02" r="2.1"/><circle cx="312.24" cy="197.53" r="2.1"/><circle cx="313.54" cy="198.59" r="2.1"/><circle cx="314.84" cy="197.91" r="2.1"/><circle cx="316.14" cy="202.35" r="2.1"/><circle cx="317.44" cy="198.91" r="2.1"/><circle cx="318.75" cy="203.37" r="2.1"/><circle cx="320.05" cy="201.73" r="2.1"/><circle cx="321.35" cy="205.29" r="2.1"/><circle cx="322.65" cy="211.58" r="2.1"/><circle cx="323.95" cy="212.2" r="2.1"/><circle cx="325.25" cy="213.02" r="2.1"/><circle cx="326.56" cy="213.9" r="2.1"/><circle cx="327.86" cy="221.05" r="2.1"/><circle cx="329.16" cy="221.63" r="2.1"/><circle cx="330.46" cy="222" r="2.1"/><circle cx="331.76" cy="225.31" r="2.1"/><circle cx="333.07" cy="231.39" r="2.1"/><circle cx="334.37" cy="234.11" r="2.1"/><circle cx="335.67" cy="233.67" r="2.1"/><circle cx="336.97" cy="238.6" r="2.1"/><circle cx="338.27" cy="238.1" r="2.1"/><circle cx="339.57" cy="239.34" r="2.1"/><circle cx="340.88" cy="244.17" r="2.1"/><circle cx="342.18" cy="252.59" r="2.1"/><circle cx="343.48" cy="247.89" r="2.1"/><circle cx="129.68" cy="187.93" r="2.1"/><circle cx="135.14" cy="191.55" r="2.1"/><circle cx="293.8" cy="185.51" r="2.1"/><circle cx="265.71" cy="284.12" r="2.1"/><circle cx="286.78" cy="212.07" r="2.1"/><circle cx="288.08" cy="216.91" r="2.1"/><circle cx="289.38" cy="210.87" r="2.1"/><circle cx="285.48" cy="218.51" r="2.1"/><circle cx="232.16" cy="222.14" r="2.1"/><circle cx="171.81" cy="247.9" r="2.1"/><circle cx="276.89" cy="251.92" r="2.1"/><circle cx="273.51" cy="266.01" r="2.1"/><circle cx="165.05" cy="268.42" r="2.1"/><circle cx="261.29" cy="266.81" r="2.1"/></g></g><g><g fill="#006FC4"><circle cx="415.8" cy="315.97" r="2.8"/><circle cx="416.13" cy="315.65" r="2.8"/><circle cx="416.45" cy="316.26" r="2.8"/><circle cx="416.78" cy="319.1" r="2.8"/><circle cx="417.1" cy="315.59" r="2.8"/><circle cx="417.43" cy="316.77" r="2.8"/><circle cx="417.75" cy="316.08" r="2.8"/><circle cx="418.08" cy="317.3" r="2.8"/><circle cx="418.4" cy="317.38" r="2.8"/><circle cx="418.73" cy="317.35" r="2.8"/><circle cx="419.05" cy="315.26" r="2.8"/><circle cx="419.38" cy="316.73" r="2.8"/><circle cx="419.7" cy="317.25" r="2.8"/><circle cx="420.03" cy="318.44" r="2.8"/><circle cx="420.35" cy="316.45" r="2.8"/><circle cx="420.68" cy="316.95" r="2.8"/><circle cx="421" cy="316.76" r="2.8"/><circle cx="421.33" cy="315.81" r="2.8"/><circle cx="421.66" cy="316.08" r="2.8"/><circle cx="421.98" cy="316.87" r="2.8"/><circle cx="422.31" cy="316.61" r="2.8"/><circle cx="422.63" cy="316.74" r="2.8"/><circle cx="422.96" cy="316.01" r="2.8"/><circle cx="423.28" cy="316.02" r="2.8"/><circle cx="423.61" cy="316.62" r="2.8"/><circle cx="423.93" cy="317.72" r="2.8"/><circle cx="424.26" cy="315.78" r="2.8"/><circle cx="424.58" cy="315.7" r="2.8"/><circle cx="424.91" cy="317.9" r="2.8"/><circle cx="425.23" cy="316.24" r="2.8"/><circle cx="425.56" cy="317.09" r="2.8"/><circle cx="425.88" cy="319.1" r="2.8"/><circle cx="426.21" cy="316.67" r="2.8"/><circle cx="426.53" cy="315.53" r="2.8"/><circle cx="426.86" cy="317.4" r="2.8"/><circle cx="427.18" cy="317.36" r="2.8"/><circle cx="427.51" cy="315.39" r="2.8"/><circle cx="427.84" cy="317.76" r="2.8"/><circle cx="428.16" cy="317.57" r="2.8"/><circle cx="428.49" cy="316.84" r="2.8"/><circle cx="428.81" cy="315.76" r="2.8"/><circle cx="429.14" cy="315.75" r="2.8"/><circle cx="429.46" cy="317.04" r="2.8"/><circle cx="429.79" cy="316.78" r="2.8"/><circle cx="430.11" cy="316.32" r="2.8"/><circle cx="430.44" cy="316.85" r="2.8"/><circle cx="430.76" cy="317.38" r="2.8"/><circle cx="431.09" cy="317.63" r="2.8"/><circle cx="431.41" cy="315.58" r="2.8"/><circle cx="431.74" cy="316.62" r="2.8"/><circle cx="432.06" cy="313.13" r="2.8"/><circle cx="432.39" cy="315.65" r="2.8"/><circle cx="432.71" cy="317.19" r="2.8"/><circle cx="433.04" cy="316.33" r="2.8"/><circle cx="433.37" cy="315.94" r="2.8"/><circle cx="433.69" cy="315.87" r="2.8"/><circle cx="434.02" cy="315.8" r="2.8"/><circle cx="434.34" cy="315.78" r="2.8"/><circle cx="434.67" cy="316.44" r="2.8"/><circle cx="434.99" cy="315.54" r="2.8"/><circle cx="435.32" cy="313.8" r="2.8"/><circle cx="435.64" cy="316.75" r="2.8"/><circle cx="435.97" cy="316.68" r="2.8"/><circle cx="436.29" cy="315.44" r="2.8"/><circle cx="436.62" cy="314.82" r="2.8"/><circle cx="436.94" cy="315.29" r="2.8"/><circle cx="437.27" cy="314.83" r="2.8"/><circle cx="437.59" cy="316.25" r="2.8"/><circle cx="437.92" cy="316.45" r="2.8"/><circle cx="438.24" cy="315.44" r="2.8"/><circle cx="438.57" cy="315.4" r="2.8"/><circle cx="438.89" cy="314.27" r="2.8"/><circle cx="439.22" cy="314.39" r="2.8"/><circle cx="439.55" cy="318.19" r="2.8"/><circle cx="439.87" cy="315.25" r="2.8"/><circle cx="440.2" cy="316.87" r="2.8"/><circle cx="440.52" cy="318.48" r="2.8"/><circle cx="440.85" cy="315.65" r="2.8"/><circle cx="441.17" cy="316.28" r="2.8"/><circle cx="441.5" cy="316.47" r="2.8"/><circle cx="441.82" cy="317.52" r="2.8"/><circle cx="442.15" cy="317.2" r="2.8"/><circle cx="442.47" cy="316.29" r="2.8"/><circle cx="442.8" cy="317.73" r="2.8"/><circle cx="443.12" cy="316.15" r="2.8"/><circle cx="443.45" cy="315.89" r="2.8"/><circle cx="443.77" cy="316.19" r="2.8"/><circle cx="444.1" cy="315.67" r="2.8"/><circle cx="444.42" cy="316.07" r="2.8"/><circle cx="444.75" cy="317.3" r="2.8"/><circle cx="445.08" cy="317.14" r="2.8"/><circle cx="445.4" cy="315.81" r="2.8"/><circle cx="445.73" cy="314.87" r="2.8"/><circle cx="446.05" cy="315.78" r="2.8"/><circle cx="446.38" cy="316.5" r="2.8"/><circle cx="446.7" cy="315.74" r="2.8"/><circle cx="447.03" cy="317.96" r="2.8"/><circle cx="447.35" cy="317.03" r="2.8"/><circle cx="447.68" cy="316.33" r="2.8"/><circle cx="448" cy="315.96" r="2.8"/><circle cx="448.33" cy="316.25" r="2.8"/><circle cx="448.65" cy="316.18" r="2.8"/><circle cx="448.98" cy="317.2" r="2.8"/><circle cx="449.3" cy="316.5" r="2.8"/><circle cx="449.63" cy="315.56" r="2.8"/><circle cx="449.95" cy="317.91" r="2.8"/><circle cx="450.28" cy="317.18" r="2.8"/><circle cx="450.61" cy="316.21" r="2.8"/><circle cx="450.93" cy="314.13" r="2.8"/><circle cx="451.26" cy="315.03" r="2.8"/><circle cx="451.58" cy="314.02" r="2.8"/><circle cx="451.91" cy="314.26" r="2.8"/><circle cx="452.23" cy="316.27" r="2.8"/><circle cx="452.56" cy="315.83" r="2.8"/><circle cx="452.88" cy="317.07" r="2.8"/><circle cx="453.21" cy="314.41" r="2.8"/><circle cx="453.53" cy="314.9" r="2.8"/><circle cx="453.86" cy="315.05" r="2.8"/><circle cx="454.18" cy="314.96" r="2.8"/><circle cx="454.51" cy="315.17" r="2.8"/><circle cx="454.83" cy="315.45" r="2.8"/><circle cx="455.16" cy="315.37" r="2.8"/><circle cx="455.48" cy="314.32" r="2.8"/><circle cx="455.81" cy="316.57" r="2.8"/><circle cx="456.13" cy="316.86" r="2.8"/><circle cx="456.46" cy="315.68" r="2.8"/><circle cx="456.79" cy="314.37" r="2.8"/><circle cx="457.11" cy="315.41" r="2.8"/><circle cx="457.44" cy="315.91" r="2.8"/><circle cx="457.76" cy="314.74" r="2.8"/><circle cx="458.09" cy="315.56" r="2.8"/><circle cx="458.41" cy="317.83" r="2.8"/><circle cx="458.74" cy="316.82" r="2.8"/><circle cx="459.06" cy="318.04" r="2.8"/><circle cx="459.39" cy="315.93" r="2.8"/><circle cx="459.71" cy="316.19" r="2.8"/><circle cx="460.04" cy="315.19" r="2.8"/><circle cx="460.36" cy="313.3" r="2.8"/><circle cx="460.69" cy="316.35" r="2.8"/><circle cx="461.01" cy="315.67" r="2.8"/><circle cx="461.34" cy="316.11" r="2.8"/><circle cx="461.66" cy="318.85" r="2.8"/><circle cx="461.99" cy="316.54" r="2.8"/><circle cx="462.32" cy="316.49" r="2.8"/><circle cx="462.64" cy="315.37" r="2.8"/><circle cx="462.97" cy="316.63" r="2.8"/><circle cx="463.29" cy="317.14" r="2.8"/><circle cx="463.62" cy="315.01" r="2.8"/><circle cx="463.94" cy="315.75" r="2.8"/><circle cx="464.27" cy="316.69" r="2.8"/><circle cx="464.59" cy="316.53" r="2.8"/><circle cx="464.92" cy="316.02" r="2.8"/><circle cx="465.24" cy="314.75" r="2.8"/><circle cx="465.57" cy="314.07" r="2.8"/><circle cx="465.89" cy="317.15" r="2.8"/><circle cx="466.22" cy="314.36" r="2.8"/><circle cx="466.54" cy="315.62" r="2.8"/><circle cx="466.87" cy="315.27" r="2.8"/><circle cx="467.19" cy="314.58" r="2.8"/><circle cx="467.52" cy="316.76" r="2.8"/><circle cx="467.85" cy="314.71" r="2.8"/><circle cx="468.17" cy="317.15" r="2.8"/><circle cx="468.5" cy="316.2" r="2.8"/><circle cx="468.82" cy="316.64" r="2.8"/><circle cx="469.15" cy="313.77" r="2.8"/><circle cx="469.47" cy="313.83" r="2.8"/><circle cx="469.8" cy="314.82" r="2.8"/><circle cx="470.12" cy="315.09" r="2.8"/><circle cx="470.45" cy="316.27" r="2.8"/><circle cx="470.77" cy="313.71" r="2.8"/><circle cx="471.1" cy="314.1" r="2.8"/><circle cx="471.42" cy="314.66" r="2.8"/><circle cx="471.75" cy="315.8" r="2.8"/><circle cx="472.07" cy="316.06" r="2.8"/><circle cx="472.4" cy="315.76" r="2.8"/><circle cx="472.72" cy="314.17" r="2.8"/><circle cx="473.05" cy="316.73" r="2.8"/><circle cx="473.37" cy="315.53" r="2.8"/><circle cx="473.7" cy="313.82" r="2.8"/><circle cx="474.03" cy="314.67" r="2.8"/><circle cx="474.35" cy="313.7" r="2.8"/><circle cx="474.68" cy="315.19" r="2.8"/><circle cx="475" cy="315.17" r="2.8"/><circle cx="475.33" cy="314.1" r="2.8"/><circle cx="475.65" cy="314.92" r="2.8"/><circle cx="475.98" cy="315.27" r="2.8"/><circle cx="476.3" cy="316.23" r="2.8"/><circle cx="476.63" cy="317.32" r="2.8"/><circle cx="476.95" cy="313.97" r="2.8"/><circle cx="477.28" cy="316.12" r="2.8"/><circle cx="477.6" cy="316.48" r="2.8"/><circle cx="477.93" cy="314.67" r="2.8"/><circle cx="478.25" cy="316.64" r="2.8"/><circle cx="478.58" cy="317.16" r="2.8"/><circle cx="478.9" cy="316.28" r="2.8"/><circle cx="479.23" cy="315.71" r="2.8"/><circle cx="479.56" cy="315.33" r="2.8"/><circle cx="479.88" cy="315.06" r="2.8"/><circle cx="480.21" cy="314.55" r="2.8"/><circle cx="480.53" cy="315.77" r="2.8"/><circle cx="480.86" cy="315.22" r="2.8"/><circle cx="481.18" cy="315.76" r="2.8"/><circle cx="481.51" cy="316.35" r="2.8"/><circle cx="481.83" cy="315.18" r="2.8"/><circle cx="482.16" cy="315.24" r="2.8"/><circle cx="482.48" cy="313.55" r="2.8"/><circle cx="482.81" cy="314.96" r="2.8"/><circle cx="483.13" cy="316.41" r="2.8"/><circle cx="483.46" cy="314.96" r="2.8"/><circle cx="483.78" cy="315.91" r="2.8"/><circle cx="484.11" cy="313.86" r="2.8"/><circle cx="484.43" cy="317.54" r="2.8"/><circle cx="484.76" cy="316.37" r="2.8"/><circle cx="485.08" cy="316.37" r="2.8"/><circle cx="485.41" cy="315.49" r="2.8"/><circle cx="485.74" cy="315.77" r="2.8"/><circle cx="486.06" cy="317.41" r="2.8"/><circle cx="486.39" cy="317.71" r="2.8"/><circle cx="486.71" cy="315.42" r="2.8"/><circle cx="487.04" cy="313.99" r="2.8"/><circle cx="487.36" cy="314" r="2.8"/><circle cx="487.69" cy="316.07" r="2.8"/><circle cx="488.01" cy="315.11" r="2.8"/><circle cx="488.34" cy="316.6" r="2.8"/><circle cx="488.66" cy="317.24" r="2.8"/><circle cx="488.99" cy="314.26" r="2.8"/><circle cx="489.31" cy="314.87" r="2.8"/><circle cx="489.64" cy="316" r="2.8"/><circle cx="489.96" cy="316.04" r="2.8"/><circle cx="490.29" cy="314.6" r="2.8"/><circle cx="490.61" cy="315.27" r="2.8"/><circle cx="490.94" cy="316" r="2.8"/><circle cx="491.27" cy="315.31" r="2.8"/><circle cx="491.59" cy="315.63" r="2.8"/><circle cx="491.92" cy="316.08" r="2.8"/><circle cx="492.24" cy="316.42" r="2.8"/><circle cx="492.57" cy="314.59" r="2.8"/><circle cx="492.89" cy="316.15" r="2.8"/><circle cx="493.22" cy="316.94" r="2.8"/><circle cx="493.54" cy="313.6" r="2.8"/><circle cx="493.87" cy="314.23" r="2.8"/><circle cx="494.19" cy="315.04" r="2.8"/><circle cx="494.52" cy="315.69" r="2.8"/><circle cx="494.84" cy="315.4" r="2.8"/><circle cx="495.17" cy="317.24" r="2.8"/><circle cx="495.49" cy="315.64" r="2.8"/><circle cx="495.82" cy="315.32" r="2.8"/><circle cx="496.14" cy="315.85" r="2.8"/><circle cx="496.47" cy="315.14" r="2.8"/><circle cx="496.8" cy="316.48" r="2.8"/><circle cx="497.12" cy="315.42" r="2.8"/><circle cx="497.45" cy="317.38" r="2.8"/><circle cx="497.77" cy="315.66" r="2.8"/><circle cx="498.1" cy="316.32" r="2.8"/><circle cx="498.42" cy="317.11" r="2.8"/><circle cx="498.75" cy="316.08" r="2.8"/><circle cx="499.07" cy="315.61" r="2.8"/><circle cx="499.4" cy="316.3" r="2.8"/><circle cx="499.72" cy="314.6" r="2.8"/><circle cx="500.05" cy="316.41" r="2.8"/><circle cx="500.37" cy="314.6" r="2.8"/><circle cx="500.7" cy="314.83" r="2.8"/><circle cx="501.02" cy="316.31" r="2.8"/><circle cx="501.35" cy="314.05" r="2.8"/><circle cx="501.67" cy="317.16" r="2.8"/><circle cx="502" cy="315.05" r="2.8"/><circle cx="502.32" cy="315.57" r="2.8"/><circle cx="502.65" cy="314.8" r="2.8"/><circle cx="502.98" cy="317.39" r="2.8"/><circle cx="503.3" cy="316.97" r="2.8"/><circle cx="503.63" cy="316.57" r="2.8"/><circle cx="503.95" cy="315.63" r="2.8"/><circle cx="504.28" cy="315.56" r="2.8"/><circle cx="504.6" cy="315.64" r="2.8"/><circle cx="504.93" cy="315.95" r="2.8"/><circle cx="505.25" cy="316.44" r="2.8"/><circle cx="505.58" cy="317.18" r="2.8"/><circle cx="505.9" cy="316.14" r="2.8"/><circle cx="506.23" cy="315.08" r="2.8"/><circle cx="506.55" cy="314.54" r="2.8"/><circle cx="506.88" cy="316.23" r="2.8"/><circle cx="507.2" cy="314.48" r="2.8"/><circle cx="507.53" cy="317.17" r="2.8"/><circle cx="507.85" cy="314.81" r="2.8"/><circle cx="508.18" cy="316.88" r="2.8"/><circle cx="508.51" cy="315.4" r="2.8"/><circle cx="508.83" cy="316.73" r="2.8"/><circle cx="509.16" cy="316.75" r="2.8"/><circle cx="509.48" cy="316.28" r="2.8"/><circle cx="509.81" cy="314.1" r="2.8"/><circle cx="510.13" cy="316.41" r="2.8"/><circle cx="510.46" cy="314.98" r="2.8"/><circle cx="510.78" cy="315.5" r="2.8"/><circle cx="511.11" cy="315.34" r="2.8"/><circle cx="511.43" cy="315.33" r="2.8"/><circle cx="511.76" cy="314.98" r="2.8"/><circle cx="512.08" cy="317" r="2.8"/><circle cx="512.41" cy="315.62" r="2.8"/><circle cx="512.73" cy="315.28" r="2.8"/><circle cx="513.06" cy="316.32" r="2.8"/><circle cx="513.38" cy="315.28" r="2.8"/><circle cx="513.71" cy="316.8" r="2.8"/><circle cx="514.04" cy="314.87" r="2.8"/><circle cx="514.36" cy="316.45" r="2.8"/><circle cx="514.69" cy="315.98" r="2.8"/><circle cx="515.01" cy="314.79" r="2.8"/><circle cx="515.34" cy="314.47" r="2.8"/><circle cx="515.66" cy="316.3" r="2.8"/><circle cx="515.99" cy="316.38" r="2.8"/><circle cx="516.31" cy="314.58" r="2.8"/><circle cx="516.64" cy="318.86" r="2.8"/><circle cx="516.96" cy="314.19" r="2.8"/><circle cx="517.29" cy="314.24" r="2.8"/><circle cx="517.61" cy="316.85" r="2.8"/><circle cx="517.94" cy="314.35" r="2.8"/><circle cx="518.26" cy="315.27" r="2.8"/><circle cx="518.59" cy="315.16" r="2.8"/><circle cx="518.91" cy="318.24" r="2.8"/><circle cx="519.24" cy="316.22" r="2.8"/><circle cx="519.56" cy="315.89" r="2.8"/><circle cx="519.89" cy="316.13" r="2.8"/><circle cx="520.22" cy="316.1" r="2.8"/><circle cx="520.54" cy="315.99" r="2.8"/><circle cx="520.87" cy="318.85" r="2.8"/><circle cx="521.19" cy="315.9" r="2.8"/><circle cx="521.52" cy="316.44" r="2.8"/><circle cx="521.84" cy="315.77" r="2.8"/><circle cx="522.17" cy="316.23" r="2.8"/><circle cx="522.49" cy="315.68" r="2.8"/><circle cx="522.82" cy="315.36" r="2.8"/><circle cx="523.14" cy="313.71" r="2.8"/><circle cx="523.47" cy="316.59" r="2.8"/><circle cx="523.79" cy="313.81" r="2.8"/><circle cx="524.12" cy="315.95" r="2.8"/><circle cx="524.44" cy="316.67" r="2.8"/><circle cx="524.77" cy="317.28" r="2.8"/><circle cx="525.09" cy="314.72" r="2.8"/><circle cx="525.42" cy="317.36" r="2.8"/><circle cx="525.75" cy="314.67" r="2.8"/><circle cx="526.07" cy="315.3" r="2.8"/><circle cx="526.4" cy="316.31" r="2.8"/><circle cx="526.72" cy="316.42" r="2.8"/><circle cx="527.05" cy="315.14" r="2.8"/><circle cx="527.37" cy="315.51" r="2.8"/><circle cx="527.7" cy="314.86" r="2.8"/><circle cx="528.02" cy="315.68" r="2.8"/><circle cx="528.35" cy="316.25" r="2.8"/><circle cx="528.67" cy="315.09" r="2.8"/><circle cx="529" cy="317.01" r="2.8"/><circle cx="529.32" cy="314.74" r="2.8"/><circle cx="529.65" cy="315.62" r="2.8"/><circle cx="529.97" cy="316.92" r="2.8"/><circle cx="530.3" cy="316.81" r="2.8"/><circle cx="530.62" cy="316.04" r="2.8"/><circle cx="530.95" cy="317.7" r="2.8"/><circle cx="531.27" cy="314.14" r="2.8"/><circle cx="531.6" cy="314.61" r="2.8"/><circle cx="531.93" cy="316.9" r="2.8"/><circle cx="532.25" cy="315.81" r="2.8"/><circle cx="532.58" cy="313.8" r="2.8"/><circle cx="532.9" cy="315.24" r="2.8"/><circle cx="533.23" cy="316.81" r="2.8"/><circle cx="533.55" cy="318.08" r="2.8"/><circle cx="533.88" cy="317.51" r="2.8"/><circle cx="534.2" cy="314.36" r="2.8"/><circle cx="534.53" cy="315.33" r="2.8"/><circle cx="534.85" cy="317.14" r="2.8"/><circle cx="535.18" cy="314.9" r="2.8"/><circle cx="535.5" cy="316.09" r="2.8"/><circle cx="535.83" cy="316.43" r="2.8"/><circle cx="536.15" cy="316.27" r="2.8"/><circle cx="536.48" cy="316.2" r="2.8"/><circle cx="536.8" cy="313.82" r="2.8"/><circle cx="537.13" cy="316.74" r="2.8"/><circle cx="537.46" cy="316.13" r="2.8"/><circle cx="537.78" cy="314.2" r="2.8"/><circle cx="538.11" cy="314" r="2.8"/><circle cx="538.43" cy="316.78" r="2.8"/><circle cx="538.76" cy="313.37" r="2.8"/><circle cx="539.08" cy="314.45" r="2.8"/><circle cx="539.41" cy="317.35" r="2.8"/><circle cx="539.73" cy="313.66" r="2.8"/><circle cx="540.06" cy="317.34" r="2.8"/><circle cx="540.38" cy="314.92" r="2.8"/><circle cx="540.71" cy="316.97" r="2.8"/><circle cx="541.03" cy="317.68" r="2.8"/><circle cx="541.36" cy="314.73" r="2.8"/><circle cx="541.68" cy="315.21" r="2.8"/><circle cx="542.01" cy="315.78" r="2.8"/><circle cx="542.33" cy="315.47" r="2.8"/><circle cx="542.66" cy="315.8" r="2.8"/><circle cx="542.99" cy="315.97" r="2.8"/><circle cx="543.31" cy="316.88" r="2.8"/><circle cx="543.64" cy="315.03" r="2.8"/><circle cx="543.96" cy="315.66" r="2.8"/><circle cx="544.29" cy="315.96" r="2.8"/><circle cx="544.61" cy="316.32" r="2.8"/><circle cx="544.94" cy="316" r="2.8"/><circle cx="545.26" cy="317.39" r="2.8"/><circle cx="545.59" cy="316.03" r="2.8"/><circle cx="545.91" cy="316.79" r="2.8"/><circle cx="546.24" cy="314.24" r="2.8"/><circle cx="546.56" cy="316.75" r="2.8"/><circle cx="546.89" cy="316.19" r="2.8"/><circle cx="547.21" cy="315.67" r="2.8"/><circle cx="547.54" cy="314.79" r="2.8"/><circle cx="547.86" cy="315.17" r="2.8"/><circle cx="548.19" cy="315.67" r="2.8"/><circle cx="548.51" cy="313.26" r="2.8"/><circle cx="548.84" cy="315.7" r="2.8"/><circle cx="549.17" cy="315.32" r="2.8"/><circle cx="549.49" cy="312.61" r="2.8"/><circle cx="549.82" cy="316.68" r="2.8"/><circle cx="550.14" cy="314.6" r="2.8"/><circle cx="550.47" cy="315.19" r="2.8"/><circle cx="550.79" cy="317.16" r="2.8"/><circle cx="551.12" cy="316.38" r="2.8"/><circle cx="551.44" cy="314.75" r="2.8"/><circle cx="551.77" cy="317.31" r="2.8"/><circle cx="552.09" cy="315.89" r="2.8"/><circle cx="552.42" cy="314.64" r="2.8"/><circle cx="552.74" cy="315.95" r="2.8"/><circle cx="553.07" cy="315.38" r="2.8"/><circle cx="553.39" cy="316.43" r="2.8"/><circle cx="553.72" cy="316.39" r="2.8"/><circle cx="554.04" cy="316.37" r="2.8"/><circle cx="554.37" cy="316.08" r="2.8"/><circle cx="554.7" cy="314.97" r="2.8"/><circle cx="555.02" cy="315.6" r="2.8"/><circle cx="555.35" cy="313.47" r="2.8"/><circle cx="555.67" cy="315.07" r="2.8"/><circle cx="556" cy="315.37" r="2.8"/><circle cx="556.32" cy="313.16" r="2.8"/><circle cx="556.65" cy="315.81" r="2.8"/><circle cx="556.97" cy="316.59" r="2.8"/><circle cx="557.3" cy="315.51" r="2.8"/><circle cx="557.62" cy="316.91" r="2.8"/><circle cx="557.95" cy="315.1" r="2.8"/><circle cx="558.27" cy="314.15" r="2.8"/><circle cx="558.6" cy="314.97" r="2.8"/><circle cx="558.92" cy="316.14" r="2.8"/><circle cx="559.25" cy="315.85" r="2.8"/><circle cx="559.57" cy="315.14" r="2.8"/><circle cx="559.9" cy="314.36" r="2.8"/><circle cx="560.23" cy="316.13" r="2.8"/><circle cx="560.55" cy="316.15" r="2.8"/><circle cx="560.88" cy="314.46" r="2.8"/><circle cx="561.2" cy="315.44" r="2.8"/><circle cx="561.53" cy="315.3" r="2.8"/><circle cx="561.85" cy="315.14" r="2.8"/><circle cx="562.18" cy="316.55" r="2.8"/><circle cx="562.5" cy="315.85" r="2.8"/><circle cx="562.83" cy="314.49" r="2.8"/><circle cx="563.15" cy="315.86" r="2.8"/><circle cx="563.48" cy="315.9" r="2.8"/><circle cx="563.8" cy="315.35" r="2.8"/><circle cx="564.13" cy="315.24" r="2.8"/><circle cx="564.45" cy="312.82" r="2.8"/><circle cx="564.78" cy="316.59" r="2.8"/><circle cx="565.1" cy="315.52" r="2.8"/><circle cx="565.43" cy="313.41" r="2.8"/><circle cx="565.75" cy="315.64" r="2.8"/><circle cx="566.08" cy="315.25" r="2.8"/><circle cx="566.41" cy="317.31" r="2.8"/><circle cx="566.73" cy="314.58" r="2.8"/><circle cx="567.06" cy="314.7" r="2.8"/><circle cx="567.38" cy="314.76" r="2.8"/><circle cx="567.71" cy="315.88" r="2.8"/><circle cx="568.03" cy="315.26" r="2.8"/><circle cx="568.36" cy="315.75" r="2.8"/><circle cx="568.68" cy="314.72" r="2.8"/><circle cx="569.01" cy="315.69" r="2.8"/><circle cx="569.33" cy="314.79" r="2.8"/><circle cx="569.66" cy="317.18" r="2.8"/><circle cx="569.98" cy="316.05" r="2.8"/><circle cx="570.31" cy="318.88" r="2.8"/><circle cx="570.63" cy="315.84" r="2.8"/><circle cx="570.96" cy="314.81" r="2.8"/><circle cx="571.28" cy="315.97" r="2.8"/><circle cx="571.61" cy="313.03" r="2.8"/><circle cx="571.94" cy="316.79" r="2.8"/><circle cx="572.26" cy="316.06" r="2.8"/><circle cx="572.59" cy="316.72" r="2.8"/><circle cx="572.91" cy="316.24" r="2.8"/><circle cx="573.24" cy="316.21" r="2.8"/><circle cx="573.56" cy="317.33" r="2.8"/><circle cx="573.89" cy="316.78" r="2.8"/><circle cx="574.21" cy="313.4" r="2.8"/><circle cx="574.54" cy="315.97" r="2.8"/><circle cx="574.86" cy="314.65" r="2.8"/><circle cx="575.19" cy="317.11" r="2.8"/><circle cx="575.51" cy="315.81" r="2.8"/><circle cx="575.84" cy="315.07" r="2.8"/><circle cx="576.16" cy="315.87" r="2.8"/><circle cx="576.49" cy="316.26" r="2.8"/><circle cx="576.81" cy="315.89" r="2.8"/><circle cx="577.14" cy="315.65" r="2.8"/><circle cx="577.46" cy="314.74" r="2.8"/><circle cx="577.79" cy="314.32" r="2.8"/><circle cx="578.12" cy="317.16" r="2.8"/><circle cx="578.44" cy="317.99" r="2.8"/><circle cx="578.77" cy="315.9" r="2.8"/><circle cx="579.09" cy="315.68" r="2.8"/><circle cx="579.42" cy="314.88" r="2.8"/><circle cx="579.74" cy="314.48" r="2.8"/><circle cx="580.07" cy="316.43" r="2.8"/><circle cx="580.39" cy="313.36" r="2.8"/><circle cx="580.72" cy="315.39" r="2.8"/><circle cx="581.04" cy="317.67" r="2.8"/><circle cx="581.37" cy="314.6" r="2.8"/><circle cx="581.69" cy="315.37" r="2.8"/><circle cx="582.02" cy="315.36" r="2.8"/><circle cx="582.34" cy="317.47" r="2.8"/><circle cx="582.67" cy="316.02" r="2.8"/><circle cx="582.99" cy="315.5" r="2.8"/><circle cx="583.32" cy="315.86" r="2.8"/><circle cx="583.65" cy="314.91" r="2.8"/><circle cx="583.97" cy="314.27" r="2.8"/><circle cx="584.3" cy="313.97" r="2.8"/><circle cx="584.62" cy="314.27" r="2.8"/><circle cx="584.95" cy="315.85" r="2.8"/><circle cx="585.27" cy="313.75" r="2.8"/><circle cx="585.6" cy="315.39" r="2.8"/><circle cx="585.92" cy="314.72" r="2.8"/><circle cx="586.25" cy="315.95" r="2.8"/><circle cx="586.57" cy="317.25" r="2.8"/><circle cx="586.9" cy="318.23" r="2.8"/><circle cx="587.22" cy="315.47" r="2.8"/><circle cx="587.55" cy="316.44" r="2.8"/><circle cx="587.87" cy="315.69" r="2.8"/><circle cx="588.2" cy="314.68" r="2.8"/><circle cx="588.52" cy="317.4" r="2.8"/><circle cx="588.85" cy="317.66" r="2.8"/><circle cx="589.18" cy="315.39" r="2.8"/><circle cx="589.5" cy="315.27" r="2.8"/><circle cx="589.83" cy="315.99" r="2.8"/><circle cx="590.15" cy="316.27" r="2.8"/><circle cx="590.48" cy="317.47" r="2.8"/><circle cx="590.8" cy="315.78" r="2.8"/><circle cx="591.13" cy="316.52" r="2.8"/><circle cx="591.45" cy="315.2" r="2.8"/><circle cx="591.78" cy="314.62" r="2.8"/><circle cx="592.1" cy="316.31" r="2.8"/><circle cx="592.43" cy="315.21" r="2.8"/><circle cx="592.75" cy="315.47" r="2.8"/><circle cx="593.08" cy="314.89" r="2.8"/><circle cx="593.4" cy="313.96" r="2.8"/><circle cx="593.73" cy="314.94" r="2.8"/><circle cx="594.05" cy="314.88" r="2.8"/><circle cx="594.38" cy="314.79" r="2.8"/><circle cx="594.7" cy="316.16" r="2.8"/><circle cx="595.03" cy="315.69" r="2.8"/><circle cx="595.36" cy="315.29" r="2.8"/><circle cx="595.68" cy="314.29" r="2.8"/><circle cx="596.01" cy="314.22" r="2.8"/><circle cx="596.33" cy="313.12" r="2.8"/><circle cx="596.66" cy="316.91" r="2.8"/><circle cx="596.98" cy="315.73" r="2.8"/><circle cx="597.31" cy="317.63" r="2.8"/><circle cx="597.63" cy="316.29" r="2.8"/><circle cx="597.96" cy="317.53" r="2.8"/><circle cx="598.28" cy="314.37" r="2.8"/><circle cx="598.61" cy="314.83" r="2.8"/><circle cx="598.93" cy="316.89" r="2.8"/><circle cx="599.26" cy="315.3" r="2.8"/><circle cx="599.58" cy="314.85" r="2.8"/><circle cx="599.91" cy="313.72" r="2.8"/><circle cx="600.23" cy="314.75" r="2.8"/><circle cx="600.56" cy="315.54" r="2.8"/><circle cx="600.89" cy="315.78" r="2.8"/><circle cx="601.21" cy="314.98" r="2.8"/><circle cx="601.54" cy="315.34" r="2.8"/><circle cx="601.86" cy="316.22" r="2.8"/><circle cx="602.19" cy="317.05" r="2.8"/><circle cx="602.51" cy="314.49" r="2.8"/><circle cx="602.84" cy="316.49" r="2.8"/><circle cx="603.16" cy="315.99" r="2.8"/><circle cx="603.49" cy="314.78" r="2.8"/><circle cx="603.81" cy="315.74" r="2.8"/><circle cx="604.14" cy="314.41" r="2.8"/><circle cx="604.46" cy="316.94" r="2.8"/><circle cx="604.79" cy="314.82" r="2.8"/><circle cx="605.11" cy="317.18" r="2.8"/><circle cx="605.44" cy="317.37" r="2.8"/><circle cx="605.76" cy="316.86" r="2.8"/><circle cx="606.09" cy="315.55" r="2.8"/><circle cx="606.42" cy="316.44" r="2.8"/><circle cx="606.74" cy="317.24" r="2.8"/><circle cx="607.07" cy="314.33" r="2.8"/><circle cx="607.39" cy="316.76" r="2.8"/><circle cx="607.72" cy="315.81" r="2.8"/><circle cx="608.04" cy="315.4" r="2.8"/><circle cx="608.37" cy="316.22" r="2.8"/><circle cx="608.69" cy="315.27" r="2.8"/><circle cx="609.02" cy="314.99" r="2.8"/><circle cx="609.34" cy="315.8" r="2.8"/><circle cx="609.67" cy="314.51" r="2.8"/><circle cx="609.99" cy="316.35" r="2.8"/><circle cx="610.32" cy="316.87" r="2.8"/><circle cx="610.64" cy="315.45" r="2.8"/><circle cx="610.97" cy="316.77" r="2.8"/><circle cx="611.29" cy="315.26" r="2.8"/><circle cx="611.62" cy="315.8" r="2.8"/><circle cx="611.94" cy="316.21" r="2.8"/><circle cx="612.27" cy="315.03" r="2.8"/><circle cx="612.6" cy="315.08" r="2.8"/><circle cx="612.92" cy="319.02" r="2.8"/><circle cx="613.25" cy="316.04" r="2.8"/><circle cx="613.57" cy="315.53" r="2.8"/><circle cx="613.9" cy="315.13" r="2.8"/><circle cx="614.22" cy="316.3" r="2.8"/><circle cx="614.55" cy="316.98" r="2.8"/><circle cx="614.87" cy="315.54" r="2.8"/><circle cx="615.2" cy="314.92" r="2.8"/><circle cx="615.52" cy="318" r="2.8"/><circle cx="615.85" cy="317.38" r="2.8"/><circle cx="616.17" cy="316.35" r="2.8"/><circle cx="616.5" cy="318.6" r="2.8"/><circle cx="616.82" cy="316.36" r="2.8"/><circle cx="617.15" cy="314.76" r="2.8"/><circle cx="617.47" cy="316.88" r="2.8"/><circle cx="617.8" cy="315.53" r="2.8"/><circle cx="618.13" cy="316.69" r="2.8"/><circle cx="618.45" cy="315.21" r="2.8"/><circle cx="618.78" cy="314.95" r="2.8"/><circle cx="619.1" cy="314.22" r="2.8"/><circle cx="619.43" cy="315.6" r="2.8"/><circle cx="619.75" cy="314.5" r="2.8"/><circle cx="620.08" cy="315.23" r="2.8"/><circle cx="620.4" cy="316.22" r="2.8"/><circle cx="620.73" cy="314.02" r="2.8"/><circle cx="621.05" cy="316.36" r="2.8"/><circle cx="621.38" cy="315.49" r="2.8"/><circle cx="621.7" cy="312.92" r="2.8"/><circle cx="622.03" cy="314.71" r="2.8"/><circle cx="622.35" cy="316.61" r="2.8"/><circle cx="622.68" cy="315.35" r="2.8"/><circle cx="623" cy="316.31" r="2.8"/><circle cx="623.33" cy="315.85" r="2.8"/><circle cx="623.65" cy="317.39" r="2.8"/><circle cx="623.98" cy="315.45" r="2.8"/><circle cx="624.31" cy="317.45" r="2.8"/><circle cx="624.63" cy="315.29" r="2.8"/><circle cx="624.96" cy="315.29" r="2.8"/><circle cx="625.28" cy="314.76" r="2.8"/><circle cx="625.61" cy="313.21" r="2.8"/><circle cx="625.93" cy="317.6" r="2.8"/><circle cx="626.26" cy="317.09" r="2.8"/><circle cx="626.58" cy="316.87" r="2.8"/><circle cx="626.91" cy="316.39" r="2.8"/><circle cx="627.23" cy="314.77" r="2.8"/><circle cx="627.56" cy="316.15" r="2.8"/><circle cx="627.88" cy="316.44" r="2.8"/><circle cx="628.21" cy="317.06" r="2.8"/><circle cx="628.53" cy="316.5" r="2.8"/><circle cx="628.86" cy="316.29" r="2.8"/><circle cx="629.18" cy="315.92" r="2.8"/><circle cx="629.51" cy="317.43" r="2.8"/><circle cx="629.84" cy="315.9" r="2.8"/><circle cx="630.16" cy="315.18" r="2.8"/><circle cx="630.49" cy="315.44" r="2.8"/><circle cx="630.81" cy="317.24" r="2.8"/><circle cx="631.14" cy="314.92" r="2.8"/><circle cx="631.46" cy="314.94" r="2.8"/><circle cx="631.79" cy="315.52" r="2.8"/><circle cx="632.11" cy="317.25" r="2.8"/><circle cx="632.44" cy="317.53" r="2.8"/><circle cx="632.76" cy="315.83" r="2.8"/><circle cx="633.09" cy="317.04" r="2.8"/><circle cx="633.41" cy="317.4" r="2.8"/><circle cx="633.74" cy="314.89" r="2.8"/><circle cx="634.06" cy="314.87" r="2.8"/><circle cx="634.39" cy="315.18" r="2.8"/><circle cx="634.71" cy="314.44" r="2.8"/><circle cx="635.04" cy="314.9" r="2.8"/><circle cx="635.37" cy="317.24" r="2.8"/><circle cx="635.69" cy="314.64" r="2.8"/><circle cx="636.02" cy="315.81" r="2.8"/><circle cx="636.34" cy="315.45" r="2.8"/><circle cx="636.67" cy="314.18" r="2.8"/><circle cx="636.99" cy="315.46" r="2.8"/><circle cx="637.32" cy="314.19" r="2.8"/><circle cx="637.64" cy="315.91" r="2.8"/><circle cx="637.97" cy="316.41" r="2.8"/><circle cx="638.29" cy="316.79" r="2.8"/><circle cx="638.62" cy="316.15" r="2.8"/><circle cx="638.94" cy="317.9" r="2.8"/><circle cx="639.27" cy="316.08" r="2.8"/><circle cx="639.59" cy="316.15" r="2.8"/><circle cx="639.92" cy="316.63" r="2.8"/><circle cx="640.24" cy="318.55" r="2.8"/><circle cx="640.57" cy="318.47" r="2.8"/><circle cx="640.89" cy="315.24" r="2.8"/><circle cx="641.22" cy="317.13" r="2.8"/><circle cx="641.55" cy="314.51" r="2.8"/><circle cx="641.87" cy="316.87" r="2.8"/><circle cx="642.2" cy="315.66" r="2.8"/><circle cx="642.52" cy="317.71" r="2.8"/><circle cx="642.85" cy="316.81" r="2.8"/><circle cx="643.17" cy="316.34" r="2.8"/><circle cx="643.5" cy="315.44" r="2.8"/><circle cx="643.82" cy="314.2" r="2.8"/><circle cx="644.15" cy="315.02" r="2.8"/><circle cx="644.47" cy="317.76" r="2.8"/><circle cx="644.8" cy="316.12" r="2.8"/><circle cx="645.12" cy="316.32" r="2.8"/><circle cx="645.45" cy="316.86" r="2.8"/><circle cx="645.77" cy="315.48" r="2.8"/><circle cx="646.1" cy="314.36" r="2.8"/><circle cx="646.42" cy="316.67" r="2.8"/><circle cx="646.75" cy="314.9" r="2.8"/><circle cx="647.08" cy="314.59" r="2.8"/><circle cx="647.4" cy="317.38" r="2.8"/><circle cx="647.73" cy="314.17" r="2.8"/><circle cx="648.05" cy="314.28" r="2.8"/><circle cx="648.38" cy="315.86" r="2.8"/><circle cx="648.7" cy="314.27" r="2.8"/><circle cx="649.03" cy="315.93" r="2.8"/><circle cx="649.35" cy="314.91" r="2.8"/><circle cx="649.68" cy="315.49" r="2.8"/><circle cx="650" cy="317.21" r="2.8"/><circle cx="650.33" cy="315.94" r="2.8"/><circle cx="650.65" cy="316.43" r="2.8"/><circle cx="650.98" cy="316.81" r="2.8"/><circle cx="651.3" cy="317.56" r="2.8"/><circle cx="651.63" cy="317.15" r="2.8"/><circle cx="651.95" cy="317.67" r="2.8"/><circle cx="652.28" cy="314.99" r="2.8"/><circle cx="652.61" cy="318.5" r="2.8"/><circle cx="652.93" cy="316.2" r="2.8"/><circle cx="653.26" cy="316.99" r="2.8"/><circle cx="653.58" cy="317.72" r="2.8"/><circle cx="653.91" cy="315.49" r="2.8"/><circle cx="654.23" cy="317.22" r="2.8"/><circle cx="654.56" cy="314.96" r="2.8"/><circle cx="654.88" cy="316.53" r="2.8"/><circle cx="655.21" cy="315.96" r="2.8"/><circle cx="655.53" cy="316.49" r="2.8"/><circle cx="655.86" cy="315.61" r="2.8"/><circle cx="656.18" cy="315.29" r="2.8"/><circle cx="656.51" cy="316.87" r="2.8"/><circle cx="656.83" cy="316.38" r="2.8"/><circle cx="657.16" cy="314.39" r="2.8"/><circle cx="657.48" cy="317.04" r="2.8"/><circle cx="657.81" cy="314.34" r="2.8"/><circle cx="658.13" cy="316.84" r="2.8"/><circle cx="658.46" cy="317.04" r="2.8"/><circle cx="658.79" cy="318.32" r="2.8"/><circle cx="659.11" cy="317.38" r="2.8"/><circle cx="659.44" cy="318.4" r="2.8"/><circle cx="659.76" cy="317.08" r="2.8"/><circle cx="660.09" cy="315.66" r="2.8"/><circle cx="660.41" cy="316.52" r="2.8"/><circle cx="660.74" cy="317.14" r="2.8"/><circle cx="661.06" cy="317.62" r="2.8"/><circle cx="661.39" cy="317.25" r="2.8"/><circle cx="661.71" cy="318.12" r="2.8"/><circle cx="662.04" cy="317.92" r="2.8"/><circle cx="662.36" cy="314.28" r="2.8"/><circle cx="662.69" cy="316.22" r="2.8"/><circle cx="663.01" cy="317.57" r="2.8"/><circle cx="663.34" cy="315.81" r="2.8"/><circle cx="663.66" cy="314.91" r="2.8"/><circle cx="663.99" cy="317.38" r="2.8"/><circle cx="664.32" cy="316.82" r="2.8"/><circle cx="664.64" cy="318.16" r="2.8"/><circle cx="664.97" cy="318.58" r="2.8"/><circle cx="665.29" cy="315.25" r="2.8"/><circle cx="665.62" cy="312.98" r="2.8"/><circle cx="665.94" cy="317.73" r="2.8"/><circle cx="666.27" cy="318.78" r="2.8"/><circle cx="666.59" cy="315.37" r="2.8"/><circle cx="666.92" cy="315.82" r="2.8"/><circle cx="667.24" cy="316.52" r="2.8"/><circle cx="667.57" cy="315.43" r="2.8"/><circle cx="667.89" cy="317.52" r="2.8"/><circle cx="668.22" cy="316.87" r="2.8"/><circle cx="668.54" cy="316.33" r="2.8"/><circle cx="668.87" cy="317.62" r="2.8"/><circle cx="669.19" cy="316.76" r="2.8"/><circle cx="669.52" cy="317.61" r="2.8"/><circle cx="669.84" cy="316.87" r="2.8"/><circle cx="670.17" cy="317.24" r="2.8"/><circle cx="670.5" cy="319.71" r="2.8"/><circle cx="670.82" cy="317.4" r="2.8"/><circle cx="671.15" cy="319.17" r="2.8"/><circle cx="671.47" cy="318.55" r="2.8"/><circle cx="671.8" cy="319.51" r="2.8"/><circle cx="672.12" cy="316.75" r="2.8"/><circle cx="672.45" cy="318.08" r="2.8"/><circle cx="672.77" cy="318.19" r="2.8"/><circle cx="673.1" cy="316.38" r="2.8"/><circle cx="673.42" cy="317.03" r="2.8"/><circle cx="673.75" cy="318.11" r="2.8"/><circle cx="674.07" cy="320.27" r="2.8"/><circle cx="674.4" cy="317.21" r="2.8"/><circle cx="674.72" cy="318.29" r="2.8"/><circle cx="675.05" cy="318.45" r="2.8"/><circle cx="675.37" cy="317.24" r="2.8"/><circle cx="675.7" cy="318.83" r="2.8"/><circle cx="415.8" cy="318.11" r="2.8"/><circle cx="416.32" cy="315.69" r="2.8"/><circle cx="674.92" cy="318.92" r="2.8"/><circle cx="675.7" cy="317.3" r="2.8"/></g><g fill="none" stroke="#E6531C" stroke-width="1.0" stroke-linejoin="miter"><path d="M413.72 261.23h5.2l-2.6 4.6z"/><path d="M414.9 253.7h5.2l-2.6 4.6z"/><path d="M416.08 252.18h5.2l-2.6 4.6z"/><path d="M417.26 255.46h5.2l-2.6 4.6z"/><path d="M418.44 244.26h5.2l-2.6 4.6z"/><path d="M419.62 244.18h5.2l-2.6 4.6z"/><path d="M420.8 239.59h5.2l-2.6 4.6z"/><path d="M421.98 246.94h5.2l-2.6 4.6z"/><path d="M423.16 244.4h5.2l-2.6 4.6z"/><path d="M424.34 238.65h5.2l-2.6 4.6z"/><path d="M425.52 239.35h5.2l-2.6 4.6z"/><path d="M426.7 238.67h5.2l-2.6 4.6z"/><path d="M427.88 237.72h5.2l-2.6 4.6z"/><path d="M429.06 237.36h5.2l-2.6 4.6z"/><path d="M430.23 238.05h5.2l-2.6 4.6z"/><path d="M431.41 237.15h5.2l-2.6 4.6z"/><path d="M432.59 231.61h5.2l-2.6 4.6z"/><path d="M433.77 235.09h5.2l-2.6 4.6z"/><path d="M434.95 240.43h5.2l-2.6 4.6z"/><path d="M436.13 234.33h5.2l-2.6 4.6z"/><path d="M437.31 227.62h5.2l-2.6 4.6z"/><path d="M438.49 229.36h5.2l-2.6 4.6z"/><path d="M439.67 244.76h5.2l-2.6 4.6z"/><path d="M440.85 240.01h5.2l-2.6 4.6z"/><path d="M442.03 233.25h5.2l-2.6 4.6z"/><path d="M443.21 237h5.2l-2.6 4.6z"/><path d="M444.39 237.68h5.2l-2.6 4.6z"/><path d="M445.57 239.21h5.2l-2.6 4.6z"/><path d="M446.75 239.01h5.2l-2.6 4.6z"/><path d="M447.93 244.44h5.2l-2.6 4.6z"/><path d="M449.11 235.3h5.2l-2.6 4.6z"/><path d="M450.29 245.83h5.2l-2.6 4.6z"/><path d="M451.47 242.47h5.2l-2.6 4.6z"/><path d="M452.65 235.8h5.2l-2.6 4.6z"/><path d="M453.83 238.77h5.2l-2.6 4.6z"/><path d="M455.01 244.6h5.2l-2.6 4.6z"/><path d="M456.19 245.58h5.2l-2.6 4.6z"/><path d="M457.37 249.17h5.2l-2.6 4.6z"/><path d="M458.55 249.72h5.2l-2.6 4.6z"/><path d="M459.73 249.53h5.2l-2.6 4.6z"/><path d="M460.91 243.14h5.2l-2.6 4.6z"/><path d="M462.08 251.48h5.2l-2.6 4.6z"/><path d="M463.26 247.54h5.2l-2.6 4.6z"/><path d="M464.44 248.62h5.2l-2.6 4.6z"/><path d="M465.62 249.22h5.2l-2.6 4.6z"/><path d="M466.8 252.75h5.2l-2.6 4.6z"/><path d="M467.98 248.56h5.2l-2.6 4.6z"/><path d="M469.16 250.61h5.2l-2.6 4.6z"/><path d="M470.34 250.4h5.2l-2.6 4.6z"/><path d="M471.52 252.43h5.2l-2.6 4.6z"/><path d="M472.7 259.37h5.2l-2.6 4.6z"/><path d="M473.88 246.12h5.2l-2.6 4.6z"/><path d="M475.06 245.51h5.2l-2.6 4.6z"/><path d="M476.24 250.66h5.2l-2.6 4.6z"/><path d="M477.42 248.85h5.2l-2.6 4.6z"/><path d="M478.6 246.42h5.2l-2.6 4.6z"/><path d="M479.78 251.63h5.2l-2.6 4.6z"/><path d="M480.96 243.82h5.2l-2.6 4.6z"/><path d="M482.14 243.43h5.2l-2.6 4.6z"/><path d="M483.32 242.44h5.2l-2.6 4.6z"/><path d="M484.5 241.76h5.2l-2.6 4.6z"/><path d="M485.68 253.87h5.2l-2.6 4.6z"/><path d="M486.86 242.51h5.2l-2.6 4.6z"/><path d="M488.04 246.03h5.2l-2.6 4.6z"/><path d="M489.22 238.43h5.2l-2.6 4.6z"/><path d="M490.4 237.93h5.2l-2.6 4.6z"/><path d="M491.58 238.27h5.2l-2.6 4.6z"/><path d="M492.76 241.51h5.2l-2.6 4.6z"/><path d="M493.94 228.03h5.2l-2.6 4.6z"/><path d="M495.11 239.9h5.2l-2.6 4.6z"/><path d="M496.29 243.54h5.2l-2.6 4.6z"/><path d="M497.47 234.93h5.2l-2.6 4.6z"/><path d="M498.65 245.99h5.2l-2.6 4.6z"/><path d="M499.83 231.45h5.2l-2.6 4.6z"/><path d="M501.01 235.82h5.2l-2.6 4.6z"/><path d="M502.19 234.81h5.2l-2.6 4.6z"/><path d="M503.37 236.41h5.2l-2.6 4.6z"/><path d="M504.55 239.64h5.2l-2.6 4.6z"/><path d="M505.73 247.7h5.2l-2.6 4.6z"/><path d="M506.91 244.98h5.2l-2.6 4.6z"/><path d="M508.09 240.29h5.2l-2.6 4.6z"/><path d="M509.27 244.13h5.2l-2.6 4.6z"/><path d="M510.45 242.06h5.2l-2.6 4.6z"/><path d="M511.63 247.11h5.2l-2.6 4.6z"/><path d="M512.81 247.98h5.2l-2.6 4.6z"/><path d="M513.99 243.6h5.2l-2.6 4.6z"/><path d="M515.17 242.05h5.2l-2.6 4.6z"/><path d="M516.35 245.71h5.2l-2.6 4.6z"/><path d="M517.53 250.44h5.2l-2.6 4.6z"/><path d="M518.71 253.88h5.2l-2.6 4.6z"/><path d="M519.89 238.01h5.2l-2.6 4.6z"/><path d="M521.07 252.09h5.2l-2.6 4.6z"/><path d="M522.25 251.03h5.2l-2.6 4.6z"/><path d="M523.43 250.52h5.2l-2.6 4.6z"/><path d="M524.61 243.49h5.2l-2.6 4.6z"/><path d="M525.79 250.9h5.2l-2.6 4.6z"/><path d="M526.96 245.28h5.2l-2.6 4.6z"/><path d="M528.14 246.68h5.2l-2.6 4.6z"/><path d="M529.32 253.49h5.2l-2.6 4.6z"/><path d="M530.5 248.22h5.2l-2.6 4.6z"/><path d="M531.68 254.77h5.2l-2.6 4.6z"/><path d="M532.86 250.56h5.2l-2.6 4.6z"/><path d="M534.04 247.08h5.2l-2.6 4.6z"/><path d="M535.22 252h5.2l-2.6 4.6z"/><path d="M536.4 255.59h5.2l-2.6 4.6z"/><path d="M537.58 254.04h5.2l-2.6 4.6z"/><path d="M538.76 253.63h5.2l-2.6 4.6z"/><path d="M539.94 251.95h5.2l-2.6 4.6z"/><path d="M541.12 264.16h5.2l-2.6 4.6z"/><path d="M542.3 262.8h5.2l-2.6 4.6z"/><path d="M543.48 252.76h5.2l-2.6 4.6z"/><path d="M544.66 254.72h5.2l-2.6 4.6z"/><path d="M545.84 253.42h5.2l-2.6 4.6z"/><path d="M547.02 251.81h5.2l-2.6 4.6z"/><path d="M548.2 252.74h5.2l-2.6 4.6z"/><path d="M549.38 253.29h5.2l-2.6 4.6z"/><path d="M550.56 250.09h5.2l-2.6 4.6z"/><path d="M551.74 246.91h5.2l-2.6 4.6z"/><path d="M552.92 247.62h5.2l-2.6 4.6z"/><path d="M554.1 248.3h5.2l-2.6 4.6z"/><path d="M555.28 252.24h5.2l-2.6 4.6z"/><path d="M556.46 245.89h5.2l-2.6 4.6z"/><path d="M557.64 251.28h5.2l-2.6 4.6z"/><path d="M558.82 248.45h5.2l-2.6 4.6z"/><path d="M559.99 244.56h5.2l-2.6 4.6z"/><path d="M561.17 244.42h5.2l-2.6 4.6z"/><path d="M562.35 239.85h5.2l-2.6 4.6z"/><path d="M563.53 240.51h5.2l-2.6 4.6z"/><path d="M564.71 241.96h5.2l-2.6 4.6z"/><path d="M565.89 245.26h5.2l-2.6 4.6z"/><path d="M567.07 243.62h5.2l-2.6 4.6z"/><path d="M568.25 244.35h5.2l-2.6 4.6z"/><path d="M569.43 235.34h5.2l-2.6 4.6z"/><path d="M570.61 240.51h5.2l-2.6 4.6z"/><path d="M571.79 244.94h5.2l-2.6 4.6z"/><path d="M572.97 245.36h5.2l-2.6 4.6z"/><path d="M574.15 235.75h5.2l-2.6 4.6z"/><path d="M575.33 244.58h5.2l-2.6 4.6z"/><path d="M576.51 238.7h5.2l-2.6 4.6z"/><path d="M577.69 239.09h5.2l-2.6 4.6z"/><path d="M578.87 234.75h5.2l-2.6 4.6z"/><path d="M580.05 242.84h5.2l-2.6 4.6z"/><path d="M581.23 236.52h5.2l-2.6 4.6z"/><path d="M582.41 237.29h5.2l-2.6 4.6z"/><path d="M583.59 234.55h5.2l-2.6 4.6z"/><path d="M584.77 231.96h5.2l-2.6 4.6z"/><path d="M585.95 237.35h5.2l-2.6 4.6z"/><path d="M587.13 238.66h5.2l-2.6 4.6z"/><path d="M588.31 233.7h5.2l-2.6 4.6z"/><path d="M589.49 243.62h5.2l-2.6 4.6z"/><path d="M590.67 236.78h5.2l-2.6 4.6z"/><path d="M591.85 242.29h5.2l-2.6 4.6z"/><path d="M593.02 243.65h5.2l-2.6 4.6z"/><path d="M594.2 245.65h5.2l-2.6 4.6z"/><path d="M595.38 246.34h5.2l-2.6 4.6z"/><path d="M596.56 235.79h5.2l-2.6 4.6z"/><path d="M597.74 235.98h5.2l-2.6 4.6z"/><path d="M598.92 240.27h5.2l-2.6 4.6z"/><path d="M600.1 237.09h5.2l-2.6 4.6z"/><path d="M601.28 242.42h5.2l-2.6 4.6z"/><path d="M602.46 245.65h5.2l-2.6 4.6z"/><path d="M603.64 249.13h5.2l-2.6 4.6z"/><path d="M604.82 241.93h5.2l-2.6 4.6z"/><path d="M606 242.64h5.2l-2.6 4.6z"/><path d="M607.18 241.59h5.2l-2.6 4.6z"/><path d="M608.36 251.39h5.2l-2.6 4.6z"/><path d="M609.54 249.21h5.2l-2.6 4.6z"/><path d="M610.72 253.99h5.2l-2.6 4.6z"/><path d="M611.9 243.12h5.2l-2.6 4.6z"/><path d="M613.08 245.13h5.2l-2.6 4.6z"/><path d="M614.26 246.08h5.2l-2.6 4.6z"/><path d="M615.44 248.49h5.2l-2.6 4.6z"/><path d="M616.62 249.15h5.2l-2.6 4.6z"/><path d="M617.8 250.2h5.2l-2.6 4.6z"/><path d="M618.98 243.75h5.2l-2.6 4.6z"/><path d="M620.16 251.04h5.2l-2.6 4.6z"/><path d="M621.34 244.08h5.2l-2.6 4.6z"/><path d="M622.52 246.45h5.2l-2.6 4.6z"/><path d="M623.7 251.85h5.2l-2.6 4.6z"/><path d="M624.87 253.51h5.2l-2.6 4.6z"/><path d="M626.05 250.31h5.2l-2.6 4.6z"/><path d="M627.23 246.77h5.2l-2.6 4.6z"/><path d="M628.41 252h5.2l-2.6 4.6z"/><path d="M629.59 242.82h5.2l-2.6 4.6z"/><path d="M630.77 239.48h5.2l-2.6 4.6z"/><path d="M631.95 240.98h5.2l-2.6 4.6z"/><path d="M633.13 249.71h5.2l-2.6 4.6z"/><path d="M634.31 251.5h5.2l-2.6 4.6z"/><path d="M635.49 236.25h5.2l-2.6 4.6z"/><path d="M636.67 232.41h5.2l-2.6 4.6z"/><path d="M637.85 240.45h5.2l-2.6 4.6z"/><path d="M639.03 236.16h5.2l-2.6 4.6z"/><path d="M640.21 239.4h5.2l-2.6 4.6z"/><path d="M641.39 240.78h5.2l-2.6 4.6z"/><path d="M642.57 233.37h5.2l-2.6 4.6z"/><path d="M643.75 239.92h5.2l-2.6 4.6z"/><path d="M644.93 233.51h5.2l-2.6 4.6z"/><path d="M646.11 229.44h5.2l-2.6 4.6z"/><path d="M647.29 237.32h5.2l-2.6 4.6z"/><path d="M648.47 228.29h5.2l-2.6 4.6z"/><path d="M649.65 242.37h5.2l-2.6 4.6z"/><path d="M650.83 232.64h5.2l-2.6 4.6z"/><path d="M652.01 236.75h5.2l-2.6 4.6z"/><path d="M653.19 225.59h5.2l-2.6 4.6z"/><path d="M654.37 236.82h5.2l-2.6 4.6z"/><path d="M655.55 240.61h5.2l-2.6 4.6z"/><path d="M656.73 230.04h5.2l-2.6 4.6z"/><path d="M657.9 244.31h5.2l-2.6 4.6z"/><path d="M659.08 237.77h5.2l-2.6 4.6z"/><path d="M660.26 245.25h5.2l-2.6 4.6z"/><path d="M661.44 237.94h5.2l-2.6 4.6z"/><path d="M662.62 246.41h5.2l-2.6 4.6z"/><path d="M663.8 243.66h5.2l-2.6 4.6z"/><path d="M664.98 249.13h5.2l-2.6 4.6z"/><path d="M666.16 255.33h5.2l-2.6 4.6z"/><path d="M667.34 261.48h5.2l-2.6 4.6z"/><path d="M668.52 246.19h5.2l-2.6 4.6z"/><path d="M669.7 255.75h5.2l-2.6 4.6z"/><path d="M670.88 264.57h5.2l-2.6 4.6z"/><path d="M672.06 262.96h5.2l-2.6 4.6z"/></g><g fill="none" stroke="#F2B71E" stroke-width="0.8"><circle cx="416.32" cy="289.8" r="2.1"/><circle cx="417.56" cy="294.3" r="2.1"/><circle cx="418.79" cy="283.75" r="2.1"/><circle cx="420.03" cy="288.6" r="2.1"/><circle cx="421.27" cy="288.32" r="2.1"/><circle cx="422.51" cy="283.76" r="2.1"/><circle cx="423.74" cy="285.79" r="2.1"/><circle cx="424.98" cy="288.31" r="2.1"/><circle cx="426.22" cy="283.34" r="2.1"/><circle cx="427.46" cy="284.13" r="2.1"/><circle cx="428.69" cy="282.24" r="2.1"/><circle cx="429.93" cy="287.53" r="2.1"/><circle cx="431.17" cy="288.37" r="2.1"/><circle cx="432.4" cy="284.47" r="2.1"/><circle cx="433.64" cy="287.88" r="2.1"/><circle cx="434.88" cy="293.27" r="2.1"/><circle cx="436.12" cy="290.72" r="2.1"/><circle cx="437.35" cy="288.74" r="2.1"/><circle cx="438.59" cy="292.78" r="2.1"/><circle cx="439.83" cy="288.71" r="2.1"/><circle cx="441.07" cy="293.79" r="2.1"/><circle cx="442.3" cy="293.58" r="2.1"/><circle cx="443.54" cy="298.33" r="2.1"/><circle cx="444.78" cy="297.87" r="2.1"/><circle cx="446.02" cy="297.94" r="2.1"/><circle cx="447.25" cy="297.58" r="2.1"/><circle cx="448.49" cy="299.88" r="2.1"/><circle cx="449.73" cy="299.11" r="2.1"/><circle cx="450.96" cy="308.29" r="2.1"/><circle cx="452.2" cy="304.31" r="2.1"/><circle cx="453.44" cy="305.44" r="2.1"/><circle cx="454.68" cy="308.34" r="2.1"/><circle cx="455.91" cy="306.64" r="2.1"/><circle cx="457.15" cy="309.28" r="2.1"/><circle cx="458.39" cy="307.49" r="2.1"/><circle cx="459.63" cy="310.41" r="2.1"/><circle cx="460.86" cy="309.4" r="2.1"/><circle cx="462.1" cy="313.89" r="2.1"/><circle cx="463.34" cy="309.97" r="2.1"/><circle cx="464.58" cy="313.44" r="2.1"/><circle cx="465.81" cy="311.44" r="2.1"/><circle cx="467.05" cy="317.09" r="2.1"/><circle cx="468.29" cy="318.55" r="2.1"/><circle cx="469.52" cy="317.59" r="2.1"/><circle cx="470.76" cy="319.62" r="2.1"/><circle cx="472" cy="321.23" r="2.1"/><circle cx="473.24" cy="317.86" r="2.1"/><circle cx="474.47" cy="317.25" r="2.1"/><circle cx="475.71" cy="317.86" r="2.1"/><circle cx="476.95" cy="316.54" r="2.1"/><circle cx="478.19" cy="317.67" r="2.1"/><circle cx="479.42" cy="314.66" r="2.1"/><circle cx="480.66" cy="317.98" r="2.1"/><circle cx="481.9" cy="310.3" r="2.1"/><circle cx="483.14" cy="314.05" r="2.1"/><circle cx="484.37" cy="310.84" r="2.1"/><circle cx="485.61" cy="314.9" r="2.1"/><circle cx="486.85" cy="309.99" r="2.1"/><circle cx="488.08" cy="309.99" r="2.1"/><circle cx="489.32" cy="306.13" r="2.1"/><circle cx="490.56" cy="305.24" r="2.1"/><circle cx="491.8" cy="310.42" r="2.1"/><circle cx="493.03" cy="302.97" r="2.1"/><circle cx="494.27" cy="308.71" r="2.1"/><circle cx="495.51" cy="301.15" r="2.1"/><circle cx="496.75" cy="303.4" r="2.1"/><circle cx="497.98" cy="305" r="2.1"/><circle cx="499.22" cy="299.21" r="2.1"/><circle cx="500.46" cy="299.66" r="2.1"/><circle cx="501.7" cy="301.14" r="2.1"/><circle cx="502.93" cy="300.8" r="2.1"/><circle cx="504.17" cy="298.12" r="2.1"/><circle cx="505.41" cy="302.89" r="2.1"/><circle cx="506.64" cy="301.93" r="2.1"/><circle cx="507.88" cy="295.6" r="2.1"/><circle cx="509.12" cy="302.26" r="2.1"/><circle cx="510.36" cy="299.84" r="2.1"/><circle cx="511.59" cy="300.01" r="2.1"/><circle cx="512.83" cy="299.11" r="2.1"/><circle cx="514.07" cy="299.65" r="2.1"/><circle cx="515.31" cy="308.29" r="2.1"/><circle cx="516.54" cy="303.68" r="2.1"/><circle cx="517.78" cy="300.16" r="2.1"/><circle cx="519.02" cy="306.01" r="2.1"/><circle cx="520.25" cy="300.69" r="2.1"/><circle cx="521.49" cy="305.56" r="2.1"/><circle cx="522.73" cy="309.77" r="2.1"/><circle cx="523.97" cy="305.89" r="2.1"/><circle cx="525.2" cy="302.99" r="2.1"/><circle cx="526.44" cy="309.84" r="2.1"/><circle cx="527.68" cy="307.31" r="2.1"/><circle cx="528.92" cy="311.44" r="2.1"/><circle cx="530.15" cy="311.34" r="2.1"/><circle cx="531.39" cy="310.26" r="2.1"/><circle cx="532.63" cy="309.92" r="2.1"/><circle cx="533.87" cy="310.97" r="2.1"/><circle cx="535.1" cy="312.05" r="2.1"/><circle cx="536.34" cy="307.43" r="2.1"/><circle cx="537.58" cy="316.68" r="2.1"/><circle cx="538.81" cy="319.32" r="2.1"/><circle cx="540.05" cy="313.96" r="2.1"/><circle cx="541.29" cy="315.17" r="2.1"/><circle cx="542.53" cy="319.44" r="2.1"/><circle cx="543.76" cy="312.03" r="2.1"/><circle cx="545" cy="318.25" r="2.1"/><circle cx="546.24" cy="319.96" r="2.1"/><circle cx="547.48" cy="314.95" r="2.1"/><circle cx="548.71" cy="313.88" r="2.1"/><circle cx="549.95" cy="309.16" r="2.1"/><circle cx="551.19" cy="318.13" r="2.1"/><circle cx="552.43" cy="316.96" r="2.1"/><circle cx="553.66" cy="313.15" r="2.1"/><circle cx="554.9" cy="312.12" r="2.1"/><circle cx="556.14" cy="309.81" r="2.1"/><circle cx="557.37" cy="310.29" r="2.1"/><circle cx="558.61" cy="311.94" r="2.1"/><circle cx="559.85" cy="308.79" r="2.1"/><circle cx="561.09" cy="305.54" r="2.1"/><circle cx="562.32" cy="304.76" r="2.1"/><circle cx="563.56" cy="307.69" r="2.1"/><circle cx="564.8" cy="304.15" r="2.1"/><circle cx="566.04" cy="303.84" r="2.1"/><circle cx="567.27" cy="305.47" r="2.1"/><circle cx="568.51" cy="304.63" r="2.1"/><circle cx="569.75" cy="303.17" r="2.1"/><circle cx="570.99" cy="295.95" r="2.1"/><circle cx="572.22" cy="301.9" r="2.1"/><circle cx="573.46" cy="304.09" r="2.1"/><circle cx="574.7" cy="302" r="2.1"/><circle cx="575.93" cy="302.68" r="2.1"/><circle cx="577.17" cy="298.22" r="2.1"/><circle cx="578.41" cy="306" r="2.1"/><circle cx="579.65" cy="302.83" r="2.1"/><circle cx="580.88" cy="297.47" r="2.1"/><circle cx="582.12" cy="297.82" r="2.1"/><circle cx="583.36" cy="298.12" r="2.1"/><circle cx="584.6" cy="295.78" r="2.1"/><circle cx="585.83" cy="301.89" r="2.1"/><circle cx="587.07" cy="299.05" r="2.1"/><circle cx="588.31" cy="304.05" r="2.1"/><circle cx="589.55" cy="305.71" r="2.1"/><circle cx="590.78" cy="302.41" r="2.1"/><circle cx="592.02" cy="305.96" r="2.1"/><circle cx="593.26" cy="305.25" r="2.1"/><circle cx="594.49" cy="303.21" r="2.1"/><circle cx="595.73" cy="307.67" r="2.1"/><circle cx="596.97" cy="303.99" r="2.1"/><circle cx="598.21" cy="300.37" r="2.1"/><circle cx="599.44" cy="306.81" r="2.1"/><circle cx="600.68" cy="304.41" r="2.1"/><circle cx="601.92" cy="305.31" r="2.1"/><circle cx="603.16" cy="310.94" r="2.1"/><circle cx="604.39" cy="312.66" r="2.1"/><circle cx="605.63" cy="310.76" r="2.1"/><circle cx="606.87" cy="317.47" r="2.1"/><circle cx="608.1" cy="313.59" r="2.1"/><circle cx="609.34" cy="314.18" r="2.1"/><circle cx="610.58" cy="314.68" r="2.1"/><circle cx="611.82" cy="315.74" r="2.1"/><circle cx="613.05" cy="314.58" r="2.1"/><circle cx="614.29" cy="319.03" r="2.1"/><circle cx="615.53" cy="315.08" r="2.1"/><circle cx="616.77" cy="317.26" r="2.1"/><circle cx="618" cy="317.45" r="2.1"/><circle cx="619.24" cy="319.3" r="2.1"/><circle cx="620.48" cy="316.75" r="2.1"/><circle cx="621.72" cy="321.12" r="2.1"/><circle cx="622.95" cy="317.67" r="2.1"/><circle cx="624.19" cy="316.89" r="2.1"/><circle cx="625.43" cy="320.36" r="2.1"/><circle cx="626.66" cy="319.77" r="2.1"/><circle cx="627.9" cy="318.01" r="2.1"/><circle cx="629.14" cy="314.96" r="2.1"/><circle cx="630.38" cy="312.24" r="2.1"/><circle cx="631.61" cy="309.22" r="2.1"/><circle cx="632.85" cy="305.44" r="2.1"/><circle cx="634.09" cy="305.06" r="2.1"/><circle cx="635.33" cy="307.33" r="2.1"/><circle cx="636.56" cy="307.94" r="2.1"/><circle cx="637.8" cy="309.13" r="2.1"/><circle cx="639.04" cy="303.33" r="2.1"/><circle cx="640.28" cy="303.27" r="2.1"/><circle cx="641.51" cy="304.12" r="2.1"/><circle cx="642.75" cy="302.46" r="2.1"/><circle cx="643.99" cy="300.96" r="2.1"/><circle cx="645.22" cy="305.63" r="2.1"/><circle cx="646.46" cy="298.11" r="2.1"/><circle cx="647.7" cy="295.89" r="2.1"/><circle cx="648.94" cy="295.71" r="2.1"/><circle cx="650.17" cy="296.73" r="2.1"/><circle cx="651.41" cy="292.65" r="2.1"/><circle cx="652.65" cy="289.66" r="2.1"/><circle cx="653.89" cy="284.49" r="2.1"/><circle cx="655.12" cy="284.62" r="2.1"/><circle cx="656.36" cy="285.17" r="2.1"/><circle cx="657.6" cy="286.16" r="2.1"/><circle cx="658.84" cy="288.73" r="2.1"/><circle cx="660.07" cy="286" r="2.1"/><circle cx="661.31" cy="287.62" r="2.1"/><circle cx="662.55" cy="284.8" r="2.1"/><circle cx="663.78" cy="282.57" r="2.1"/><circle cx="665.02" cy="283.25" r="2.1"/><circle cx="666.26" cy="284.24" r="2.1"/><circle cx="667.5" cy="287.09" r="2.1"/><circle cx="668.73" cy="285.39" r="2.1"/><circle cx="669.97" cy="289.17" r="2.1"/><circle cx="671.21" cy="294.18" r="2.1"/><circle cx="672.45" cy="290.24" r="2.1"/><circle cx="673.68" cy="291.69" r="2.1"/><circle cx="674.92" cy="297.26" r="2.1"/><circle cx="430.09" cy="279.53" r="2.1"/><circle cx="505.73" cy="294.09" r="2.1"/><circle cx="588.89" cy="295.3" r="2.1"/><circle cx="664.78" cy="294.66" r="2.1"/><circle cx="440.23" cy="299.91" r="2.1"/></g></g>
<text x="70.1" y="169.6" class="tl">0</text><text x="52.3" y="102.1" class="tl">5</text><text x="61.2" y="102.1" class="tl">0</text><text x="70.1" y="102.1" class="tl">0</text><path d="M820 0L540 0L540 1040C440 950 280 870 100 810L100 1060C320 1130 480 1280 580 1466L820 1466Z" transform="translate(43.41 34.6) scale(0.007812 -0.007812)" fill="#111"/><text x="52.3" y="34.6" class="tl">0</text><text x="61.2" y="34.6" class="tl">0</text><text x="70.1" y="34.6" class="tl">0</text><text x="89.4" y="17.1" class="pl" style="font-size:11px">(a)</text><text x="401.7" y="167.6" class="tl">0</text><text x="383.9" y="100.93" class="tl">5</text><text x="392.8" y="100.93" class="tl">0</text><text x="401.7" y="100.93" class="tl">0</text><path d="M820 0L540 0L540 1040C440 950 280 870 100 810L100 1060C320 1130 480 1280 580 1466L820 1466Z" transform="translate(375.01 34.27) scale(0.007812 -0.007812)" fill="#111"/><text x="383.9" y="34.27" class="tl">0</text><text x="392.8" y="34.27" class="tl">0</text><text x="401.7" y="34.27" class="tl">0</text><text x="422" y="18.3" class="pl" style="font-size:11.2px">(b)</text><text x="69.8" y="351.5" class="tl">0</text><path d="M820 0L540 0L540 1040C440 950 280 870 100 810L100 1060C320 1130 480 1280 580 1466L820 1466Z" transform="translate(52 311.25) scale(0.007812 -0.007812)" fill="#111"/><text x="60.9" y="311.25" class="tl">0</text><text x="69.8" y="311.25" class="tl">0</text><text x="52" y="271" class="tl">2</text><text x="60.9" y="271" class="tl">0</text><text x="69.8" y="271" class="tl">0</text><text x="52" y="230.75" class="tl">3</text><text x="60.9" y="230.75" class="tl">0</text><text x="69.8" y="230.75" class="tl">0</text><text x="52" y="190.5" class="tl">4</text><text x="60.9" y="190.5" class="tl">0</text><text x="69.8" y="190.5" class="tl">0</text><text x="79.45" y="366.5" class="tl">0</text><text x="209.5" y="366.5" class="tl">5</text><path d="M820 0L540 0L540 1040C440 950 280 870 100 810L100 1060C320 1130 480 1280 580 1466L820 1466Z" transform="translate(335.1 366.5) scale(0.007812 -0.007812)" fill="#111"/><text x="344" y="366.5" class="tl">0</text><text x="88" y="197.9" class="pl" style="font-size:11px">(c)</text><text x="401.7" y="351.4" class="tl">0</text><text x="392.8" y="310.96" class="tl">5</text><text x="401.7" y="310.96" class="tl">0</text><path d="M820 0L540 0L540 1040C440 950 280 870 100 810L100 1060C320 1130 480 1280 580 1466L820 1466Z" transform="translate(383.9 270.53) scale(0.007812 -0.007812)" fill="#111"/><text x="392.8" y="270.53" class="tl">0</text><text x="401.7" y="270.53" class="tl">0</text><path d="M820 0L540 0L540 1040C440 950 280 870 100 810L100 1060C320 1130 480 1280 580 1466L820 1466Z" transform="translate(383.9 230.09) scale(0.007812 -0.007812)" fill="#111"/><text x="392.8" y="230.09" class="tl">5</text><text x="401.7" y="230.09" class="tl">0</text><text x="383.9" y="189.65" class="tl">2</text><text x="392.8" y="189.65" class="tl">0</text><text x="401.7" y="189.65" class="tl">0</text><text x="411.35" y="366.5" class="tl">0</text><text x="541.3" y="366.5" class="tl">5</text><path d="M820 0L540 0L540 1040C440 950 280 870 100 810L100 1060C320 1130 480 1280 580 1466L820 1466Z" transform="translate(666.8 366.5) scale(0.007812 -0.007812)" fill="#111"/><text x="675.7" y="366.5" class="tl">0</text><text x="420.4" y="199.15" class="pl" style="font-size:11px">(d)</text>
<text x="240" y="375" class="xl">Position</text>
<text x="568.6" y="372.7" class="xl">Position</text>
<text class="yl" transform="translate(16.2 249.4) rotate(-90) scale(1.145 1)">&lt;Degree&gt;</text>
<path d="M30.3 293.1V100h2.4v193.1z" fill="#000"/>
<path d="M31.5 88.2L37.1 102.8L31.5 99.9L25.9 102.8z" fill="#000"/>
</svg>
</body></html>
